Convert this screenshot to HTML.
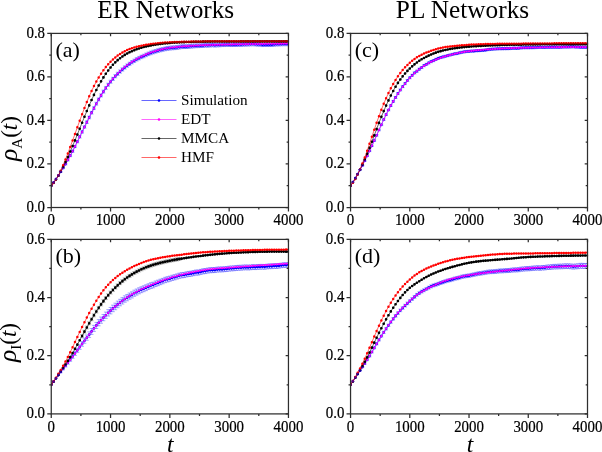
<!DOCTYPE html>
<html lang="en"><head><meta charset="utf-8"><title>ER and PL Networks</title>
<style>html,body{margin:0;padding:0;background:#fff}body{width:602px;height:452px;overflow:hidden}svg text{font-family:"Liberation Serif", "DejaVu Serif", serif}</style>
</head><body>
<svg width="602" height="452" viewBox="0 0 602 452" style="display:block">
<rect width="602" height="452" fill="#fff"/>
<g id="panel-a">
<clipPath id="clip-a"><rect x="51.25" y="33.4" width="237.8" height="174.1"/></clipPath>
<g clip-path="url(#clip-a)">
<path d="M60.74 171.25V172.31M58.84 171.25h3.8M58.84 172.31h3.8M63.11 167.3V168.64M61.21 167.3h3.8M61.21 168.64h3.8M65.48 163.27V164.87M63.58 163.27h3.8M63.58 164.87h3.8M67.85 159.03V160.9M65.95 159.03h3.8M65.95 160.9h3.8M70.23 154.65V156.69M68.33 154.65h3.8M68.33 156.69h3.8M72.6 150.13V152.25M70.7 150.13h3.8M70.7 152.25h3.8M74.97 145.44V147.64M73.07 145.44h3.8M73.07 147.64h3.8M77.34 140.59V142.87M75.44 140.59h3.8M75.44 142.87h3.8M79.71 135.68V138.04M77.81 135.68h3.8M77.81 138.04h3.8M82.09 130.72V133.16M80.19 130.72h3.8M80.19 133.16h3.8M84.46 125.72V128.24M82.56 125.72h3.8M82.56 128.24h3.8M86.83 120.89V123.49M84.93 120.89h3.8M84.93 123.49h3.8M89.2 116.11V118.79M87.3 116.11h3.8M87.3 118.79h3.8M91.57 111.34V114.1M89.67 111.34h3.8M89.67 114.1h3.8M93.95 106.73V109.57M92.05 106.73h3.8M92.05 109.57h3.8M96.32 102.27V105.19M94.42 102.27h3.8M94.42 105.19h3.8M98.69 97.95V100.95M96.79 97.95h3.8M96.79 100.95h3.8M101.06 93.87V96.9M99.16 93.87h3.8M99.16 96.9h3.8M103.43 90.12V93.17M101.53 90.12h3.8M101.53 93.17h3.8M105.81 86.45V89.53M103.91 86.45h3.8M103.91 89.53h3.8M108.18 83.21V86.31M106.28 83.21h3.8M106.28 86.31h3.8M110.55 80.19V83.32M108.65 80.19h3.8M108.65 83.32h3.8M112.92 77.3V80.46M111.02 77.3h3.8M111.02 80.46h3.8M115.29 74.62V77.81M113.39 74.62h3.8M113.39 77.81h3.8M117.67 72.22V75.44M115.77 72.22h3.8M115.77 75.44h3.8M120.04 69.96V73.2M118.14 69.96h3.8M118.14 73.2h3.8M122.41 67.82V71.08M120.51 67.82h3.8M120.51 71.08h3.8M124.78 65.81V69.1M122.88 65.81h3.8M122.88 69.1h3.8M127.15 63.96V67.28M125.25 63.96h3.8M125.25 67.28h3.8M129.53 62.22V65.56M127.63 62.22h3.8M127.63 65.56h3.8M131.9 60.52V63.89M130 60.52h3.8M130 63.89h3.8M134.27 59.13V62.53M132.37 59.13h3.8M132.37 62.53h3.8M136.64 57.59V61.02M134.74 57.59h3.8M134.74 61.02h3.8M139.01 56.4V59.85M137.11 56.4h3.8M137.11 59.85h3.8M141.39 55.19V58.67M139.49 55.19h3.8M139.49 58.67h3.8M143.76 54.23V57.74M141.86 54.23h3.8M141.86 57.74h3.8M146.13 53.09V56.63M144.23 53.09h3.8M144.23 56.63h3.8M148.5 52.02V55.58M146.6 52.02h3.8M146.6 55.58h3.8M150.87 51.1V54.69M148.97 51.1h3.8M148.97 54.69h3.8M153.25 50.22V53.83M151.35 50.22h3.8M151.35 53.83h3.8M155.62 49.49V53.13M153.72 49.49h3.8M153.72 53.13h3.8M157.99 48.72V52.38M156.09 48.72h3.8M156.09 52.38h3.8M160.36 48.12V51.82M158.46 48.12h3.8M158.46 51.82h3.8M162.73 47.56V51.28M160.83 47.56h3.8M160.83 51.28h3.8M165.11 46.99V50.73M163.21 46.99h3.8M163.21 50.73h3.8M167.48 46.54V50.31M165.58 46.54h3.8M165.58 50.31h3.8M169.85 46.2V50M167.95 46.2h3.8M167.95 50h3.8M172.22 45.95V49.74M170.32 45.95h3.8M170.32 49.74h3.8M174.59 45.86V49.64M172.69 45.86h3.8M172.69 49.64h3.8M176.97 45.56V49.33M175.07 45.56h3.8M175.07 49.33h3.8M179.34 45.2V48.96M177.44 45.2h3.8M177.44 48.96h3.8M181.71 44.83V48.59M179.81 44.83h3.8M179.81 48.59h3.8M184.08 44.76V48.52M182.18 44.76h3.8M182.18 48.52h3.8M186.45 44.76V48.51M184.55 44.76h3.8M184.55 48.51h3.8M188.83 44.58V48.31M186.93 44.58h3.8M186.93 48.31h3.8M191.2 44.32V48.05M189.3 44.32h3.8M189.3 48.05h3.8M193.57 44.16V47.88M191.67 44.16h3.8M191.67 47.88h3.8M195.94 43.92V47.63M194.04 43.92h3.8M194.04 47.63h3.8M198.31 43.91V47.62M196.41 43.91h3.8M196.41 47.62h3.8M200.69 43.83V47.53M198.79 43.83h3.8M198.79 47.53h3.8M203.06 43.72V47.41M201.16 43.72h3.8M201.16 47.41h3.8M205.43 43.44V47.12M203.53 43.44h3.8M203.53 47.12h3.8M207.8 43.47V47.15M205.9 43.47h3.8M205.9 47.15h3.8M210.17 43.32V46.98M208.27 43.32h3.8M208.27 46.98h3.8M212.55 43.14V46.79M210.65 43.14h3.8M210.65 46.79h3.8M214.92 43.37V47.02M213.02 43.37h3.8M213.02 47.02h3.8M217.29 43.19V46.83M215.39 43.19h3.8M215.39 46.83h3.8M219.66 43.13V46.76M217.76 43.13h3.8M217.76 46.76h3.8M222.03 42.94V46.56M220.13 42.94h3.8M220.13 46.56h3.8M224.41 42.92V46.54M222.51 42.92h3.8M222.51 46.54h3.8M226.78 42.78V46.39M224.88 42.78h3.8M224.88 46.39h3.8M229.15 42.83V46.43M227.25 42.83h3.8M227.25 46.43h3.8M231.52 42.93V46.53M229.62 42.93h3.8M229.62 46.53h3.8M233.89 42.9V46.48M231.99 42.9h3.8M231.99 46.48h3.8M236.27 42.9V46.47M234.37 42.9h3.8M234.37 46.47h3.8M238.64 42.76V46.33M236.74 42.76h3.8M236.74 46.33h3.8M241.01 42.79V46.35M239.11 42.79h3.8M239.11 46.35h3.8M243.38 42.6V46.16M241.48 42.6h3.8M241.48 46.16h3.8M245.75 42.57V46.11M243.85 42.57h3.8M243.85 46.11h3.8M248.13 42.49V46.03M246.23 42.49h3.8M246.23 46.03h3.8M250.5 42.36V45.89M248.6 42.36h3.8M248.6 45.89h3.8M252.87 42.2V45.72M250.97 42.2h3.8M250.97 45.72h3.8M255.24 42.4V45.91M253.34 42.4h3.8M253.34 45.91h3.8M257.61 42.66V46.17M255.71 42.66h3.8M255.71 46.17h3.8M259.99 42.69V46.19M258.09 42.69h3.8M258.09 46.19h3.8M262.36 43.06V46.55M260.46 43.06h3.8M260.46 46.55h3.8M264.73 43.03V46.51M262.83 43.03h3.8M262.83 46.51h3.8M267.1 43.01V46.49M265.2 43.01h3.8M265.2 46.49h3.8M269.47 43.02V46.49M267.57 43.02h3.8M267.57 46.49h3.8M271.85 42.97V46.43M269.95 42.97h3.8M269.95 46.43h3.8M274.22 42.74V46.19M272.32 42.74h3.8M272.32 46.19h3.8M276.59 42.55V45.99M274.69 42.55h3.8M274.69 45.99h3.8M278.96 42.49V45.93M277.06 42.49h3.8M277.06 45.93h3.8M281.33 42.33V45.76M279.43 42.33h3.8M279.43 45.76h3.8M283.71 42.3V45.72M281.81 42.3h3.8M281.81 45.72h3.8M286.08 42.29V45.7M284.18 42.29h3.8M284.18 45.7h3.8M288.45 42.33V45.73M286.55 42.33h3.8M286.55 45.73h3.8" stroke="#0000ff" stroke-width="0.5" fill="none" opacity="0.7"/>
<polyline points="51.25,185.74 53.62,182.51 55.99,179.09 58.37,175.5 60.74,171.78 63.11,167.97 65.48,164.07 67.85,159.97 70.23,155.67 72.6,151.19 74.97,146.54 77.34,141.73 79.71,136.86 82.09,131.94 84.46,126.98 86.83,122.19 89.2,117.45 91.57,112.72 93.95,108.15 96.32,103.73 98.69,99.45 101.06,95.39 103.43,91.64 105.81,87.99 108.18,84.76 110.55,81.76 112.92,78.88 115.29,76.21 117.67,73.83 120.04,71.58 122.41,69.45 124.78,67.45 127.15,65.62 129.53,63.89 131.9,62.2 134.27,60.83 136.64,59.3 139.01,58.13 141.39,56.93 143.76,55.98 146.13,54.86 148.5,53.8 150.87,52.9 153.25,52.03 155.62,51.31 157.99,50.55 160.36,49.97 162.73,49.42 165.11,48.86 167.48,48.43 169.85,48.1 172.22,47.84 174.59,47.75 176.97,47.44 179.34,47.08 181.71,46.71 184.08,46.64 186.45,46.63 188.83,46.44 191.2,46.19 193.57,46.02 195.94,45.78 198.31,45.76 200.69,45.68 203.06,45.57 205.43,45.28 207.8,45.31 210.17,45.15 212.55,44.96 214.92,45.19 217.29,45.01 219.66,44.95 222.03,44.75 224.41,44.73 226.78,44.58 229.15,44.63 231.52,44.73 233.89,44.69 236.27,44.68 238.64,44.55 241.01,44.57 243.38,44.38 245.75,44.34 248.13,44.26 250.5,44.12 252.87,43.96 255.24,44.16 257.61,44.41 259.99,44.44 262.36,44.8 264.73,44.77 267.1,44.75 269.47,44.76 271.85,44.7 274.22,44.47 276.59,44.27 278.96,44.21 281.33,44.05 283.71,44.01 286.08,44 288.45,44.03" fill="none" stroke="#0000ff" stroke-width="0.6"/>
<path d="M49.9 185.74a1.35 1.35 0 1 0 2.7 0a1.35 1.35 0 1 0 -2.7 0M52.27 182.51a1.35 1.35 0 1 0 2.7 0a1.35 1.35 0 1 0 -2.7 0M54.64 179.09a1.35 1.35 0 1 0 2.7 0a1.35 1.35 0 1 0 -2.7 0M57.02 175.5a1.35 1.35 0 1 0 2.7 0a1.35 1.35 0 1 0 -2.7 0M59.39 171.78a1.35 1.35 0 1 0 2.7 0a1.35 1.35 0 1 0 -2.7 0M61.76 167.97a1.35 1.35 0 1 0 2.7 0a1.35 1.35 0 1 0 -2.7 0M64.13 164.07a1.35 1.35 0 1 0 2.7 0a1.35 1.35 0 1 0 -2.7 0M66.5 159.97a1.35 1.35 0 1 0 2.7 0a1.35 1.35 0 1 0 -2.7 0M68.88 155.67a1.35 1.35 0 1 0 2.7 0a1.35 1.35 0 1 0 -2.7 0M71.25 151.19a1.35 1.35 0 1 0 2.7 0a1.35 1.35 0 1 0 -2.7 0M73.62 146.54a1.35 1.35 0 1 0 2.7 0a1.35 1.35 0 1 0 -2.7 0M75.99 141.73a1.35 1.35 0 1 0 2.7 0a1.35 1.35 0 1 0 -2.7 0M78.36 136.86a1.35 1.35 0 1 0 2.7 0a1.35 1.35 0 1 0 -2.7 0M80.74 131.94a1.35 1.35 0 1 0 2.7 0a1.35 1.35 0 1 0 -2.7 0M83.11 126.98a1.35 1.35 0 1 0 2.7 0a1.35 1.35 0 1 0 -2.7 0M85.48 122.19a1.35 1.35 0 1 0 2.7 0a1.35 1.35 0 1 0 -2.7 0M87.85 117.45a1.35 1.35 0 1 0 2.7 0a1.35 1.35 0 1 0 -2.7 0M90.22 112.72a1.35 1.35 0 1 0 2.7 0a1.35 1.35 0 1 0 -2.7 0M92.6 108.15a1.35 1.35 0 1 0 2.7 0a1.35 1.35 0 1 0 -2.7 0M94.97 103.73a1.35 1.35 0 1 0 2.7 0a1.35 1.35 0 1 0 -2.7 0M97.34 99.45a1.35 1.35 0 1 0 2.7 0a1.35 1.35 0 1 0 -2.7 0M99.71 95.39a1.35 1.35 0 1 0 2.7 0a1.35 1.35 0 1 0 -2.7 0M102.08 91.64a1.35 1.35 0 1 0 2.7 0a1.35 1.35 0 1 0 -2.7 0M104.46 87.99a1.35 1.35 0 1 0 2.7 0a1.35 1.35 0 1 0 -2.7 0M106.83 84.76a1.35 1.35 0 1 0 2.7 0a1.35 1.35 0 1 0 -2.7 0M109.2 81.76a1.35 1.35 0 1 0 2.7 0a1.35 1.35 0 1 0 -2.7 0M111.57 78.88a1.35 1.35 0 1 0 2.7 0a1.35 1.35 0 1 0 -2.7 0M113.94 76.21a1.35 1.35 0 1 0 2.7 0a1.35 1.35 0 1 0 -2.7 0M116.32 73.83a1.35 1.35 0 1 0 2.7 0a1.35 1.35 0 1 0 -2.7 0M118.69 71.58a1.35 1.35 0 1 0 2.7 0a1.35 1.35 0 1 0 -2.7 0M121.06 69.45a1.35 1.35 0 1 0 2.7 0a1.35 1.35 0 1 0 -2.7 0M123.43 67.45a1.35 1.35 0 1 0 2.7 0a1.35 1.35 0 1 0 -2.7 0M125.8 65.62a1.35 1.35 0 1 0 2.7 0a1.35 1.35 0 1 0 -2.7 0M128.18 63.89a1.35 1.35 0 1 0 2.7 0a1.35 1.35 0 1 0 -2.7 0M130.55 62.2a1.35 1.35 0 1 0 2.7 0a1.35 1.35 0 1 0 -2.7 0M132.92 60.83a1.35 1.35 0 1 0 2.7 0a1.35 1.35 0 1 0 -2.7 0M135.29 59.3a1.35 1.35 0 1 0 2.7 0a1.35 1.35 0 1 0 -2.7 0M137.66 58.13a1.35 1.35 0 1 0 2.7 0a1.35 1.35 0 1 0 -2.7 0M140.04 56.93a1.35 1.35 0 1 0 2.7 0a1.35 1.35 0 1 0 -2.7 0M142.41 55.98a1.35 1.35 0 1 0 2.7 0a1.35 1.35 0 1 0 -2.7 0M144.78 54.86a1.35 1.35 0 1 0 2.7 0a1.35 1.35 0 1 0 -2.7 0M147.15 53.8a1.35 1.35 0 1 0 2.7 0a1.35 1.35 0 1 0 -2.7 0M149.52 52.9a1.35 1.35 0 1 0 2.7 0a1.35 1.35 0 1 0 -2.7 0M151.9 52.03a1.35 1.35 0 1 0 2.7 0a1.35 1.35 0 1 0 -2.7 0M154.27 51.31a1.35 1.35 0 1 0 2.7 0a1.35 1.35 0 1 0 -2.7 0M156.64 50.55a1.35 1.35 0 1 0 2.7 0a1.35 1.35 0 1 0 -2.7 0M159.01 49.97a1.35 1.35 0 1 0 2.7 0a1.35 1.35 0 1 0 -2.7 0M161.38 49.42a1.35 1.35 0 1 0 2.7 0a1.35 1.35 0 1 0 -2.7 0M163.76 48.86a1.35 1.35 0 1 0 2.7 0a1.35 1.35 0 1 0 -2.7 0M166.13 48.43a1.35 1.35 0 1 0 2.7 0a1.35 1.35 0 1 0 -2.7 0M168.5 48.1a1.35 1.35 0 1 0 2.7 0a1.35 1.35 0 1 0 -2.7 0M170.87 47.84a1.35 1.35 0 1 0 2.7 0a1.35 1.35 0 1 0 -2.7 0M173.24 47.75a1.35 1.35 0 1 0 2.7 0a1.35 1.35 0 1 0 -2.7 0M175.62 47.44a1.35 1.35 0 1 0 2.7 0a1.35 1.35 0 1 0 -2.7 0M177.99 47.08a1.35 1.35 0 1 0 2.7 0a1.35 1.35 0 1 0 -2.7 0M180.36 46.71a1.35 1.35 0 1 0 2.7 0a1.35 1.35 0 1 0 -2.7 0M182.73 46.64a1.35 1.35 0 1 0 2.7 0a1.35 1.35 0 1 0 -2.7 0M185.1 46.63a1.35 1.35 0 1 0 2.7 0a1.35 1.35 0 1 0 -2.7 0M187.48 46.44a1.35 1.35 0 1 0 2.7 0a1.35 1.35 0 1 0 -2.7 0M189.85 46.19a1.35 1.35 0 1 0 2.7 0a1.35 1.35 0 1 0 -2.7 0M192.22 46.02a1.35 1.35 0 1 0 2.7 0a1.35 1.35 0 1 0 -2.7 0M194.59 45.78a1.35 1.35 0 1 0 2.7 0a1.35 1.35 0 1 0 -2.7 0M196.96 45.76a1.35 1.35 0 1 0 2.7 0a1.35 1.35 0 1 0 -2.7 0M199.34 45.68a1.35 1.35 0 1 0 2.7 0a1.35 1.35 0 1 0 -2.7 0M201.71 45.57a1.35 1.35 0 1 0 2.7 0a1.35 1.35 0 1 0 -2.7 0M204.08 45.28a1.35 1.35 0 1 0 2.7 0a1.35 1.35 0 1 0 -2.7 0M206.45 45.31a1.35 1.35 0 1 0 2.7 0a1.35 1.35 0 1 0 -2.7 0M208.82 45.15a1.35 1.35 0 1 0 2.7 0a1.35 1.35 0 1 0 -2.7 0M211.2 44.96a1.35 1.35 0 1 0 2.7 0a1.35 1.35 0 1 0 -2.7 0M213.57 45.19a1.35 1.35 0 1 0 2.7 0a1.35 1.35 0 1 0 -2.7 0M215.94 45.01a1.35 1.35 0 1 0 2.7 0a1.35 1.35 0 1 0 -2.7 0M218.31 44.95a1.35 1.35 0 1 0 2.7 0a1.35 1.35 0 1 0 -2.7 0M220.68 44.75a1.35 1.35 0 1 0 2.7 0a1.35 1.35 0 1 0 -2.7 0M223.06 44.73a1.35 1.35 0 1 0 2.7 0a1.35 1.35 0 1 0 -2.7 0M225.43 44.58a1.35 1.35 0 1 0 2.7 0a1.35 1.35 0 1 0 -2.7 0M227.8 44.63a1.35 1.35 0 1 0 2.7 0a1.35 1.35 0 1 0 -2.7 0M230.17 44.73a1.35 1.35 0 1 0 2.7 0a1.35 1.35 0 1 0 -2.7 0M232.54 44.69a1.35 1.35 0 1 0 2.7 0a1.35 1.35 0 1 0 -2.7 0M234.92 44.68a1.35 1.35 0 1 0 2.7 0a1.35 1.35 0 1 0 -2.7 0M237.29 44.55a1.35 1.35 0 1 0 2.7 0a1.35 1.35 0 1 0 -2.7 0M239.66 44.57a1.35 1.35 0 1 0 2.7 0a1.35 1.35 0 1 0 -2.7 0M242.03 44.38a1.35 1.35 0 1 0 2.7 0a1.35 1.35 0 1 0 -2.7 0M244.4 44.34a1.35 1.35 0 1 0 2.7 0a1.35 1.35 0 1 0 -2.7 0M246.78 44.26a1.35 1.35 0 1 0 2.7 0a1.35 1.35 0 1 0 -2.7 0M249.15 44.12a1.35 1.35 0 1 0 2.7 0a1.35 1.35 0 1 0 -2.7 0M251.52 43.96a1.35 1.35 0 1 0 2.7 0a1.35 1.35 0 1 0 -2.7 0M253.89 44.16a1.35 1.35 0 1 0 2.7 0a1.35 1.35 0 1 0 -2.7 0M256.26 44.41a1.35 1.35 0 1 0 2.7 0a1.35 1.35 0 1 0 -2.7 0M258.64 44.44a1.35 1.35 0 1 0 2.7 0a1.35 1.35 0 1 0 -2.7 0M261.01 44.8a1.35 1.35 0 1 0 2.7 0a1.35 1.35 0 1 0 -2.7 0M263.38 44.77a1.35 1.35 0 1 0 2.7 0a1.35 1.35 0 1 0 -2.7 0M265.75 44.75a1.35 1.35 0 1 0 2.7 0a1.35 1.35 0 1 0 -2.7 0M268.12 44.76a1.35 1.35 0 1 0 2.7 0a1.35 1.35 0 1 0 -2.7 0M270.5 44.7a1.35 1.35 0 1 0 2.7 0a1.35 1.35 0 1 0 -2.7 0M272.87 44.47a1.35 1.35 0 1 0 2.7 0a1.35 1.35 0 1 0 -2.7 0M275.24 44.27a1.35 1.35 0 1 0 2.7 0a1.35 1.35 0 1 0 -2.7 0M277.61 44.21a1.35 1.35 0 1 0 2.7 0a1.35 1.35 0 1 0 -2.7 0M279.98 44.05a1.35 1.35 0 1 0 2.7 0a1.35 1.35 0 1 0 -2.7 0M282.36 44.01a1.35 1.35 0 1 0 2.7 0a1.35 1.35 0 1 0 -2.7 0M284.73 44a1.35 1.35 0 1 0 2.7 0a1.35 1.35 0 1 0 -2.7 0M287.1 44.03a1.35 1.35 0 1 0 2.7 0a1.35 1.35 0 1 0 -2.7 0" fill="#0000ff"/>
<polyline points="51.25,185.74 53.62,182.51 55.99,179.09 58.37,175.51 60.74,171.79 63.11,167.98 65.48,164.07 67.85,160 70.23,155.72 72.6,151.23 74.97,146.56 77.34,141.77 79.71,136.91 82.09,132.02 84.46,127.14 86.83,122.29 89.2,117.51 91.57,112.81 93.95,108.22 96.32,103.76 98.69,99.48 101.06,95.42 103.43,91.59 105.81,88.01 108.18,84.68 110.55,81.58 112.92,78.7 115.29,76.03 117.67,73.55 120.04,71.23 122.41,69.07 124.78,67.07 127.15,65.21 129.53,63.49 131.9,61.91 134.27,60.43 136.64,59.06 139.01,57.78 141.39,56.58 143.76,55.44 146.13,54.38 148.5,53.4 150.87,52.51 153.25,51.69 155.62,50.95 157.99,50.27 160.36,49.66 162.73,49.1 165.11,48.61 167.48,48.18 169.85,47.8 172.22,47.48 174.59,47.19 176.97,46.93 179.34,46.7 181.71,46.49 184.08,46.3 186.45,46.13 188.83,45.96 191.2,45.81 193.57,45.68 195.94,45.55 198.31,45.43 200.69,45.32 203.06,45.22 205.43,45.13 207.8,45.04 210.17,44.96 212.55,44.89 214.92,44.83 217.29,44.76 219.66,44.7 222.03,44.64 224.41,44.59 226.78,44.53 229.15,44.48 231.52,44.42 233.89,44.37 236.27,44.32 238.64,44.27 241.01,44.23 243.38,44.18 245.75,44.14 248.13,44.1 250.5,44.06 252.87,44.02 255.24,43.99 257.61,43.95 259.99,43.92 262.36,43.89 264.73,43.85 267.1,43.82 269.47,43.79 271.85,43.76 274.22,43.73 276.59,43.7 278.96,43.67 281.33,43.64 283.71,43.62 286.08,43.59 288.45,43.56" fill="none" stroke="#ff00ff" stroke-width="0.6"/>
<path d="M50.2 185.74a1.05 1.05 0 1 0 2.1 0a1.05 1.05 0 1 0 -2.1 0M52.57 182.51a1.05 1.05 0 1 0 2.1 0a1.05 1.05 0 1 0 -2.1 0M54.94 179.09a1.05 1.05 0 1 0 2.1 0a1.05 1.05 0 1 0 -2.1 0M57.32 175.51a1.05 1.05 0 1 0 2.1 0a1.05 1.05 0 1 0 -2.1 0M59.69 171.79a1.05 1.05 0 1 0 2.1 0a1.05 1.05 0 1 0 -2.1 0M62.06 167.98a1.05 1.05 0 1 0 2.1 0a1.05 1.05 0 1 0 -2.1 0M64.43 164.07a1.05 1.05 0 1 0 2.1 0a1.05 1.05 0 1 0 -2.1 0M66.8 160a1.05 1.05 0 1 0 2.1 0a1.05 1.05 0 1 0 -2.1 0M69.18 155.72a1.05 1.05 0 1 0 2.1 0a1.05 1.05 0 1 0 -2.1 0M71.55 151.23a1.05 1.05 0 1 0 2.1 0a1.05 1.05 0 1 0 -2.1 0M73.92 146.56a1.05 1.05 0 1 0 2.1 0a1.05 1.05 0 1 0 -2.1 0M76.29 141.77a1.05 1.05 0 1 0 2.1 0a1.05 1.05 0 1 0 -2.1 0M78.66 136.91a1.05 1.05 0 1 0 2.1 0a1.05 1.05 0 1 0 -2.1 0M81.04 132.02a1.05 1.05 0 1 0 2.1 0a1.05 1.05 0 1 0 -2.1 0M83.41 127.14a1.05 1.05 0 1 0 2.1 0a1.05 1.05 0 1 0 -2.1 0M85.78 122.29a1.05 1.05 0 1 0 2.1 0a1.05 1.05 0 1 0 -2.1 0M88.15 117.51a1.05 1.05 0 1 0 2.1 0a1.05 1.05 0 1 0 -2.1 0M90.52 112.81a1.05 1.05 0 1 0 2.1 0a1.05 1.05 0 1 0 -2.1 0M92.9 108.22a1.05 1.05 0 1 0 2.1 0a1.05 1.05 0 1 0 -2.1 0M95.27 103.76a1.05 1.05 0 1 0 2.1 0a1.05 1.05 0 1 0 -2.1 0M97.64 99.48a1.05 1.05 0 1 0 2.1 0a1.05 1.05 0 1 0 -2.1 0M100.01 95.42a1.05 1.05 0 1 0 2.1 0a1.05 1.05 0 1 0 -2.1 0M102.38 91.59a1.05 1.05 0 1 0 2.1 0a1.05 1.05 0 1 0 -2.1 0M104.76 88.01a1.05 1.05 0 1 0 2.1 0a1.05 1.05 0 1 0 -2.1 0M107.13 84.68a1.05 1.05 0 1 0 2.1 0a1.05 1.05 0 1 0 -2.1 0M109.5 81.58a1.05 1.05 0 1 0 2.1 0a1.05 1.05 0 1 0 -2.1 0M111.87 78.7a1.05 1.05 0 1 0 2.1 0a1.05 1.05 0 1 0 -2.1 0M114.24 76.03a1.05 1.05 0 1 0 2.1 0a1.05 1.05 0 1 0 -2.1 0M116.62 73.55a1.05 1.05 0 1 0 2.1 0a1.05 1.05 0 1 0 -2.1 0M118.99 71.23a1.05 1.05 0 1 0 2.1 0a1.05 1.05 0 1 0 -2.1 0M121.36 69.07a1.05 1.05 0 1 0 2.1 0a1.05 1.05 0 1 0 -2.1 0M123.73 67.07a1.05 1.05 0 1 0 2.1 0a1.05 1.05 0 1 0 -2.1 0M126.1 65.21a1.05 1.05 0 1 0 2.1 0a1.05 1.05 0 1 0 -2.1 0M128.48 63.49a1.05 1.05 0 1 0 2.1 0a1.05 1.05 0 1 0 -2.1 0M130.85 61.91a1.05 1.05 0 1 0 2.1 0a1.05 1.05 0 1 0 -2.1 0M133.22 60.43a1.05 1.05 0 1 0 2.1 0a1.05 1.05 0 1 0 -2.1 0M135.59 59.06a1.05 1.05 0 1 0 2.1 0a1.05 1.05 0 1 0 -2.1 0M137.96 57.78a1.05 1.05 0 1 0 2.1 0a1.05 1.05 0 1 0 -2.1 0M140.34 56.58a1.05 1.05 0 1 0 2.1 0a1.05 1.05 0 1 0 -2.1 0M142.71 55.44a1.05 1.05 0 1 0 2.1 0a1.05 1.05 0 1 0 -2.1 0M145.08 54.38a1.05 1.05 0 1 0 2.1 0a1.05 1.05 0 1 0 -2.1 0M147.45 53.4a1.05 1.05 0 1 0 2.1 0a1.05 1.05 0 1 0 -2.1 0M149.82 52.51a1.05 1.05 0 1 0 2.1 0a1.05 1.05 0 1 0 -2.1 0M152.2 51.69a1.05 1.05 0 1 0 2.1 0a1.05 1.05 0 1 0 -2.1 0M154.57 50.95a1.05 1.05 0 1 0 2.1 0a1.05 1.05 0 1 0 -2.1 0M156.94 50.27a1.05 1.05 0 1 0 2.1 0a1.05 1.05 0 1 0 -2.1 0M159.31 49.66a1.05 1.05 0 1 0 2.1 0a1.05 1.05 0 1 0 -2.1 0M161.68 49.1a1.05 1.05 0 1 0 2.1 0a1.05 1.05 0 1 0 -2.1 0M164.06 48.61a1.05 1.05 0 1 0 2.1 0a1.05 1.05 0 1 0 -2.1 0M166.43 48.18a1.05 1.05 0 1 0 2.1 0a1.05 1.05 0 1 0 -2.1 0M168.8 47.8a1.05 1.05 0 1 0 2.1 0a1.05 1.05 0 1 0 -2.1 0M171.17 47.48a1.05 1.05 0 1 0 2.1 0a1.05 1.05 0 1 0 -2.1 0M173.54 47.19a1.05 1.05 0 1 0 2.1 0a1.05 1.05 0 1 0 -2.1 0M175.92 46.93a1.05 1.05 0 1 0 2.1 0a1.05 1.05 0 1 0 -2.1 0M178.29 46.7a1.05 1.05 0 1 0 2.1 0a1.05 1.05 0 1 0 -2.1 0M180.66 46.49a1.05 1.05 0 1 0 2.1 0a1.05 1.05 0 1 0 -2.1 0M183.03 46.3a1.05 1.05 0 1 0 2.1 0a1.05 1.05 0 1 0 -2.1 0M185.4 46.13a1.05 1.05 0 1 0 2.1 0a1.05 1.05 0 1 0 -2.1 0M187.78 45.96a1.05 1.05 0 1 0 2.1 0a1.05 1.05 0 1 0 -2.1 0M190.15 45.81a1.05 1.05 0 1 0 2.1 0a1.05 1.05 0 1 0 -2.1 0M192.52 45.68a1.05 1.05 0 1 0 2.1 0a1.05 1.05 0 1 0 -2.1 0M194.89 45.55a1.05 1.05 0 1 0 2.1 0a1.05 1.05 0 1 0 -2.1 0M197.26 45.43a1.05 1.05 0 1 0 2.1 0a1.05 1.05 0 1 0 -2.1 0M199.64 45.32a1.05 1.05 0 1 0 2.1 0a1.05 1.05 0 1 0 -2.1 0M202.01 45.22a1.05 1.05 0 1 0 2.1 0a1.05 1.05 0 1 0 -2.1 0M204.38 45.13a1.05 1.05 0 1 0 2.1 0a1.05 1.05 0 1 0 -2.1 0M206.75 45.04a1.05 1.05 0 1 0 2.1 0a1.05 1.05 0 1 0 -2.1 0M209.12 44.96a1.05 1.05 0 1 0 2.1 0a1.05 1.05 0 1 0 -2.1 0M211.5 44.89a1.05 1.05 0 1 0 2.1 0a1.05 1.05 0 1 0 -2.1 0M213.87 44.83a1.05 1.05 0 1 0 2.1 0a1.05 1.05 0 1 0 -2.1 0M216.24 44.76a1.05 1.05 0 1 0 2.1 0a1.05 1.05 0 1 0 -2.1 0M218.61 44.7a1.05 1.05 0 1 0 2.1 0a1.05 1.05 0 1 0 -2.1 0M220.98 44.64a1.05 1.05 0 1 0 2.1 0a1.05 1.05 0 1 0 -2.1 0M223.36 44.59a1.05 1.05 0 1 0 2.1 0a1.05 1.05 0 1 0 -2.1 0M225.73 44.53a1.05 1.05 0 1 0 2.1 0a1.05 1.05 0 1 0 -2.1 0M228.1 44.48a1.05 1.05 0 1 0 2.1 0a1.05 1.05 0 1 0 -2.1 0M230.47 44.42a1.05 1.05 0 1 0 2.1 0a1.05 1.05 0 1 0 -2.1 0M232.84 44.37a1.05 1.05 0 1 0 2.1 0a1.05 1.05 0 1 0 -2.1 0M235.22 44.32a1.05 1.05 0 1 0 2.1 0a1.05 1.05 0 1 0 -2.1 0M237.59 44.27a1.05 1.05 0 1 0 2.1 0a1.05 1.05 0 1 0 -2.1 0M239.96 44.23a1.05 1.05 0 1 0 2.1 0a1.05 1.05 0 1 0 -2.1 0M242.33 44.18a1.05 1.05 0 1 0 2.1 0a1.05 1.05 0 1 0 -2.1 0M244.7 44.14a1.05 1.05 0 1 0 2.1 0a1.05 1.05 0 1 0 -2.1 0M247.08 44.1a1.05 1.05 0 1 0 2.1 0a1.05 1.05 0 1 0 -2.1 0M249.45 44.06a1.05 1.05 0 1 0 2.1 0a1.05 1.05 0 1 0 -2.1 0M251.82 44.02a1.05 1.05 0 1 0 2.1 0a1.05 1.05 0 1 0 -2.1 0M254.19 43.99a1.05 1.05 0 1 0 2.1 0a1.05 1.05 0 1 0 -2.1 0M256.56 43.95a1.05 1.05 0 1 0 2.1 0a1.05 1.05 0 1 0 -2.1 0M258.94 43.92a1.05 1.05 0 1 0 2.1 0a1.05 1.05 0 1 0 -2.1 0M261.31 43.89a1.05 1.05 0 1 0 2.1 0a1.05 1.05 0 1 0 -2.1 0M263.68 43.85a1.05 1.05 0 1 0 2.1 0a1.05 1.05 0 1 0 -2.1 0M266.05 43.82a1.05 1.05 0 1 0 2.1 0a1.05 1.05 0 1 0 -2.1 0M268.42 43.79a1.05 1.05 0 1 0 2.1 0a1.05 1.05 0 1 0 -2.1 0M270.8 43.76a1.05 1.05 0 1 0 2.1 0a1.05 1.05 0 1 0 -2.1 0M273.17 43.73a1.05 1.05 0 1 0 2.1 0a1.05 1.05 0 1 0 -2.1 0M275.54 43.7a1.05 1.05 0 1 0 2.1 0a1.05 1.05 0 1 0 -2.1 0M277.91 43.67a1.05 1.05 0 1 0 2.1 0a1.05 1.05 0 1 0 -2.1 0M280.28 43.64a1.05 1.05 0 1 0 2.1 0a1.05 1.05 0 1 0 -2.1 0M282.66 43.62a1.05 1.05 0 1 0 2.1 0a1.05 1.05 0 1 0 -2.1 0M285.03 43.59a1.05 1.05 0 1 0 2.1 0a1.05 1.05 0 1 0 -2.1 0M287.4 43.56a1.05 1.05 0 1 0 2.1 0a1.05 1.05 0 1 0 -2.1 0" fill="#ff00ff"/>
<polyline points="51.25,185.74 53.62,182.8 55.99,179.45 58.37,175.68 60.74,171.51 63.11,166.97 65.48,162.09 67.85,156.94 70.23,151.57 72.6,146.04 74.97,140.37 77.34,134.58 79.71,128.68 82.09,122.73 84.46,116.82 86.83,111.02 89.2,105.4 91.57,100.01 93.95,94.9 96.32,90.07 98.69,85.55 101.06,81.33 103.43,77.42 105.81,73.82 108.18,70.52 110.55,67.52 112.92,64.8 115.29,62.35 117.67,60.16 120.04,58.2 122.41,56.45 124.78,54.9 127.15,53.51 129.53,52.28 131.9,51.18 134.27,50.19 136.64,49.29 139.01,48.48 141.39,47.74 143.76,47.07 146.13,46.46 148.5,45.92 150.87,45.42 153.25,44.98 155.62,44.58 157.99,44.22 160.36,43.9 162.73,43.62 165.11,43.36 167.48,43.14 169.85,42.95 172.22,42.77 174.59,42.62 176.97,42.48 179.34,42.36 181.71,42.26 184.08,42.16 186.45,42.07 188.83,42 191.2,41.93 193.57,41.86 195.94,41.81 198.31,41.76 200.69,41.71 203.06,41.67 205.43,41.64 207.8,41.61 210.17,41.58 212.55,41.55 214.92,41.53 217.29,41.51 219.66,41.5 222.03,41.48 224.41,41.47 226.78,41.46 229.15,41.45 231.52,41.44 233.89,41.44 236.27,41.43 238.64,41.43 241.01,41.42 243.38,41.42 245.75,41.41 248.13,41.41 250.5,41.41 252.87,41.41 255.24,41.4 257.61,41.4 259.99,41.4 262.36,41.4 264.73,41.4 267.1,41.4 269.47,41.4 271.85,41.39 274.22,41.39 276.59,41.39 278.96,41.39 281.33,41.39 283.71,41.39 286.08,41.39 288.45,41.39" fill="none" stroke="#000000" stroke-width="0.6"/>
<path d="M49.95 185.74a1.3 1.3 0 1 0 2.6 0a1.3 1.3 0 1 0 -2.6 0M52.32 182.8a1.3 1.3 0 1 0 2.6 0a1.3 1.3 0 1 0 -2.6 0M54.69 179.45a1.3 1.3 0 1 0 2.6 0a1.3 1.3 0 1 0 -2.6 0M57.07 175.68a1.3 1.3 0 1 0 2.6 0a1.3 1.3 0 1 0 -2.6 0M59.44 171.51a1.3 1.3 0 1 0 2.6 0a1.3 1.3 0 1 0 -2.6 0M61.81 166.97a1.3 1.3 0 1 0 2.6 0a1.3 1.3 0 1 0 -2.6 0M64.18 162.09a1.3 1.3 0 1 0 2.6 0a1.3 1.3 0 1 0 -2.6 0M66.55 156.94a1.3 1.3 0 1 0 2.6 0a1.3 1.3 0 1 0 -2.6 0M68.93 151.57a1.3 1.3 0 1 0 2.6 0a1.3 1.3 0 1 0 -2.6 0M71.3 146.04a1.3 1.3 0 1 0 2.6 0a1.3 1.3 0 1 0 -2.6 0M73.67 140.37a1.3 1.3 0 1 0 2.6 0a1.3 1.3 0 1 0 -2.6 0M76.04 134.58a1.3 1.3 0 1 0 2.6 0a1.3 1.3 0 1 0 -2.6 0M78.41 128.68a1.3 1.3 0 1 0 2.6 0a1.3 1.3 0 1 0 -2.6 0M80.79 122.73a1.3 1.3 0 1 0 2.6 0a1.3 1.3 0 1 0 -2.6 0M83.16 116.82a1.3 1.3 0 1 0 2.6 0a1.3 1.3 0 1 0 -2.6 0M85.53 111.02a1.3 1.3 0 1 0 2.6 0a1.3 1.3 0 1 0 -2.6 0M87.9 105.4a1.3 1.3 0 1 0 2.6 0a1.3 1.3 0 1 0 -2.6 0M90.27 100.01a1.3 1.3 0 1 0 2.6 0a1.3 1.3 0 1 0 -2.6 0M92.65 94.9a1.3 1.3 0 1 0 2.6 0a1.3 1.3 0 1 0 -2.6 0M95.02 90.07a1.3 1.3 0 1 0 2.6 0a1.3 1.3 0 1 0 -2.6 0M97.39 85.55a1.3 1.3 0 1 0 2.6 0a1.3 1.3 0 1 0 -2.6 0M99.76 81.33a1.3 1.3 0 1 0 2.6 0a1.3 1.3 0 1 0 -2.6 0M102.13 77.42a1.3 1.3 0 1 0 2.6 0a1.3 1.3 0 1 0 -2.6 0M104.51 73.82a1.3 1.3 0 1 0 2.6 0a1.3 1.3 0 1 0 -2.6 0M106.88 70.52a1.3 1.3 0 1 0 2.6 0a1.3 1.3 0 1 0 -2.6 0M109.25 67.52a1.3 1.3 0 1 0 2.6 0a1.3 1.3 0 1 0 -2.6 0M111.62 64.8a1.3 1.3 0 1 0 2.6 0a1.3 1.3 0 1 0 -2.6 0M113.99 62.35a1.3 1.3 0 1 0 2.6 0a1.3 1.3 0 1 0 -2.6 0M116.37 60.16a1.3 1.3 0 1 0 2.6 0a1.3 1.3 0 1 0 -2.6 0M118.74 58.2a1.3 1.3 0 1 0 2.6 0a1.3 1.3 0 1 0 -2.6 0M121.11 56.45a1.3 1.3 0 1 0 2.6 0a1.3 1.3 0 1 0 -2.6 0M123.48 54.9a1.3 1.3 0 1 0 2.6 0a1.3 1.3 0 1 0 -2.6 0M125.85 53.51a1.3 1.3 0 1 0 2.6 0a1.3 1.3 0 1 0 -2.6 0M128.23 52.28a1.3 1.3 0 1 0 2.6 0a1.3 1.3 0 1 0 -2.6 0M130.6 51.18a1.3 1.3 0 1 0 2.6 0a1.3 1.3 0 1 0 -2.6 0M132.97 50.19a1.3 1.3 0 1 0 2.6 0a1.3 1.3 0 1 0 -2.6 0M135.34 49.29a1.3 1.3 0 1 0 2.6 0a1.3 1.3 0 1 0 -2.6 0M137.71 48.48a1.3 1.3 0 1 0 2.6 0a1.3 1.3 0 1 0 -2.6 0M140.09 47.74a1.3 1.3 0 1 0 2.6 0a1.3 1.3 0 1 0 -2.6 0M142.46 47.07a1.3 1.3 0 1 0 2.6 0a1.3 1.3 0 1 0 -2.6 0M144.83 46.46a1.3 1.3 0 1 0 2.6 0a1.3 1.3 0 1 0 -2.6 0M147.2 45.92a1.3 1.3 0 1 0 2.6 0a1.3 1.3 0 1 0 -2.6 0M149.57 45.42a1.3 1.3 0 1 0 2.6 0a1.3 1.3 0 1 0 -2.6 0M151.95 44.98a1.3 1.3 0 1 0 2.6 0a1.3 1.3 0 1 0 -2.6 0M154.32 44.58a1.3 1.3 0 1 0 2.6 0a1.3 1.3 0 1 0 -2.6 0M156.69 44.22a1.3 1.3 0 1 0 2.6 0a1.3 1.3 0 1 0 -2.6 0M159.06 43.9a1.3 1.3 0 1 0 2.6 0a1.3 1.3 0 1 0 -2.6 0M161.43 43.62a1.3 1.3 0 1 0 2.6 0a1.3 1.3 0 1 0 -2.6 0M163.81 43.36a1.3 1.3 0 1 0 2.6 0a1.3 1.3 0 1 0 -2.6 0M166.18 43.14a1.3 1.3 0 1 0 2.6 0a1.3 1.3 0 1 0 -2.6 0M168.55 42.95a1.3 1.3 0 1 0 2.6 0a1.3 1.3 0 1 0 -2.6 0M170.92 42.77a1.3 1.3 0 1 0 2.6 0a1.3 1.3 0 1 0 -2.6 0M173.29 42.62a1.3 1.3 0 1 0 2.6 0a1.3 1.3 0 1 0 -2.6 0M175.67 42.48a1.3 1.3 0 1 0 2.6 0a1.3 1.3 0 1 0 -2.6 0M178.04 42.36a1.3 1.3 0 1 0 2.6 0a1.3 1.3 0 1 0 -2.6 0M180.41 42.26a1.3 1.3 0 1 0 2.6 0a1.3 1.3 0 1 0 -2.6 0M182.78 42.16a1.3 1.3 0 1 0 2.6 0a1.3 1.3 0 1 0 -2.6 0M185.15 42.07a1.3 1.3 0 1 0 2.6 0a1.3 1.3 0 1 0 -2.6 0M187.53 42a1.3 1.3 0 1 0 2.6 0a1.3 1.3 0 1 0 -2.6 0M189.9 41.93a1.3 1.3 0 1 0 2.6 0a1.3 1.3 0 1 0 -2.6 0M192.27 41.86a1.3 1.3 0 1 0 2.6 0a1.3 1.3 0 1 0 -2.6 0M194.64 41.81a1.3 1.3 0 1 0 2.6 0a1.3 1.3 0 1 0 -2.6 0M197.01 41.76a1.3 1.3 0 1 0 2.6 0a1.3 1.3 0 1 0 -2.6 0M199.39 41.71a1.3 1.3 0 1 0 2.6 0a1.3 1.3 0 1 0 -2.6 0M201.76 41.67a1.3 1.3 0 1 0 2.6 0a1.3 1.3 0 1 0 -2.6 0M204.13 41.64a1.3 1.3 0 1 0 2.6 0a1.3 1.3 0 1 0 -2.6 0M206.5 41.61a1.3 1.3 0 1 0 2.6 0a1.3 1.3 0 1 0 -2.6 0M208.87 41.58a1.3 1.3 0 1 0 2.6 0a1.3 1.3 0 1 0 -2.6 0M211.25 41.55a1.3 1.3 0 1 0 2.6 0a1.3 1.3 0 1 0 -2.6 0M213.62 41.53a1.3 1.3 0 1 0 2.6 0a1.3 1.3 0 1 0 -2.6 0M215.99 41.51a1.3 1.3 0 1 0 2.6 0a1.3 1.3 0 1 0 -2.6 0M218.36 41.5a1.3 1.3 0 1 0 2.6 0a1.3 1.3 0 1 0 -2.6 0M220.73 41.48a1.3 1.3 0 1 0 2.6 0a1.3 1.3 0 1 0 -2.6 0M223.11 41.47a1.3 1.3 0 1 0 2.6 0a1.3 1.3 0 1 0 -2.6 0M225.48 41.46a1.3 1.3 0 1 0 2.6 0a1.3 1.3 0 1 0 -2.6 0M227.85 41.45a1.3 1.3 0 1 0 2.6 0a1.3 1.3 0 1 0 -2.6 0M230.22 41.44a1.3 1.3 0 1 0 2.6 0a1.3 1.3 0 1 0 -2.6 0M232.59 41.44a1.3 1.3 0 1 0 2.6 0a1.3 1.3 0 1 0 -2.6 0M234.97 41.43a1.3 1.3 0 1 0 2.6 0a1.3 1.3 0 1 0 -2.6 0M237.34 41.43a1.3 1.3 0 1 0 2.6 0a1.3 1.3 0 1 0 -2.6 0M239.71 41.42a1.3 1.3 0 1 0 2.6 0a1.3 1.3 0 1 0 -2.6 0M242.08 41.42a1.3 1.3 0 1 0 2.6 0a1.3 1.3 0 1 0 -2.6 0M244.45 41.41a1.3 1.3 0 1 0 2.6 0a1.3 1.3 0 1 0 -2.6 0M246.83 41.41a1.3 1.3 0 1 0 2.6 0a1.3 1.3 0 1 0 -2.6 0M249.2 41.41a1.3 1.3 0 1 0 2.6 0a1.3 1.3 0 1 0 -2.6 0M251.57 41.41a1.3 1.3 0 1 0 2.6 0a1.3 1.3 0 1 0 -2.6 0M253.94 41.4a1.3 1.3 0 1 0 2.6 0a1.3 1.3 0 1 0 -2.6 0M256.31 41.4a1.3 1.3 0 1 0 2.6 0a1.3 1.3 0 1 0 -2.6 0M258.69 41.4a1.3 1.3 0 1 0 2.6 0a1.3 1.3 0 1 0 -2.6 0M261.06 41.4a1.3 1.3 0 1 0 2.6 0a1.3 1.3 0 1 0 -2.6 0M263.43 41.4a1.3 1.3 0 1 0 2.6 0a1.3 1.3 0 1 0 -2.6 0M265.8 41.4a1.3 1.3 0 1 0 2.6 0a1.3 1.3 0 1 0 -2.6 0M268.17 41.4a1.3 1.3 0 1 0 2.6 0a1.3 1.3 0 1 0 -2.6 0M270.55 41.39a1.3 1.3 0 1 0 2.6 0a1.3 1.3 0 1 0 -2.6 0M272.92 41.39a1.3 1.3 0 1 0 2.6 0a1.3 1.3 0 1 0 -2.6 0M275.29 41.39a1.3 1.3 0 1 0 2.6 0a1.3 1.3 0 1 0 -2.6 0M277.66 41.39a1.3 1.3 0 1 0 2.6 0a1.3 1.3 0 1 0 -2.6 0M280.03 41.39a1.3 1.3 0 1 0 2.6 0a1.3 1.3 0 1 0 -2.6 0M282.41 41.39a1.3 1.3 0 1 0 2.6 0a1.3 1.3 0 1 0 -2.6 0M284.78 41.39a1.3 1.3 0 1 0 2.6 0a1.3 1.3 0 1 0 -2.6 0M287.15 41.39a1.3 1.3 0 1 0 2.6 0a1.3 1.3 0 1 0 -2.6 0" fill="#000000"/>
<polyline points="51.25,185.74 53.62,183.05 55.99,179.62 58.37,175.48 60.74,170.7 63.11,165.35 65.48,159.54 67.85,153.39 70.23,147.02 72.6,140.51 74.97,133.95 77.34,127.36 79.71,120.8 82.09,114.33 84.46,108.04 86.83,102.02 89.2,96.33 91.57,91.03 93.95,86.12 96.32,81.6 98.69,77.47 101.06,73.68 103.43,70.24 105.81,67.11 108.18,64.29 110.55,61.74 112.92,59.45 115.29,57.39 117.67,55.56 120.04,53.92 122.41,52.46 124.78,51.18 127.15,50.05 129.53,49.07 131.9,48.2 134.27,47.45 136.64,46.79 139.01,46.2 141.39,45.69 143.76,45.22 146.13,44.8 148.5,44.42 150.87,44.07 153.25,43.76 155.62,43.47 157.99,43.22 160.36,42.99 162.73,42.78 165.11,42.6 167.48,42.44 169.85,42.3 172.22,42.18 174.59,42.07 176.97,41.98 179.34,41.89 181.71,41.81 184.08,41.74 186.45,41.68 188.83,41.63 191.2,41.58 193.57,41.53 195.94,41.49 198.31,41.46 200.69,41.43 203.06,41.4 205.43,41.37 207.8,41.35 210.17,41.33 212.55,41.31 214.92,41.29 217.29,41.28 219.66,41.27 222.03,41.26 224.41,41.25 226.78,41.24 229.15,41.24 231.52,41.23 233.89,41.23 236.27,41.22 238.64,41.22 241.01,41.22 243.38,41.22 245.75,41.21 248.13,41.21 250.5,41.21 252.87,41.21 255.24,41.21 257.61,41.21 259.99,41.21 262.36,41.21 264.73,41.2 267.1,41.2 269.47,41.2 271.85,41.2 274.22,41.2 276.59,41.2 278.96,41.2 281.33,41.2 283.71,41.2 286.08,41.2 288.45,41.2" fill="none" stroke="#ff0000" stroke-width="0.6"/>
<path d="M50 185.74a1.25 1.25 0 1 0 2.5 0a1.25 1.25 0 1 0 -2.5 0M52.37 183.05a1.25 1.25 0 1 0 2.5 0a1.25 1.25 0 1 0 -2.5 0M54.74 179.62a1.25 1.25 0 1 0 2.5 0a1.25 1.25 0 1 0 -2.5 0M57.12 175.48a1.25 1.25 0 1 0 2.5 0a1.25 1.25 0 1 0 -2.5 0M59.49 170.7a1.25 1.25 0 1 0 2.5 0a1.25 1.25 0 1 0 -2.5 0M61.86 165.35a1.25 1.25 0 1 0 2.5 0a1.25 1.25 0 1 0 -2.5 0M64.23 159.54a1.25 1.25 0 1 0 2.5 0a1.25 1.25 0 1 0 -2.5 0M66.6 153.39a1.25 1.25 0 1 0 2.5 0a1.25 1.25 0 1 0 -2.5 0M68.98 147.02a1.25 1.25 0 1 0 2.5 0a1.25 1.25 0 1 0 -2.5 0M71.35 140.51a1.25 1.25 0 1 0 2.5 0a1.25 1.25 0 1 0 -2.5 0M73.72 133.95a1.25 1.25 0 1 0 2.5 0a1.25 1.25 0 1 0 -2.5 0M76.09 127.36a1.25 1.25 0 1 0 2.5 0a1.25 1.25 0 1 0 -2.5 0M78.46 120.8a1.25 1.25 0 1 0 2.5 0a1.25 1.25 0 1 0 -2.5 0M80.84 114.33a1.25 1.25 0 1 0 2.5 0a1.25 1.25 0 1 0 -2.5 0M83.21 108.04a1.25 1.25 0 1 0 2.5 0a1.25 1.25 0 1 0 -2.5 0M85.58 102.02a1.25 1.25 0 1 0 2.5 0a1.25 1.25 0 1 0 -2.5 0M87.95 96.33a1.25 1.25 0 1 0 2.5 0a1.25 1.25 0 1 0 -2.5 0M90.32 91.03a1.25 1.25 0 1 0 2.5 0a1.25 1.25 0 1 0 -2.5 0M92.7 86.12a1.25 1.25 0 1 0 2.5 0a1.25 1.25 0 1 0 -2.5 0M95.07 81.6a1.25 1.25 0 1 0 2.5 0a1.25 1.25 0 1 0 -2.5 0M97.44 77.47a1.25 1.25 0 1 0 2.5 0a1.25 1.25 0 1 0 -2.5 0M99.81 73.68a1.25 1.25 0 1 0 2.5 0a1.25 1.25 0 1 0 -2.5 0M102.18 70.24a1.25 1.25 0 1 0 2.5 0a1.25 1.25 0 1 0 -2.5 0M104.56 67.11a1.25 1.25 0 1 0 2.5 0a1.25 1.25 0 1 0 -2.5 0M106.93 64.29a1.25 1.25 0 1 0 2.5 0a1.25 1.25 0 1 0 -2.5 0M109.3 61.74a1.25 1.25 0 1 0 2.5 0a1.25 1.25 0 1 0 -2.5 0M111.67 59.45a1.25 1.25 0 1 0 2.5 0a1.25 1.25 0 1 0 -2.5 0M114.04 57.39a1.25 1.25 0 1 0 2.5 0a1.25 1.25 0 1 0 -2.5 0M116.42 55.56a1.25 1.25 0 1 0 2.5 0a1.25 1.25 0 1 0 -2.5 0M118.79 53.92a1.25 1.25 0 1 0 2.5 0a1.25 1.25 0 1 0 -2.5 0M121.16 52.46a1.25 1.25 0 1 0 2.5 0a1.25 1.25 0 1 0 -2.5 0M123.53 51.18a1.25 1.25 0 1 0 2.5 0a1.25 1.25 0 1 0 -2.5 0M125.9 50.05a1.25 1.25 0 1 0 2.5 0a1.25 1.25 0 1 0 -2.5 0M128.28 49.07a1.25 1.25 0 1 0 2.5 0a1.25 1.25 0 1 0 -2.5 0M130.65 48.2a1.25 1.25 0 1 0 2.5 0a1.25 1.25 0 1 0 -2.5 0M133.02 47.45a1.25 1.25 0 1 0 2.5 0a1.25 1.25 0 1 0 -2.5 0M135.39 46.79a1.25 1.25 0 1 0 2.5 0a1.25 1.25 0 1 0 -2.5 0M137.76 46.2a1.25 1.25 0 1 0 2.5 0a1.25 1.25 0 1 0 -2.5 0M140.14 45.69a1.25 1.25 0 1 0 2.5 0a1.25 1.25 0 1 0 -2.5 0M142.51 45.22a1.25 1.25 0 1 0 2.5 0a1.25 1.25 0 1 0 -2.5 0M144.88 44.8a1.25 1.25 0 1 0 2.5 0a1.25 1.25 0 1 0 -2.5 0M147.25 44.42a1.25 1.25 0 1 0 2.5 0a1.25 1.25 0 1 0 -2.5 0M149.62 44.07a1.25 1.25 0 1 0 2.5 0a1.25 1.25 0 1 0 -2.5 0M152 43.76a1.25 1.25 0 1 0 2.5 0a1.25 1.25 0 1 0 -2.5 0M154.37 43.47a1.25 1.25 0 1 0 2.5 0a1.25 1.25 0 1 0 -2.5 0M156.74 43.22a1.25 1.25 0 1 0 2.5 0a1.25 1.25 0 1 0 -2.5 0M159.11 42.99a1.25 1.25 0 1 0 2.5 0a1.25 1.25 0 1 0 -2.5 0M161.48 42.78a1.25 1.25 0 1 0 2.5 0a1.25 1.25 0 1 0 -2.5 0M163.86 42.6a1.25 1.25 0 1 0 2.5 0a1.25 1.25 0 1 0 -2.5 0M166.23 42.44a1.25 1.25 0 1 0 2.5 0a1.25 1.25 0 1 0 -2.5 0M168.6 42.3a1.25 1.25 0 1 0 2.5 0a1.25 1.25 0 1 0 -2.5 0M170.97 42.18a1.25 1.25 0 1 0 2.5 0a1.25 1.25 0 1 0 -2.5 0M173.34 42.07a1.25 1.25 0 1 0 2.5 0a1.25 1.25 0 1 0 -2.5 0M175.72 41.98a1.25 1.25 0 1 0 2.5 0a1.25 1.25 0 1 0 -2.5 0M178.09 41.89a1.25 1.25 0 1 0 2.5 0a1.25 1.25 0 1 0 -2.5 0M180.46 41.81a1.25 1.25 0 1 0 2.5 0a1.25 1.25 0 1 0 -2.5 0M182.83 41.74a1.25 1.25 0 1 0 2.5 0a1.25 1.25 0 1 0 -2.5 0M185.2 41.68a1.25 1.25 0 1 0 2.5 0a1.25 1.25 0 1 0 -2.5 0M187.58 41.63a1.25 1.25 0 1 0 2.5 0a1.25 1.25 0 1 0 -2.5 0M189.95 41.58a1.25 1.25 0 1 0 2.5 0a1.25 1.25 0 1 0 -2.5 0M192.32 41.53a1.25 1.25 0 1 0 2.5 0a1.25 1.25 0 1 0 -2.5 0M194.69 41.49a1.25 1.25 0 1 0 2.5 0a1.25 1.25 0 1 0 -2.5 0M197.06 41.46a1.25 1.25 0 1 0 2.5 0a1.25 1.25 0 1 0 -2.5 0M199.44 41.43a1.25 1.25 0 1 0 2.5 0a1.25 1.25 0 1 0 -2.5 0M201.81 41.4a1.25 1.25 0 1 0 2.5 0a1.25 1.25 0 1 0 -2.5 0M204.18 41.37a1.25 1.25 0 1 0 2.5 0a1.25 1.25 0 1 0 -2.5 0M206.55 41.35a1.25 1.25 0 1 0 2.5 0a1.25 1.25 0 1 0 -2.5 0M208.92 41.33a1.25 1.25 0 1 0 2.5 0a1.25 1.25 0 1 0 -2.5 0M211.3 41.31a1.25 1.25 0 1 0 2.5 0a1.25 1.25 0 1 0 -2.5 0M213.67 41.29a1.25 1.25 0 1 0 2.5 0a1.25 1.25 0 1 0 -2.5 0M216.04 41.28a1.25 1.25 0 1 0 2.5 0a1.25 1.25 0 1 0 -2.5 0M218.41 41.27a1.25 1.25 0 1 0 2.5 0a1.25 1.25 0 1 0 -2.5 0M220.78 41.26a1.25 1.25 0 1 0 2.5 0a1.25 1.25 0 1 0 -2.5 0M223.16 41.25a1.25 1.25 0 1 0 2.5 0a1.25 1.25 0 1 0 -2.5 0M225.53 41.24a1.25 1.25 0 1 0 2.5 0a1.25 1.25 0 1 0 -2.5 0M227.9 41.24a1.25 1.25 0 1 0 2.5 0a1.25 1.25 0 1 0 -2.5 0M230.27 41.23a1.25 1.25 0 1 0 2.5 0a1.25 1.25 0 1 0 -2.5 0M232.64 41.23a1.25 1.25 0 1 0 2.5 0a1.25 1.25 0 1 0 -2.5 0M235.02 41.22a1.25 1.25 0 1 0 2.5 0a1.25 1.25 0 1 0 -2.5 0M237.39 41.22a1.25 1.25 0 1 0 2.5 0a1.25 1.25 0 1 0 -2.5 0M239.76 41.22a1.25 1.25 0 1 0 2.5 0a1.25 1.25 0 1 0 -2.5 0M242.13 41.22a1.25 1.25 0 1 0 2.5 0a1.25 1.25 0 1 0 -2.5 0M244.5 41.21a1.25 1.25 0 1 0 2.5 0a1.25 1.25 0 1 0 -2.5 0M246.88 41.21a1.25 1.25 0 1 0 2.5 0a1.25 1.25 0 1 0 -2.5 0M249.25 41.21a1.25 1.25 0 1 0 2.5 0a1.25 1.25 0 1 0 -2.5 0M251.62 41.21a1.25 1.25 0 1 0 2.5 0a1.25 1.25 0 1 0 -2.5 0M253.99 41.21a1.25 1.25 0 1 0 2.5 0a1.25 1.25 0 1 0 -2.5 0M256.36 41.21a1.25 1.25 0 1 0 2.5 0a1.25 1.25 0 1 0 -2.5 0M258.74 41.21a1.25 1.25 0 1 0 2.5 0a1.25 1.25 0 1 0 -2.5 0M261.11 41.21a1.25 1.25 0 1 0 2.5 0a1.25 1.25 0 1 0 -2.5 0M263.48 41.2a1.25 1.25 0 1 0 2.5 0a1.25 1.25 0 1 0 -2.5 0M265.85 41.2a1.25 1.25 0 1 0 2.5 0a1.25 1.25 0 1 0 -2.5 0M268.22 41.2a1.25 1.25 0 1 0 2.5 0a1.25 1.25 0 1 0 -2.5 0M270.6 41.2a1.25 1.25 0 1 0 2.5 0a1.25 1.25 0 1 0 -2.5 0M272.97 41.2a1.25 1.25 0 1 0 2.5 0a1.25 1.25 0 1 0 -2.5 0M275.34 41.2a1.25 1.25 0 1 0 2.5 0a1.25 1.25 0 1 0 -2.5 0M277.71 41.2a1.25 1.25 0 1 0 2.5 0a1.25 1.25 0 1 0 -2.5 0M280.08 41.2a1.25 1.25 0 1 0 2.5 0a1.25 1.25 0 1 0 -2.5 0M282.46 41.2a1.25 1.25 0 1 0 2.5 0a1.25 1.25 0 1 0 -2.5 0M284.83 41.2a1.25 1.25 0 1 0 2.5 0a1.25 1.25 0 1 0 -2.5 0M287.2 41.2a1.25 1.25 0 1 0 2.5 0a1.25 1.25 0 1 0 -2.5 0" fill="#ff0000"/>
<path d="M49.95 185.74a1.3 1.3 0 1 0 2.6 0a1.3 1.3 0 1 0 -2.6 0M52.32 182.8a1.3 1.3 0 1 0 2.6 0a1.3 1.3 0 1 0 -2.6 0M54.69 179.45a1.3 1.3 0 1 0 2.6 0a1.3 1.3 0 1 0 -2.6 0M57.07 175.68a1.3 1.3 0 1 0 2.6 0a1.3 1.3 0 1 0 -2.6 0M59.44 171.51a1.3 1.3 0 1 0 2.6 0a1.3 1.3 0 1 0 -2.6 0M61.81 166.97a1.3 1.3 0 1 0 2.6 0a1.3 1.3 0 1 0 -2.6 0M64.18 162.09a1.3 1.3 0 1 0 2.6 0a1.3 1.3 0 1 0 -2.6 0M66.55 156.94a1.3 1.3 0 1 0 2.6 0a1.3 1.3 0 1 0 -2.6 0M68.93 151.57a1.3 1.3 0 1 0 2.6 0a1.3 1.3 0 1 0 -2.6 0M71.3 146.04a1.3 1.3 0 1 0 2.6 0a1.3 1.3 0 1 0 -2.6 0M73.67 140.37a1.3 1.3 0 1 0 2.6 0a1.3 1.3 0 1 0 -2.6 0M76.04 134.58a1.3 1.3 0 1 0 2.6 0a1.3 1.3 0 1 0 -2.6 0M78.41 128.68a1.3 1.3 0 1 0 2.6 0a1.3 1.3 0 1 0 -2.6 0M80.79 122.73a1.3 1.3 0 1 0 2.6 0a1.3 1.3 0 1 0 -2.6 0M83.16 116.82a1.3 1.3 0 1 0 2.6 0a1.3 1.3 0 1 0 -2.6 0M85.53 111.02a1.3 1.3 0 1 0 2.6 0a1.3 1.3 0 1 0 -2.6 0M87.9 105.4a1.3 1.3 0 1 0 2.6 0a1.3 1.3 0 1 0 -2.6 0M90.27 100.01a1.3 1.3 0 1 0 2.6 0a1.3 1.3 0 1 0 -2.6 0M92.65 94.9a1.3 1.3 0 1 0 2.6 0a1.3 1.3 0 1 0 -2.6 0M95.02 90.07a1.3 1.3 0 1 0 2.6 0a1.3 1.3 0 1 0 -2.6 0M97.39 85.55a1.3 1.3 0 1 0 2.6 0a1.3 1.3 0 1 0 -2.6 0M99.76 81.33a1.3 1.3 0 1 0 2.6 0a1.3 1.3 0 1 0 -2.6 0M102.13 77.42a1.3 1.3 0 1 0 2.6 0a1.3 1.3 0 1 0 -2.6 0M104.51 73.82a1.3 1.3 0 1 0 2.6 0a1.3 1.3 0 1 0 -2.6 0M106.88 70.52a1.3 1.3 0 1 0 2.6 0a1.3 1.3 0 1 0 -2.6 0M109.25 67.52a1.3 1.3 0 1 0 2.6 0a1.3 1.3 0 1 0 -2.6 0M111.62 64.8a1.3 1.3 0 1 0 2.6 0a1.3 1.3 0 1 0 -2.6 0M113.99 62.35a1.3 1.3 0 1 0 2.6 0a1.3 1.3 0 1 0 -2.6 0M116.37 60.16a1.3 1.3 0 1 0 2.6 0a1.3 1.3 0 1 0 -2.6 0M118.74 58.2a1.3 1.3 0 1 0 2.6 0a1.3 1.3 0 1 0 -2.6 0M121.11 56.45a1.3 1.3 0 1 0 2.6 0a1.3 1.3 0 1 0 -2.6 0M123.48 54.9a1.3 1.3 0 1 0 2.6 0a1.3 1.3 0 1 0 -2.6 0M125.85 53.51a1.3 1.3 0 1 0 2.6 0a1.3 1.3 0 1 0 -2.6 0M128.23 52.28a1.3 1.3 0 1 0 2.6 0a1.3 1.3 0 1 0 -2.6 0M130.6 51.18a1.3 1.3 0 1 0 2.6 0a1.3 1.3 0 1 0 -2.6 0M132.97 50.19a1.3 1.3 0 1 0 2.6 0a1.3 1.3 0 1 0 -2.6 0M135.34 49.29a1.3 1.3 0 1 0 2.6 0a1.3 1.3 0 1 0 -2.6 0M137.71 48.48a1.3 1.3 0 1 0 2.6 0a1.3 1.3 0 1 0 -2.6 0M140.09 47.74a1.3 1.3 0 1 0 2.6 0a1.3 1.3 0 1 0 -2.6 0M142.46 47.07a1.3 1.3 0 1 0 2.6 0a1.3 1.3 0 1 0 -2.6 0M144.83 46.46a1.3 1.3 0 1 0 2.6 0a1.3 1.3 0 1 0 -2.6 0M147.2 45.92a1.3 1.3 0 1 0 2.6 0a1.3 1.3 0 1 0 -2.6 0M149.57 45.42a1.3 1.3 0 1 0 2.6 0a1.3 1.3 0 1 0 -2.6 0M151.95 44.98a1.3 1.3 0 1 0 2.6 0a1.3 1.3 0 1 0 -2.6 0M154.32 44.58a1.3 1.3 0 1 0 2.6 0a1.3 1.3 0 1 0 -2.6 0M156.69 44.22a1.3 1.3 0 1 0 2.6 0a1.3 1.3 0 1 0 -2.6 0M159.06 43.9a1.3 1.3 0 1 0 2.6 0a1.3 1.3 0 1 0 -2.6 0M161.43 43.62a1.3 1.3 0 1 0 2.6 0a1.3 1.3 0 1 0 -2.6 0M163.81 43.36a1.3 1.3 0 1 0 2.6 0a1.3 1.3 0 1 0 -2.6 0M166.18 43.14a1.3 1.3 0 1 0 2.6 0a1.3 1.3 0 1 0 -2.6 0M168.55 42.95a1.3 1.3 0 1 0 2.6 0a1.3 1.3 0 1 0 -2.6 0M170.92 42.77a1.3 1.3 0 1 0 2.6 0a1.3 1.3 0 1 0 -2.6 0M173.29 42.62a1.3 1.3 0 1 0 2.6 0a1.3 1.3 0 1 0 -2.6 0M175.67 42.48a1.3 1.3 0 1 0 2.6 0a1.3 1.3 0 1 0 -2.6 0M178.04 42.36a1.3 1.3 0 1 0 2.6 0a1.3 1.3 0 1 0 -2.6 0M180.41 42.26a1.3 1.3 0 1 0 2.6 0a1.3 1.3 0 1 0 -2.6 0M182.78 42.16a1.3 1.3 0 1 0 2.6 0a1.3 1.3 0 1 0 -2.6 0M185.15 42.07a1.3 1.3 0 1 0 2.6 0a1.3 1.3 0 1 0 -2.6 0M187.53 42a1.3 1.3 0 1 0 2.6 0a1.3 1.3 0 1 0 -2.6 0M189.9 41.93a1.3 1.3 0 1 0 2.6 0a1.3 1.3 0 1 0 -2.6 0M192.27 41.86a1.3 1.3 0 1 0 2.6 0a1.3 1.3 0 1 0 -2.6 0M194.64 41.81a1.3 1.3 0 1 0 2.6 0a1.3 1.3 0 1 0 -2.6 0M197.01 41.76a1.3 1.3 0 1 0 2.6 0a1.3 1.3 0 1 0 -2.6 0M199.39 41.71a1.3 1.3 0 1 0 2.6 0a1.3 1.3 0 1 0 -2.6 0M201.76 41.67a1.3 1.3 0 1 0 2.6 0a1.3 1.3 0 1 0 -2.6 0M204.13 41.64a1.3 1.3 0 1 0 2.6 0a1.3 1.3 0 1 0 -2.6 0M206.5 41.61a1.3 1.3 0 1 0 2.6 0a1.3 1.3 0 1 0 -2.6 0M208.87 41.58a1.3 1.3 0 1 0 2.6 0a1.3 1.3 0 1 0 -2.6 0M211.25 41.55a1.3 1.3 0 1 0 2.6 0a1.3 1.3 0 1 0 -2.6 0M213.62 41.53a1.3 1.3 0 1 0 2.6 0a1.3 1.3 0 1 0 -2.6 0M215.99 41.51a1.3 1.3 0 1 0 2.6 0a1.3 1.3 0 1 0 -2.6 0M218.36 41.5a1.3 1.3 0 1 0 2.6 0a1.3 1.3 0 1 0 -2.6 0M220.73 41.48a1.3 1.3 0 1 0 2.6 0a1.3 1.3 0 1 0 -2.6 0M223.11 41.47a1.3 1.3 0 1 0 2.6 0a1.3 1.3 0 1 0 -2.6 0M225.48 41.46a1.3 1.3 0 1 0 2.6 0a1.3 1.3 0 1 0 -2.6 0M227.85 41.45a1.3 1.3 0 1 0 2.6 0a1.3 1.3 0 1 0 -2.6 0M230.22 41.44a1.3 1.3 0 1 0 2.6 0a1.3 1.3 0 1 0 -2.6 0M232.59 41.44a1.3 1.3 0 1 0 2.6 0a1.3 1.3 0 1 0 -2.6 0M234.97 41.43a1.3 1.3 0 1 0 2.6 0a1.3 1.3 0 1 0 -2.6 0M237.34 41.43a1.3 1.3 0 1 0 2.6 0a1.3 1.3 0 1 0 -2.6 0M239.71 41.42a1.3 1.3 0 1 0 2.6 0a1.3 1.3 0 1 0 -2.6 0M242.08 41.42a1.3 1.3 0 1 0 2.6 0a1.3 1.3 0 1 0 -2.6 0M244.45 41.41a1.3 1.3 0 1 0 2.6 0a1.3 1.3 0 1 0 -2.6 0M246.83 41.41a1.3 1.3 0 1 0 2.6 0a1.3 1.3 0 1 0 -2.6 0M249.2 41.41a1.3 1.3 0 1 0 2.6 0a1.3 1.3 0 1 0 -2.6 0M251.57 41.41a1.3 1.3 0 1 0 2.6 0a1.3 1.3 0 1 0 -2.6 0M253.94 41.4a1.3 1.3 0 1 0 2.6 0a1.3 1.3 0 1 0 -2.6 0M256.31 41.4a1.3 1.3 0 1 0 2.6 0a1.3 1.3 0 1 0 -2.6 0M258.69 41.4a1.3 1.3 0 1 0 2.6 0a1.3 1.3 0 1 0 -2.6 0M261.06 41.4a1.3 1.3 0 1 0 2.6 0a1.3 1.3 0 1 0 -2.6 0M263.43 41.4a1.3 1.3 0 1 0 2.6 0a1.3 1.3 0 1 0 -2.6 0M265.8 41.4a1.3 1.3 0 1 0 2.6 0a1.3 1.3 0 1 0 -2.6 0M268.17 41.4a1.3 1.3 0 1 0 2.6 0a1.3 1.3 0 1 0 -2.6 0M270.55 41.39a1.3 1.3 0 1 0 2.6 0a1.3 1.3 0 1 0 -2.6 0M272.92 41.39a1.3 1.3 0 1 0 2.6 0a1.3 1.3 0 1 0 -2.6 0M275.29 41.39a1.3 1.3 0 1 0 2.6 0a1.3 1.3 0 1 0 -2.6 0M277.66 41.39a1.3 1.3 0 1 0 2.6 0a1.3 1.3 0 1 0 -2.6 0M280.03 41.39a1.3 1.3 0 1 0 2.6 0a1.3 1.3 0 1 0 -2.6 0M282.41 41.39a1.3 1.3 0 1 0 2.6 0a1.3 1.3 0 1 0 -2.6 0M284.78 41.39a1.3 1.3 0 1 0 2.6 0a1.3 1.3 0 1 0 -2.6 0M287.15 41.39a1.3 1.3 0 1 0 2.6 0a1.3 1.3 0 1 0 -2.6 0" fill="#000" opacity="0.33"/>
<path d="M49.95 185.74a1.3 1.3 0 1 0 2.6 0a1.3 1.3 0 1 0 -2.6 0M52.32 182.51a1.3 1.3 0 1 0 2.6 0a1.3 1.3 0 1 0 -2.6 0M54.69 179.09a1.3 1.3 0 1 0 2.6 0a1.3 1.3 0 1 0 -2.6 0M57.07 175.5a1.3 1.3 0 1 0 2.6 0a1.3 1.3 0 1 0 -2.6 0M59.44 171.78a1.3 1.3 0 1 0 2.6 0a1.3 1.3 0 1 0 -2.6 0" fill="#1a00ff" opacity="0.55"/>
<path d="M61.81 167.97a1.3 1.3 0 1 0 2.6 0a1.3 1.3 0 1 0 -2.6 0M64.18 164.07a1.3 1.3 0 1 0 2.6 0a1.3 1.3 0 1 0 -2.6 0" fill="#1a00ff" opacity="0.3"/>
</g>
<rect x="51.25" y="33.4" width="237.2" height="174.1" fill="none" stroke="#2e2e2e" stroke-width="1.25"/>
<path d="M51.25 207.5v4M51.25 33.4v2.8M80.9 207.5v2M80.9 33.4v1.8M110.55 207.5v4M110.55 33.4v2.8M140.2 207.5v2M140.2 33.4v1.8M169.85 207.5v4M169.85 33.4v2.8M199.5 207.5v2M199.5 33.4v1.8M229.15 207.5v4M229.15 33.4v2.8M258.8 207.5v2M258.8 33.4v1.8M288.45 207.5v4M288.45 33.4v2.8M51.25 207.5h-4M288.45 207.5h-2.8M51.25 185.74h-2M288.45 185.74h-1.8M51.25 163.97h-4M288.45 163.97h-2.8M51.25 142.21h-2M288.45 142.21h-1.8M51.25 120.45h-4M288.45 120.45h-2.8M51.25 98.69h-2M288.45 98.69h-1.8M51.25 76.93h-4M288.45 76.93h-2.8M51.25 55.16h-2M288.45 55.16h-1.8M51.25 33.4h-4M288.45 33.4h-2.8" stroke="#2e2e2e" stroke-width="1.25" fill="none"/>
<text transform="translate(51.25 225.4) scale(0.98 1.07)" font-size="15.2" text-anchor="middle" fill="#000" stroke="#000" stroke-width="0.2">0</text>
<text transform="translate(110.55 225.4) scale(0.98 1.07)" font-size="15.2" text-anchor="middle" fill="#000" stroke="#000" stroke-width="0.2">1000</text>
<text transform="translate(169.85 225.4) scale(0.98 1.07)" font-size="15.2" text-anchor="middle" fill="#000" stroke="#000" stroke-width="0.2">2000</text>
<text transform="translate(229.15 225.4) scale(0.98 1.07)" font-size="15.2" text-anchor="middle" fill="#000" stroke="#000" stroke-width="0.2">3000</text>
<text transform="translate(288.45 225.4) scale(0.98 1.07)" font-size="15.2" text-anchor="middle" fill="#000" stroke="#000" stroke-width="0.2">4000</text>
<text transform="translate(45.05 212) scale(0.98 1.07)" font-size="15.2" text-anchor="end" fill="#000" stroke="#000" stroke-width="0.2">0.0</text>
<text transform="translate(45.05 168.47) scale(0.98 1.07)" font-size="15.2" text-anchor="end" fill="#000" stroke="#000" stroke-width="0.2">0.2</text>
<text transform="translate(45.05 124.95) scale(0.98 1.07)" font-size="15.2" text-anchor="end" fill="#000" stroke="#000" stroke-width="0.2">0.4</text>
<text transform="translate(45.05 81.43) scale(0.98 1.07)" font-size="15.2" text-anchor="end" fill="#000" stroke="#000" stroke-width="0.2">0.6</text>
<text transform="translate(45.05 37.9) scale(0.98 1.07)" font-size="15.2" text-anchor="end" fill="#000" stroke="#000" stroke-width="0.2">0.8</text>
<text x="55.45" y="56.7" font-size="22" fill="#000">(a)</text>
</g>
<g id="panel-c">
<clipPath id="clip-c"><rect x="350.55" y="33.4" width="237.55" height="174.1"/></clipPath>
<g clip-path="url(#clip-c)">
<path d="M360.03 169.46V170.21M358.13 169.46h3.8M358.13 170.21h3.8M362.4 164.93V165.86M360.5 164.93h3.8M360.5 165.86h3.8M364.77 160.2V161.32M362.87 160.2h3.8M362.87 161.32h3.8M367.14 155.26V156.57M365.24 155.26h3.8M365.24 156.57h3.8M369.51 150.2V151.62M367.61 150.2h3.8M367.61 151.62h3.8M371.88 145.07V146.54M369.98 145.07h3.8M369.98 146.54h3.8M374.25 139.87V141.39M372.35 139.87h3.8M372.35 141.39h3.8M376.61 134.52V136.09M374.71 134.52h3.8M374.71 136.09h3.8M378.98 129.2V130.81M377.08 129.2h3.8M377.08 130.81h3.8M381.35 123.96V125.63M379.45 123.96h3.8M379.45 125.63h3.8M383.72 118.77V120.48M381.82 118.77h3.8M381.82 120.48h3.8M386.09 113.79V115.55M384.19 113.79h3.8M384.19 115.55h3.8M388.46 109.08V110.89M386.56 109.08h3.8M386.56 110.89h3.8M390.83 104.63V106.48M388.93 104.63h3.8M388.93 106.48h3.8M393.2 100.43V102.34M391.3 100.43h3.8M391.3 102.34h3.8M395.57 96.49V98.44M393.67 96.49h3.8M393.67 98.44h3.8M397.94 92.61V94.61M396.04 92.61h3.8M396.04 94.61h3.8M400.31 88.98V90.98M398.41 88.98h3.8M398.41 90.98h3.8M402.68 85.64V87.65M400.78 85.64h3.8M400.78 87.65h3.8M405.05 82.59V84.61M403.15 82.59h3.8M403.15 84.61h3.8M407.42 79.55V81.57M405.52 79.55h3.8M405.52 81.57h3.8M409.79 76.75V78.78M407.89 76.75h3.8M407.89 78.78h3.8M412.16 74.26V76.3M410.26 74.26h3.8M410.26 76.3h3.8M414.53 71.95V73.99M412.63 71.95h3.8M412.63 73.99h3.8M416.9 70.16V72.21M415 70.16h3.8M415 72.21h3.8M419.27 68.18V70.24M417.37 68.18h3.8M417.37 70.24h3.8M421.63 66.49V68.55M419.74 66.49h3.8M419.74 68.55h3.8M424 64.68V66.76M422.1 64.68h3.8M422.1 66.76h3.8M426.37 63.28V65.36M424.47 63.28h3.8M424.47 65.36h3.8M428.74 61.89V63.97M426.84 61.89h3.8M426.84 63.97h3.8M431.11 60.59V62.69M429.21 60.59h3.8M429.21 62.69h3.8M433.48 59.61V61.71M431.58 59.61h3.8M431.58 61.71h3.8M435.85 58.34V60.45M433.95 58.34h3.8M433.95 60.45h3.8M438.22 57.33V59.44M436.32 57.33h3.8M436.32 59.44h3.8M440.59 56.47V58.59M438.69 56.47h3.8M438.69 58.59h3.8M442.96 55.9V58.03M441.06 55.9h3.8M441.06 58.03h3.8M445.33 55.17V57.31M443.43 55.17h3.8M443.43 57.31h3.8M447.7 54.57V56.71M445.8 54.57h3.8M445.8 56.71h3.8M450.07 53.9V56.05M448.17 53.9h3.8M448.17 56.05h3.8M452.44 53.29V55.44M450.54 53.29h3.8M450.54 55.44h3.8M454.81 52.72V54.88M452.91 52.72h3.8M452.91 54.88h3.8M457.18 52.39V54.56M455.28 52.39h3.8M455.28 54.56h3.8M459.55 51.7V53.88M457.65 51.7h3.8M457.65 53.88h3.8M461.92 51.15V53.33M460.02 51.15h3.8M460.02 53.33h3.8M464.29 50.78V52.96M462.39 50.78h3.8M462.39 52.96h3.8M466.66 50.41V52.6M464.76 50.41h3.8M464.76 52.6h3.8M469.02 50.26V52.46M467.12 50.26h3.8M467.12 52.46h3.8M471.39 50.01V52.22M469.49 50.01h3.8M469.49 52.22h3.8M473.76 49.94V52.15M471.86 49.94h3.8M471.86 52.15h3.8M476.13 49.64V51.85M474.23 49.64h3.8M474.23 51.85h3.8M478.5 49.53V51.75M476.6 49.53h3.8M476.6 51.75h3.8M480.87 49.34V51.56M478.97 49.34h3.8M478.97 51.56h3.8M483.24 49.17V51.39M481.34 49.17h3.8M481.34 51.39h3.8M485.61 48.92V51.14M483.71 48.92h3.8M483.71 51.14h3.8M487.98 48.48V50.71M486.08 48.48h3.8M486.08 50.71h3.8M490.35 48.17V50.41M488.45 48.17h3.8M488.45 50.41h3.8M492.72 48V50.24M490.82 48h3.8M490.82 50.24h3.8M495.09 47.87V50.12M493.19 47.87h3.8M493.19 50.12h3.8M497.46 47.65V49.9M495.56 47.65h3.8M495.56 49.9h3.8M499.83 47.63V49.88M497.93 47.63h3.8M497.93 49.88h3.8M502.2 47.59V49.84M500.3 47.59h3.8M500.3 49.84h3.8M504.57 47.52V49.78M502.67 47.52h3.8M502.67 49.78h3.8M506.94 47.46V49.72M505.04 47.46h3.8M505.04 49.72h3.8M509.31 47.4V49.67M507.41 47.4h3.8M507.41 49.67h3.8M511.68 47.23V49.51M509.78 47.23h3.8M509.78 49.51h3.8M514.05 47.06V49.34M512.15 47.06h3.8M512.15 49.34h3.8M516.41 47.14V49.42M514.51 47.14h3.8M514.51 49.42h3.8M518.78 47V49.28M516.88 47h3.8M516.88 49.28h3.8M521.15 46.72V49.01M519.25 46.72h3.8M519.25 49.01h3.8M523.52 46.59V48.89M521.62 46.59h3.8M521.62 48.89h3.8M525.89 46.52V48.82M523.99 46.52h3.8M523.99 48.82h3.8M528.26 46.53V48.83M526.36 46.53h3.8M526.36 48.83h3.8M530.63 46.48V48.79M528.73 46.48h3.8M528.73 48.79h3.8M533 46.43V48.74M531.1 46.43h3.8M531.1 48.74h3.8M535.37 46.37V48.68M533.47 46.37h3.8M533.47 48.68h3.8M537.74 46.2V48.52M535.84 46.2h3.8M535.84 48.52h3.8M540.11 46.09V48.41M538.21 46.09h3.8M538.21 48.41h3.8M542.48 46.17V48.5M540.58 46.17h3.8M540.58 48.5h3.8M544.85 46.2V48.53M542.95 46.2h3.8M542.95 48.53h3.8M547.22 46.06V48.39M545.32 46.06h3.8M545.32 48.39h3.8M549.59 46.05V48.38M547.69 46.05h3.8M547.69 48.38h3.8M551.96 46.02V48.36M550.06 46.02h3.8M550.06 48.36h3.8M554.33 45.97V48.31M552.43 45.97h3.8M552.43 48.31h3.8M556.7 45.96V48.31M554.8 45.96h3.8M554.8 48.31h3.8M559.07 46.1V48.45M557.17 46.1h3.8M557.17 48.45h3.8M561.44 45.92V48.27M559.54 45.92h3.8M559.54 48.27h3.8M563.81 45.81V48.17M561.91 45.81h3.8M561.91 48.17h3.8M566.17 45.8V48.17M564.27 45.8h3.8M564.27 48.17h3.8M568.54 45.75V48.12M566.64 45.75h3.8M566.64 48.12h3.8M570.91 45.69V48.06M569.01 45.69h3.8M569.01 48.06h3.8M573.28 45.57V47.94M571.38 45.57h3.8M571.38 47.94h3.8M575.65 45.8V48.18M573.75 45.8h3.8M573.75 48.18h3.8M578.02 45.82V48.2M576.12 45.82h3.8M576.12 48.2h3.8M580.39 45.98V48.37M578.49 45.98h3.8M578.49 48.37h3.8M582.76 46.05V48.44M580.86 46.05h3.8M580.86 48.44h3.8M585.13 46.07V48.47M583.23 46.07h3.8M583.23 48.47h3.8M587.5 46.15V48.55M585.6 46.15h3.8M585.6 48.55h3.8" stroke="#0000ff" stroke-width="0.5" fill="none" opacity="0.7"/>
<polyline points="350.55,185.74 352.92,182.05 355.29,178.17 357.66,174.11 360.03,169.84 362.4,165.4 364.77,160.76 367.14,155.91 369.51,150.91 371.88,145.81 374.25,140.63 376.61,135.3 378.98,130 381.35,124.8 383.72,119.62 386.09,114.67 388.46,109.98 390.83,105.56 393.2,101.38 395.57,97.47 397.94,93.61 400.31,89.98 402.68,86.65 405.05,83.6 407.42,80.56 409.79,77.76 412.16,75.28 414.53,72.97 416.9,71.19 419.27,69.21 421.63,67.52 424,65.72 426.37,64.32 428.74,62.93 431.11,61.64 433.48,60.66 435.85,59.39 438.22,58.39 440.59,57.53 442.96,56.97 445.33,56.24 447.7,55.64 450.07,54.98 452.44,54.37 454.81,53.8 457.18,53.48 459.55,52.79 461.92,52.24 464.29,51.87 466.66,51.5 469.02,51.36 471.39,51.12 473.76,51.04 476.13,50.74 478.5,50.64 480.87,50.45 483.24,50.28 485.61,50.03 487.98,49.59 490.35,49.29 492.72,49.12 495.09,49 497.46,48.78 499.83,48.75 502.2,48.71 504.57,48.65 506.94,48.59 509.31,48.54 511.68,48.37 514.05,48.2 516.41,48.28 518.78,48.14 521.15,47.87 523.52,47.74 525.89,47.67 528.26,47.68 530.63,47.63 533,47.58 535.37,47.52 537.74,47.36 540.11,47.25 542.48,47.34 544.85,47.36 547.22,47.23 549.59,47.21 551.96,47.19 554.33,47.14 556.7,47.13 559.07,47.27 561.44,47.09 563.81,46.99 566.17,46.99 568.54,46.93 570.91,46.87 573.28,46.75 575.65,46.99 578.02,47.01 580.39,47.18 582.76,47.24 585.13,47.27 587.5,47.35" fill="none" stroke="#0000ff" stroke-width="0.6"/>
<path d="M349.2 185.74a1.35 1.35 0 1 0 2.7 0a1.35 1.35 0 1 0 -2.7 0M351.57 182.05a1.35 1.35 0 1 0 2.7 0a1.35 1.35 0 1 0 -2.7 0M353.94 178.17a1.35 1.35 0 1 0 2.7 0a1.35 1.35 0 1 0 -2.7 0M356.31 174.11a1.35 1.35 0 1 0 2.7 0a1.35 1.35 0 1 0 -2.7 0M358.68 169.84a1.35 1.35 0 1 0 2.7 0a1.35 1.35 0 1 0 -2.7 0M361.05 165.4a1.35 1.35 0 1 0 2.7 0a1.35 1.35 0 1 0 -2.7 0M363.42 160.76a1.35 1.35 0 1 0 2.7 0a1.35 1.35 0 1 0 -2.7 0M365.79 155.91a1.35 1.35 0 1 0 2.7 0a1.35 1.35 0 1 0 -2.7 0M368.16 150.91a1.35 1.35 0 1 0 2.7 0a1.35 1.35 0 1 0 -2.7 0M370.53 145.81a1.35 1.35 0 1 0 2.7 0a1.35 1.35 0 1 0 -2.7 0M372.89 140.63a1.35 1.35 0 1 0 2.7 0a1.35 1.35 0 1 0 -2.7 0M375.26 135.3a1.35 1.35 0 1 0 2.7 0a1.35 1.35 0 1 0 -2.7 0M377.63 130a1.35 1.35 0 1 0 2.7 0a1.35 1.35 0 1 0 -2.7 0M380 124.8a1.35 1.35 0 1 0 2.7 0a1.35 1.35 0 1 0 -2.7 0M382.37 119.62a1.35 1.35 0 1 0 2.7 0a1.35 1.35 0 1 0 -2.7 0M384.74 114.67a1.35 1.35 0 1 0 2.7 0a1.35 1.35 0 1 0 -2.7 0M387.11 109.98a1.35 1.35 0 1 0 2.7 0a1.35 1.35 0 1 0 -2.7 0M389.48 105.56a1.35 1.35 0 1 0 2.7 0a1.35 1.35 0 1 0 -2.7 0M391.85 101.38a1.35 1.35 0 1 0 2.7 0a1.35 1.35 0 1 0 -2.7 0M394.22 97.47a1.35 1.35 0 1 0 2.7 0a1.35 1.35 0 1 0 -2.7 0M396.59 93.61a1.35 1.35 0 1 0 2.7 0a1.35 1.35 0 1 0 -2.7 0M398.96 89.98a1.35 1.35 0 1 0 2.7 0a1.35 1.35 0 1 0 -2.7 0M401.33 86.65a1.35 1.35 0 1 0 2.7 0a1.35 1.35 0 1 0 -2.7 0M403.7 83.6a1.35 1.35 0 1 0 2.7 0a1.35 1.35 0 1 0 -2.7 0M406.07 80.56a1.35 1.35 0 1 0 2.7 0a1.35 1.35 0 1 0 -2.7 0M408.44 77.76a1.35 1.35 0 1 0 2.7 0a1.35 1.35 0 1 0 -2.7 0M410.81 75.28a1.35 1.35 0 1 0 2.7 0a1.35 1.35 0 1 0 -2.7 0M413.18 72.97a1.35 1.35 0 1 0 2.7 0a1.35 1.35 0 1 0 -2.7 0M415.55 71.19a1.35 1.35 0 1 0 2.7 0a1.35 1.35 0 1 0 -2.7 0M417.92 69.21a1.35 1.35 0 1 0 2.7 0a1.35 1.35 0 1 0 -2.7 0M420.28 67.52a1.35 1.35 0 1 0 2.7 0a1.35 1.35 0 1 0 -2.7 0M422.65 65.72a1.35 1.35 0 1 0 2.7 0a1.35 1.35 0 1 0 -2.7 0M425.02 64.32a1.35 1.35 0 1 0 2.7 0a1.35 1.35 0 1 0 -2.7 0M427.39 62.93a1.35 1.35 0 1 0 2.7 0a1.35 1.35 0 1 0 -2.7 0M429.76 61.64a1.35 1.35 0 1 0 2.7 0a1.35 1.35 0 1 0 -2.7 0M432.13 60.66a1.35 1.35 0 1 0 2.7 0a1.35 1.35 0 1 0 -2.7 0M434.5 59.39a1.35 1.35 0 1 0 2.7 0a1.35 1.35 0 1 0 -2.7 0M436.87 58.39a1.35 1.35 0 1 0 2.7 0a1.35 1.35 0 1 0 -2.7 0M439.24 57.53a1.35 1.35 0 1 0 2.7 0a1.35 1.35 0 1 0 -2.7 0M441.61 56.97a1.35 1.35 0 1 0 2.7 0a1.35 1.35 0 1 0 -2.7 0M443.98 56.24a1.35 1.35 0 1 0 2.7 0a1.35 1.35 0 1 0 -2.7 0M446.35 55.64a1.35 1.35 0 1 0 2.7 0a1.35 1.35 0 1 0 -2.7 0M448.72 54.98a1.35 1.35 0 1 0 2.7 0a1.35 1.35 0 1 0 -2.7 0M451.09 54.37a1.35 1.35 0 1 0 2.7 0a1.35 1.35 0 1 0 -2.7 0M453.46 53.8a1.35 1.35 0 1 0 2.7 0a1.35 1.35 0 1 0 -2.7 0M455.83 53.48a1.35 1.35 0 1 0 2.7 0a1.35 1.35 0 1 0 -2.7 0M458.2 52.79a1.35 1.35 0 1 0 2.7 0a1.35 1.35 0 1 0 -2.7 0M460.57 52.24a1.35 1.35 0 1 0 2.7 0a1.35 1.35 0 1 0 -2.7 0M462.94 51.87a1.35 1.35 0 1 0 2.7 0a1.35 1.35 0 1 0 -2.7 0M465.31 51.5a1.35 1.35 0 1 0 2.7 0a1.35 1.35 0 1 0 -2.7 0M467.67 51.36a1.35 1.35 0 1 0 2.7 0a1.35 1.35 0 1 0 -2.7 0M470.04 51.12a1.35 1.35 0 1 0 2.7 0a1.35 1.35 0 1 0 -2.7 0M472.41 51.04a1.35 1.35 0 1 0 2.7 0a1.35 1.35 0 1 0 -2.7 0M474.78 50.74a1.35 1.35 0 1 0 2.7 0a1.35 1.35 0 1 0 -2.7 0M477.15 50.64a1.35 1.35 0 1 0 2.7 0a1.35 1.35 0 1 0 -2.7 0M479.52 50.45a1.35 1.35 0 1 0 2.7 0a1.35 1.35 0 1 0 -2.7 0M481.89 50.28a1.35 1.35 0 1 0 2.7 0a1.35 1.35 0 1 0 -2.7 0M484.26 50.03a1.35 1.35 0 1 0 2.7 0a1.35 1.35 0 1 0 -2.7 0M486.63 49.59a1.35 1.35 0 1 0 2.7 0a1.35 1.35 0 1 0 -2.7 0M489 49.29a1.35 1.35 0 1 0 2.7 0a1.35 1.35 0 1 0 -2.7 0M491.37 49.12a1.35 1.35 0 1 0 2.7 0a1.35 1.35 0 1 0 -2.7 0M493.74 49a1.35 1.35 0 1 0 2.7 0a1.35 1.35 0 1 0 -2.7 0M496.11 48.78a1.35 1.35 0 1 0 2.7 0a1.35 1.35 0 1 0 -2.7 0M498.48 48.75a1.35 1.35 0 1 0 2.7 0a1.35 1.35 0 1 0 -2.7 0M500.85 48.71a1.35 1.35 0 1 0 2.7 0a1.35 1.35 0 1 0 -2.7 0M503.22 48.65a1.35 1.35 0 1 0 2.7 0a1.35 1.35 0 1 0 -2.7 0M505.59 48.59a1.35 1.35 0 1 0 2.7 0a1.35 1.35 0 1 0 -2.7 0M507.96 48.54a1.35 1.35 0 1 0 2.7 0a1.35 1.35 0 1 0 -2.7 0M510.33 48.37a1.35 1.35 0 1 0 2.7 0a1.35 1.35 0 1 0 -2.7 0M512.7 48.2a1.35 1.35 0 1 0 2.7 0a1.35 1.35 0 1 0 -2.7 0M515.06 48.28a1.35 1.35 0 1 0 2.7 0a1.35 1.35 0 1 0 -2.7 0M517.43 48.14a1.35 1.35 0 1 0 2.7 0a1.35 1.35 0 1 0 -2.7 0M519.8 47.87a1.35 1.35 0 1 0 2.7 0a1.35 1.35 0 1 0 -2.7 0M522.17 47.74a1.35 1.35 0 1 0 2.7 0a1.35 1.35 0 1 0 -2.7 0M524.54 47.67a1.35 1.35 0 1 0 2.7 0a1.35 1.35 0 1 0 -2.7 0M526.91 47.68a1.35 1.35 0 1 0 2.7 0a1.35 1.35 0 1 0 -2.7 0M529.28 47.63a1.35 1.35 0 1 0 2.7 0a1.35 1.35 0 1 0 -2.7 0M531.65 47.58a1.35 1.35 0 1 0 2.7 0a1.35 1.35 0 1 0 -2.7 0M534.02 47.52a1.35 1.35 0 1 0 2.7 0a1.35 1.35 0 1 0 -2.7 0M536.39 47.36a1.35 1.35 0 1 0 2.7 0a1.35 1.35 0 1 0 -2.7 0M538.76 47.25a1.35 1.35 0 1 0 2.7 0a1.35 1.35 0 1 0 -2.7 0M541.13 47.34a1.35 1.35 0 1 0 2.7 0a1.35 1.35 0 1 0 -2.7 0M543.5 47.36a1.35 1.35 0 1 0 2.7 0a1.35 1.35 0 1 0 -2.7 0M545.87 47.23a1.35 1.35 0 1 0 2.7 0a1.35 1.35 0 1 0 -2.7 0M548.24 47.21a1.35 1.35 0 1 0 2.7 0a1.35 1.35 0 1 0 -2.7 0M550.61 47.19a1.35 1.35 0 1 0 2.7 0a1.35 1.35 0 1 0 -2.7 0M552.98 47.14a1.35 1.35 0 1 0 2.7 0a1.35 1.35 0 1 0 -2.7 0M555.35 47.13a1.35 1.35 0 1 0 2.7 0a1.35 1.35 0 1 0 -2.7 0M557.72 47.27a1.35 1.35 0 1 0 2.7 0a1.35 1.35 0 1 0 -2.7 0M560.09 47.09a1.35 1.35 0 1 0 2.7 0a1.35 1.35 0 1 0 -2.7 0M562.46 46.99a1.35 1.35 0 1 0 2.7 0a1.35 1.35 0 1 0 -2.7 0M564.82 46.99a1.35 1.35 0 1 0 2.7 0a1.35 1.35 0 1 0 -2.7 0M567.19 46.93a1.35 1.35 0 1 0 2.7 0a1.35 1.35 0 1 0 -2.7 0M569.56 46.87a1.35 1.35 0 1 0 2.7 0a1.35 1.35 0 1 0 -2.7 0M571.93 46.75a1.35 1.35 0 1 0 2.7 0a1.35 1.35 0 1 0 -2.7 0M574.3 46.99a1.35 1.35 0 1 0 2.7 0a1.35 1.35 0 1 0 -2.7 0M576.67 47.01a1.35 1.35 0 1 0 2.7 0a1.35 1.35 0 1 0 -2.7 0M579.04 47.18a1.35 1.35 0 1 0 2.7 0a1.35 1.35 0 1 0 -2.7 0M581.41 47.24a1.35 1.35 0 1 0 2.7 0a1.35 1.35 0 1 0 -2.7 0M583.78 47.27a1.35 1.35 0 1 0 2.7 0a1.35 1.35 0 1 0 -2.7 0M586.15 47.35a1.35 1.35 0 1 0 2.7 0a1.35 1.35 0 1 0 -2.7 0" fill="#0000ff"/>
<polyline points="350.55,185.74 352.92,182.04 355.29,178.16 357.66,174.09 360.03,169.82 362.4,165.36 364.77,160.72 367.14,155.9 369.51,150.92 371.88,145.81 374.25,140.6 376.61,135.33 378.98,130.04 381.35,124.77 383.72,119.61 386.09,114.64 388.46,109.92 390.83,105.51 393.2,101.37 395.57,97.46 397.94,93.74 400.31,90.21 402.68,86.86 405.05,83.7 407.42,80.73 409.79,77.98 412.16,75.45 414.53,73.15 416.9,71.07 419.27,69.18 421.63,67.46 424,65.89 426.37,64.44 428.74,63.1 431.11,61.86 433.48,60.71 435.85,59.67 438.22,58.71 440.59,57.84 442.96,57.05 445.33,56.31 447.7,55.63 450.07,54.99 452.44,54.38 454.81,53.81 457.18,53.28 459.55,52.77 461.92,52.31 464.29,51.89 466.66,51.51 469.02,51.18 471.39,50.88 473.76,50.61 476.13,50.37 478.5,50.14 480.87,49.93 483.24,49.74 485.61,49.55 487.98,49.38 490.35,49.22 492.72,49.06 495.09,48.92 497.46,48.78 499.83,48.65 502.2,48.53 504.57,48.42 506.94,48.31 509.31,48.22 511.68,48.12 514.05,48.04 516.41,47.96 518.78,47.88 521.15,47.81 523.52,47.75 525.89,47.69 528.26,47.63 530.63,47.58 533,47.53 535.37,47.48 537.74,47.44 540.11,47.39 542.48,47.36 544.85,47.32 547.22,47.29 549.59,47.25 551.96,47.23 554.33,47.2 556.7,47.18 559.07,47.15 561.44,47.14 563.81,47.12 566.17,47.11 568.54,47.1 570.91,47.09 573.28,47.08 575.65,47.08 578.02,47.08 580.39,47.08 582.76,47.09 585.13,47.09 587.5,47.09" fill="none" stroke="#ff00ff" stroke-width="0.6"/>
<path d="M349.5 185.74a1.05 1.05 0 1 0 2.1 0a1.05 1.05 0 1 0 -2.1 0M351.87 182.04a1.05 1.05 0 1 0 2.1 0a1.05 1.05 0 1 0 -2.1 0M354.24 178.16a1.05 1.05 0 1 0 2.1 0a1.05 1.05 0 1 0 -2.1 0M356.61 174.09a1.05 1.05 0 1 0 2.1 0a1.05 1.05 0 1 0 -2.1 0M358.98 169.82a1.05 1.05 0 1 0 2.1 0a1.05 1.05 0 1 0 -2.1 0M361.35 165.36a1.05 1.05 0 1 0 2.1 0a1.05 1.05 0 1 0 -2.1 0M363.72 160.72a1.05 1.05 0 1 0 2.1 0a1.05 1.05 0 1 0 -2.1 0M366.09 155.9a1.05 1.05 0 1 0 2.1 0a1.05 1.05 0 1 0 -2.1 0M368.46 150.92a1.05 1.05 0 1 0 2.1 0a1.05 1.05 0 1 0 -2.1 0M370.83 145.81a1.05 1.05 0 1 0 2.1 0a1.05 1.05 0 1 0 -2.1 0M373.19 140.6a1.05 1.05 0 1 0 2.1 0a1.05 1.05 0 1 0 -2.1 0M375.56 135.33a1.05 1.05 0 1 0 2.1 0a1.05 1.05 0 1 0 -2.1 0M377.93 130.04a1.05 1.05 0 1 0 2.1 0a1.05 1.05 0 1 0 -2.1 0M380.3 124.77a1.05 1.05 0 1 0 2.1 0a1.05 1.05 0 1 0 -2.1 0M382.67 119.61a1.05 1.05 0 1 0 2.1 0a1.05 1.05 0 1 0 -2.1 0M385.04 114.64a1.05 1.05 0 1 0 2.1 0a1.05 1.05 0 1 0 -2.1 0M387.41 109.92a1.05 1.05 0 1 0 2.1 0a1.05 1.05 0 1 0 -2.1 0M389.78 105.51a1.05 1.05 0 1 0 2.1 0a1.05 1.05 0 1 0 -2.1 0M392.15 101.37a1.05 1.05 0 1 0 2.1 0a1.05 1.05 0 1 0 -2.1 0M394.52 97.46a1.05 1.05 0 1 0 2.1 0a1.05 1.05 0 1 0 -2.1 0M396.89 93.74a1.05 1.05 0 1 0 2.1 0a1.05 1.05 0 1 0 -2.1 0M399.26 90.21a1.05 1.05 0 1 0 2.1 0a1.05 1.05 0 1 0 -2.1 0M401.63 86.86a1.05 1.05 0 1 0 2.1 0a1.05 1.05 0 1 0 -2.1 0M404 83.7a1.05 1.05 0 1 0 2.1 0a1.05 1.05 0 1 0 -2.1 0M406.37 80.73a1.05 1.05 0 1 0 2.1 0a1.05 1.05 0 1 0 -2.1 0M408.74 77.98a1.05 1.05 0 1 0 2.1 0a1.05 1.05 0 1 0 -2.1 0M411.11 75.45a1.05 1.05 0 1 0 2.1 0a1.05 1.05 0 1 0 -2.1 0M413.48 73.15a1.05 1.05 0 1 0 2.1 0a1.05 1.05 0 1 0 -2.1 0M415.85 71.07a1.05 1.05 0 1 0 2.1 0a1.05 1.05 0 1 0 -2.1 0M418.22 69.18a1.05 1.05 0 1 0 2.1 0a1.05 1.05 0 1 0 -2.1 0M420.58 67.46a1.05 1.05 0 1 0 2.1 0a1.05 1.05 0 1 0 -2.1 0M422.95 65.89a1.05 1.05 0 1 0 2.1 0a1.05 1.05 0 1 0 -2.1 0M425.32 64.44a1.05 1.05 0 1 0 2.1 0a1.05 1.05 0 1 0 -2.1 0M427.69 63.1a1.05 1.05 0 1 0 2.1 0a1.05 1.05 0 1 0 -2.1 0M430.06 61.86a1.05 1.05 0 1 0 2.1 0a1.05 1.05 0 1 0 -2.1 0M432.43 60.71a1.05 1.05 0 1 0 2.1 0a1.05 1.05 0 1 0 -2.1 0M434.8 59.67a1.05 1.05 0 1 0 2.1 0a1.05 1.05 0 1 0 -2.1 0M437.17 58.71a1.05 1.05 0 1 0 2.1 0a1.05 1.05 0 1 0 -2.1 0M439.54 57.84a1.05 1.05 0 1 0 2.1 0a1.05 1.05 0 1 0 -2.1 0M441.91 57.05a1.05 1.05 0 1 0 2.1 0a1.05 1.05 0 1 0 -2.1 0M444.28 56.31a1.05 1.05 0 1 0 2.1 0a1.05 1.05 0 1 0 -2.1 0M446.65 55.63a1.05 1.05 0 1 0 2.1 0a1.05 1.05 0 1 0 -2.1 0M449.02 54.99a1.05 1.05 0 1 0 2.1 0a1.05 1.05 0 1 0 -2.1 0M451.39 54.38a1.05 1.05 0 1 0 2.1 0a1.05 1.05 0 1 0 -2.1 0M453.76 53.81a1.05 1.05 0 1 0 2.1 0a1.05 1.05 0 1 0 -2.1 0M456.13 53.28a1.05 1.05 0 1 0 2.1 0a1.05 1.05 0 1 0 -2.1 0M458.5 52.77a1.05 1.05 0 1 0 2.1 0a1.05 1.05 0 1 0 -2.1 0M460.87 52.31a1.05 1.05 0 1 0 2.1 0a1.05 1.05 0 1 0 -2.1 0M463.24 51.89a1.05 1.05 0 1 0 2.1 0a1.05 1.05 0 1 0 -2.1 0M465.61 51.51a1.05 1.05 0 1 0 2.1 0a1.05 1.05 0 1 0 -2.1 0M467.97 51.18a1.05 1.05 0 1 0 2.1 0a1.05 1.05 0 1 0 -2.1 0M470.34 50.88a1.05 1.05 0 1 0 2.1 0a1.05 1.05 0 1 0 -2.1 0M472.71 50.61a1.05 1.05 0 1 0 2.1 0a1.05 1.05 0 1 0 -2.1 0M475.08 50.37a1.05 1.05 0 1 0 2.1 0a1.05 1.05 0 1 0 -2.1 0M477.45 50.14a1.05 1.05 0 1 0 2.1 0a1.05 1.05 0 1 0 -2.1 0M479.82 49.93a1.05 1.05 0 1 0 2.1 0a1.05 1.05 0 1 0 -2.1 0M482.19 49.74a1.05 1.05 0 1 0 2.1 0a1.05 1.05 0 1 0 -2.1 0M484.56 49.55a1.05 1.05 0 1 0 2.1 0a1.05 1.05 0 1 0 -2.1 0M486.93 49.38a1.05 1.05 0 1 0 2.1 0a1.05 1.05 0 1 0 -2.1 0M489.3 49.22a1.05 1.05 0 1 0 2.1 0a1.05 1.05 0 1 0 -2.1 0M491.67 49.06a1.05 1.05 0 1 0 2.1 0a1.05 1.05 0 1 0 -2.1 0M494.04 48.92a1.05 1.05 0 1 0 2.1 0a1.05 1.05 0 1 0 -2.1 0M496.41 48.78a1.05 1.05 0 1 0 2.1 0a1.05 1.05 0 1 0 -2.1 0M498.78 48.65a1.05 1.05 0 1 0 2.1 0a1.05 1.05 0 1 0 -2.1 0M501.15 48.53a1.05 1.05 0 1 0 2.1 0a1.05 1.05 0 1 0 -2.1 0M503.52 48.42a1.05 1.05 0 1 0 2.1 0a1.05 1.05 0 1 0 -2.1 0M505.89 48.31a1.05 1.05 0 1 0 2.1 0a1.05 1.05 0 1 0 -2.1 0M508.26 48.22a1.05 1.05 0 1 0 2.1 0a1.05 1.05 0 1 0 -2.1 0M510.63 48.12a1.05 1.05 0 1 0 2.1 0a1.05 1.05 0 1 0 -2.1 0M513 48.04a1.05 1.05 0 1 0 2.1 0a1.05 1.05 0 1 0 -2.1 0M515.37 47.96a1.05 1.05 0 1 0 2.1 0a1.05 1.05 0 1 0 -2.1 0M517.73 47.88a1.05 1.05 0 1 0 2.1 0a1.05 1.05 0 1 0 -2.1 0M520.1 47.81a1.05 1.05 0 1 0 2.1 0a1.05 1.05 0 1 0 -2.1 0M522.47 47.75a1.05 1.05 0 1 0 2.1 0a1.05 1.05 0 1 0 -2.1 0M524.84 47.69a1.05 1.05 0 1 0 2.1 0a1.05 1.05 0 1 0 -2.1 0M527.21 47.63a1.05 1.05 0 1 0 2.1 0a1.05 1.05 0 1 0 -2.1 0M529.58 47.58a1.05 1.05 0 1 0 2.1 0a1.05 1.05 0 1 0 -2.1 0M531.95 47.53a1.05 1.05 0 1 0 2.1 0a1.05 1.05 0 1 0 -2.1 0M534.32 47.48a1.05 1.05 0 1 0 2.1 0a1.05 1.05 0 1 0 -2.1 0M536.69 47.44a1.05 1.05 0 1 0 2.1 0a1.05 1.05 0 1 0 -2.1 0M539.06 47.39a1.05 1.05 0 1 0 2.1 0a1.05 1.05 0 1 0 -2.1 0M541.43 47.36a1.05 1.05 0 1 0 2.1 0a1.05 1.05 0 1 0 -2.1 0M543.8 47.32a1.05 1.05 0 1 0 2.1 0a1.05 1.05 0 1 0 -2.1 0M546.17 47.29a1.05 1.05 0 1 0 2.1 0a1.05 1.05 0 1 0 -2.1 0M548.54 47.25a1.05 1.05 0 1 0 2.1 0a1.05 1.05 0 1 0 -2.1 0M550.91 47.23a1.05 1.05 0 1 0 2.1 0a1.05 1.05 0 1 0 -2.1 0M553.28 47.2a1.05 1.05 0 1 0 2.1 0a1.05 1.05 0 1 0 -2.1 0M555.65 47.18a1.05 1.05 0 1 0 2.1 0a1.05 1.05 0 1 0 -2.1 0M558.02 47.15a1.05 1.05 0 1 0 2.1 0a1.05 1.05 0 1 0 -2.1 0M560.39 47.14a1.05 1.05 0 1 0 2.1 0a1.05 1.05 0 1 0 -2.1 0M562.76 47.12a1.05 1.05 0 1 0 2.1 0a1.05 1.05 0 1 0 -2.1 0M565.12 47.11a1.05 1.05 0 1 0 2.1 0a1.05 1.05 0 1 0 -2.1 0M567.49 47.1a1.05 1.05 0 1 0 2.1 0a1.05 1.05 0 1 0 -2.1 0M569.86 47.09a1.05 1.05 0 1 0 2.1 0a1.05 1.05 0 1 0 -2.1 0M572.23 47.08a1.05 1.05 0 1 0 2.1 0a1.05 1.05 0 1 0 -2.1 0M574.6 47.08a1.05 1.05 0 1 0 2.1 0a1.05 1.05 0 1 0 -2.1 0M576.97 47.08a1.05 1.05 0 1 0 2.1 0a1.05 1.05 0 1 0 -2.1 0M579.34 47.08a1.05 1.05 0 1 0 2.1 0a1.05 1.05 0 1 0 -2.1 0M581.71 47.09a1.05 1.05 0 1 0 2.1 0a1.05 1.05 0 1 0 -2.1 0M584.08 47.09a1.05 1.05 0 1 0 2.1 0a1.05 1.05 0 1 0 -2.1 0M586.45 47.09a1.05 1.05 0 1 0 2.1 0a1.05 1.05 0 1 0 -2.1 0" fill="#ff00ff"/>
<polyline points="350.55,185.74 352.92,182.26 355.29,178.43 357.66,174.24 360.03,169.68 362.4,164.76 364.77,159.48 367.14,153.86 369.51,147.92 371.88,141.73 374.25,135.41 376.61,129.09 378.98,122.88 381.35,116.87 383.72,111.1 386.09,105.59 388.46,100.39 390.83,95.51 393.2,90.95 395.57,86.74 397.94,82.9 400.31,79.44 402.68,76.33 405.05,73.51 407.42,70.91 409.79,68.53 412.16,66.33 414.53,64.33 416.9,62.49 419.27,60.82 421.63,59.31 424,57.95 426.37,56.72 428.74,55.58 431.11,54.52 433.48,53.54 435.85,52.66 438.22,51.87 440.59,51.16 442.96,50.54 445.33,49.98 447.7,49.48 450.07,49.03 452.44,48.62 454.81,48.25 457.18,47.92 459.55,47.61 461.92,47.33 464.29,47.08 466.66,46.85 469.02,46.65 471.39,46.47 473.76,46.3 476.13,46.15 478.5,46.01 480.87,45.88 483.24,45.76 485.61,45.64 487.98,45.53 490.35,45.44 492.72,45.34 495.09,45.26 497.46,45.19 499.83,45.12 502.2,45.05 504.57,44.99 506.94,44.93 509.31,44.87 511.68,44.82 514.05,44.76 516.41,44.71 518.78,44.66 521.15,44.62 523.52,44.57 525.89,44.52 528.26,44.48 530.63,44.44 533,44.41 535.37,44.37 537.74,44.34 540.11,44.32 542.48,44.29 544.85,44.27 547.22,44.25 549.59,44.23 551.96,44.21 554.33,44.2 556.7,44.19 559.07,44.18 561.44,44.17 563.81,44.17 566.17,44.16 568.54,44.16 570.91,44.16 573.28,44.16 575.65,44.16 578.02,44.17 580.39,44.17 582.76,44.18 585.13,44.18 587.5,44.18" fill="none" stroke="#000000" stroke-width="0.6"/>
<path d="M349.25 185.74a1.3 1.3 0 1 0 2.6 0a1.3 1.3 0 1 0 -2.6 0M351.62 182.26a1.3 1.3 0 1 0 2.6 0a1.3 1.3 0 1 0 -2.6 0M353.99 178.43a1.3 1.3 0 1 0 2.6 0a1.3 1.3 0 1 0 -2.6 0M356.36 174.24a1.3 1.3 0 1 0 2.6 0a1.3 1.3 0 1 0 -2.6 0M358.73 169.68a1.3 1.3 0 1 0 2.6 0a1.3 1.3 0 1 0 -2.6 0M361.1 164.76a1.3 1.3 0 1 0 2.6 0a1.3 1.3 0 1 0 -2.6 0M363.47 159.48a1.3 1.3 0 1 0 2.6 0a1.3 1.3 0 1 0 -2.6 0M365.84 153.86a1.3 1.3 0 1 0 2.6 0a1.3 1.3 0 1 0 -2.6 0M368.21 147.92a1.3 1.3 0 1 0 2.6 0a1.3 1.3 0 1 0 -2.6 0M370.58 141.73a1.3 1.3 0 1 0 2.6 0a1.3 1.3 0 1 0 -2.6 0M372.94 135.41a1.3 1.3 0 1 0 2.6 0a1.3 1.3 0 1 0 -2.6 0M375.31 129.09a1.3 1.3 0 1 0 2.6 0a1.3 1.3 0 1 0 -2.6 0M377.68 122.88a1.3 1.3 0 1 0 2.6 0a1.3 1.3 0 1 0 -2.6 0M380.05 116.87a1.3 1.3 0 1 0 2.6 0a1.3 1.3 0 1 0 -2.6 0M382.42 111.1a1.3 1.3 0 1 0 2.6 0a1.3 1.3 0 1 0 -2.6 0M384.79 105.59a1.3 1.3 0 1 0 2.6 0a1.3 1.3 0 1 0 -2.6 0M387.16 100.39a1.3 1.3 0 1 0 2.6 0a1.3 1.3 0 1 0 -2.6 0M389.53 95.51a1.3 1.3 0 1 0 2.6 0a1.3 1.3 0 1 0 -2.6 0M391.9 90.95a1.3 1.3 0 1 0 2.6 0a1.3 1.3 0 1 0 -2.6 0M394.27 86.74a1.3 1.3 0 1 0 2.6 0a1.3 1.3 0 1 0 -2.6 0M396.64 82.9a1.3 1.3 0 1 0 2.6 0a1.3 1.3 0 1 0 -2.6 0M399.01 79.44a1.3 1.3 0 1 0 2.6 0a1.3 1.3 0 1 0 -2.6 0M401.38 76.33a1.3 1.3 0 1 0 2.6 0a1.3 1.3 0 1 0 -2.6 0M403.75 73.51a1.3 1.3 0 1 0 2.6 0a1.3 1.3 0 1 0 -2.6 0M406.12 70.91a1.3 1.3 0 1 0 2.6 0a1.3 1.3 0 1 0 -2.6 0M408.49 68.53a1.3 1.3 0 1 0 2.6 0a1.3 1.3 0 1 0 -2.6 0M410.86 66.33a1.3 1.3 0 1 0 2.6 0a1.3 1.3 0 1 0 -2.6 0M413.23 64.33a1.3 1.3 0 1 0 2.6 0a1.3 1.3 0 1 0 -2.6 0M415.6 62.49a1.3 1.3 0 1 0 2.6 0a1.3 1.3 0 1 0 -2.6 0M417.97 60.82a1.3 1.3 0 1 0 2.6 0a1.3 1.3 0 1 0 -2.6 0M420.33 59.31a1.3 1.3 0 1 0 2.6 0a1.3 1.3 0 1 0 -2.6 0M422.7 57.95a1.3 1.3 0 1 0 2.6 0a1.3 1.3 0 1 0 -2.6 0M425.07 56.72a1.3 1.3 0 1 0 2.6 0a1.3 1.3 0 1 0 -2.6 0M427.44 55.58a1.3 1.3 0 1 0 2.6 0a1.3 1.3 0 1 0 -2.6 0M429.81 54.52a1.3 1.3 0 1 0 2.6 0a1.3 1.3 0 1 0 -2.6 0M432.18 53.54a1.3 1.3 0 1 0 2.6 0a1.3 1.3 0 1 0 -2.6 0M434.55 52.66a1.3 1.3 0 1 0 2.6 0a1.3 1.3 0 1 0 -2.6 0M436.92 51.87a1.3 1.3 0 1 0 2.6 0a1.3 1.3 0 1 0 -2.6 0M439.29 51.16a1.3 1.3 0 1 0 2.6 0a1.3 1.3 0 1 0 -2.6 0M441.66 50.54a1.3 1.3 0 1 0 2.6 0a1.3 1.3 0 1 0 -2.6 0M444.03 49.98a1.3 1.3 0 1 0 2.6 0a1.3 1.3 0 1 0 -2.6 0M446.4 49.48a1.3 1.3 0 1 0 2.6 0a1.3 1.3 0 1 0 -2.6 0M448.77 49.03a1.3 1.3 0 1 0 2.6 0a1.3 1.3 0 1 0 -2.6 0M451.14 48.62a1.3 1.3 0 1 0 2.6 0a1.3 1.3 0 1 0 -2.6 0M453.51 48.25a1.3 1.3 0 1 0 2.6 0a1.3 1.3 0 1 0 -2.6 0M455.88 47.92a1.3 1.3 0 1 0 2.6 0a1.3 1.3 0 1 0 -2.6 0M458.25 47.61a1.3 1.3 0 1 0 2.6 0a1.3 1.3 0 1 0 -2.6 0M460.62 47.33a1.3 1.3 0 1 0 2.6 0a1.3 1.3 0 1 0 -2.6 0M462.99 47.08a1.3 1.3 0 1 0 2.6 0a1.3 1.3 0 1 0 -2.6 0M465.36 46.85a1.3 1.3 0 1 0 2.6 0a1.3 1.3 0 1 0 -2.6 0M467.72 46.65a1.3 1.3 0 1 0 2.6 0a1.3 1.3 0 1 0 -2.6 0M470.09 46.47a1.3 1.3 0 1 0 2.6 0a1.3 1.3 0 1 0 -2.6 0M472.46 46.3a1.3 1.3 0 1 0 2.6 0a1.3 1.3 0 1 0 -2.6 0M474.83 46.15a1.3 1.3 0 1 0 2.6 0a1.3 1.3 0 1 0 -2.6 0M477.2 46.01a1.3 1.3 0 1 0 2.6 0a1.3 1.3 0 1 0 -2.6 0M479.57 45.88a1.3 1.3 0 1 0 2.6 0a1.3 1.3 0 1 0 -2.6 0M481.94 45.76a1.3 1.3 0 1 0 2.6 0a1.3 1.3 0 1 0 -2.6 0M484.31 45.64a1.3 1.3 0 1 0 2.6 0a1.3 1.3 0 1 0 -2.6 0M486.68 45.53a1.3 1.3 0 1 0 2.6 0a1.3 1.3 0 1 0 -2.6 0M489.05 45.44a1.3 1.3 0 1 0 2.6 0a1.3 1.3 0 1 0 -2.6 0M491.42 45.34a1.3 1.3 0 1 0 2.6 0a1.3 1.3 0 1 0 -2.6 0M493.79 45.26a1.3 1.3 0 1 0 2.6 0a1.3 1.3 0 1 0 -2.6 0M496.16 45.19a1.3 1.3 0 1 0 2.6 0a1.3 1.3 0 1 0 -2.6 0M498.53 45.12a1.3 1.3 0 1 0 2.6 0a1.3 1.3 0 1 0 -2.6 0M500.9 45.05a1.3 1.3 0 1 0 2.6 0a1.3 1.3 0 1 0 -2.6 0M503.27 44.99a1.3 1.3 0 1 0 2.6 0a1.3 1.3 0 1 0 -2.6 0M505.64 44.93a1.3 1.3 0 1 0 2.6 0a1.3 1.3 0 1 0 -2.6 0M508.01 44.87a1.3 1.3 0 1 0 2.6 0a1.3 1.3 0 1 0 -2.6 0M510.38 44.82a1.3 1.3 0 1 0 2.6 0a1.3 1.3 0 1 0 -2.6 0M512.75 44.76a1.3 1.3 0 1 0 2.6 0a1.3 1.3 0 1 0 -2.6 0M515.12 44.71a1.3 1.3 0 1 0 2.6 0a1.3 1.3 0 1 0 -2.6 0M517.48 44.66a1.3 1.3 0 1 0 2.6 0a1.3 1.3 0 1 0 -2.6 0M519.85 44.62a1.3 1.3 0 1 0 2.6 0a1.3 1.3 0 1 0 -2.6 0M522.22 44.57a1.3 1.3 0 1 0 2.6 0a1.3 1.3 0 1 0 -2.6 0M524.59 44.52a1.3 1.3 0 1 0 2.6 0a1.3 1.3 0 1 0 -2.6 0M526.96 44.48a1.3 1.3 0 1 0 2.6 0a1.3 1.3 0 1 0 -2.6 0M529.33 44.44a1.3 1.3 0 1 0 2.6 0a1.3 1.3 0 1 0 -2.6 0M531.7 44.41a1.3 1.3 0 1 0 2.6 0a1.3 1.3 0 1 0 -2.6 0M534.07 44.37a1.3 1.3 0 1 0 2.6 0a1.3 1.3 0 1 0 -2.6 0M536.44 44.34a1.3 1.3 0 1 0 2.6 0a1.3 1.3 0 1 0 -2.6 0M538.81 44.32a1.3 1.3 0 1 0 2.6 0a1.3 1.3 0 1 0 -2.6 0M541.18 44.29a1.3 1.3 0 1 0 2.6 0a1.3 1.3 0 1 0 -2.6 0M543.55 44.27a1.3 1.3 0 1 0 2.6 0a1.3 1.3 0 1 0 -2.6 0M545.92 44.25a1.3 1.3 0 1 0 2.6 0a1.3 1.3 0 1 0 -2.6 0M548.29 44.23a1.3 1.3 0 1 0 2.6 0a1.3 1.3 0 1 0 -2.6 0M550.66 44.21a1.3 1.3 0 1 0 2.6 0a1.3 1.3 0 1 0 -2.6 0M553.03 44.2a1.3 1.3 0 1 0 2.6 0a1.3 1.3 0 1 0 -2.6 0M555.4 44.19a1.3 1.3 0 1 0 2.6 0a1.3 1.3 0 1 0 -2.6 0M557.77 44.18a1.3 1.3 0 1 0 2.6 0a1.3 1.3 0 1 0 -2.6 0M560.14 44.17a1.3 1.3 0 1 0 2.6 0a1.3 1.3 0 1 0 -2.6 0M562.51 44.17a1.3 1.3 0 1 0 2.6 0a1.3 1.3 0 1 0 -2.6 0M564.87 44.16a1.3 1.3 0 1 0 2.6 0a1.3 1.3 0 1 0 -2.6 0M567.24 44.16a1.3 1.3 0 1 0 2.6 0a1.3 1.3 0 1 0 -2.6 0M569.61 44.16a1.3 1.3 0 1 0 2.6 0a1.3 1.3 0 1 0 -2.6 0M571.98 44.16a1.3 1.3 0 1 0 2.6 0a1.3 1.3 0 1 0 -2.6 0M574.35 44.16a1.3 1.3 0 1 0 2.6 0a1.3 1.3 0 1 0 -2.6 0M576.72 44.17a1.3 1.3 0 1 0 2.6 0a1.3 1.3 0 1 0 -2.6 0M579.09 44.17a1.3 1.3 0 1 0 2.6 0a1.3 1.3 0 1 0 -2.6 0M581.46 44.18a1.3 1.3 0 1 0 2.6 0a1.3 1.3 0 1 0 -2.6 0M583.83 44.18a1.3 1.3 0 1 0 2.6 0a1.3 1.3 0 1 0 -2.6 0M586.2 44.18a1.3 1.3 0 1 0 2.6 0a1.3 1.3 0 1 0 -2.6 0" fill="#000000"/>
<polyline points="350.55,185.74 352.92,182.79 355.29,179.04 357.66,174.55 360.03,169.38 362.4,163.62 364.77,157.38 367.14,150.76 369.51,143.87 371.88,136.82 374.25,129.77 376.61,122.85 378.98,116.16 381.35,109.81 383.72,103.82 386.09,98.25 388.46,93.09 390.83,88.32 393.2,83.92 395.57,79.89 397.94,76.24 400.31,72.97 402.68,70.03 405.05,67.37 407.42,64.93 409.79,62.71 412.16,60.7 414.53,58.91 416.9,57.32 419.27,55.91 421.63,54.66 424,53.55 426.37,52.56 428.74,51.65 431.11,50.79 433.48,49.99 435.85,49.25 438.22,48.6 440.59,48.02 442.96,47.53 445.33,47.1 447.7,46.73 450.07,46.42 452.44,46.14 454.81,45.91 457.18,45.7 459.55,45.51 461.92,45.33 464.29,45.15 466.66,44.96 469.02,44.78 471.39,44.62 473.76,44.49 476.13,44.38 478.5,44.29 480.87,44.21 483.24,44.14 485.61,44.08 487.98,44.03 490.35,43.98 492.72,43.93 495.09,43.89 497.46,43.86 499.83,43.83 502.2,43.8 504.57,43.77 506.94,43.75 509.31,43.73 511.68,43.71 514.05,43.69 516.41,43.67 518.78,43.65 521.15,43.63 523.52,43.61 525.89,43.59 528.26,43.57 530.63,43.55 533,43.53 535.37,43.51 537.74,43.49 540.11,43.47 542.48,43.45 544.85,43.43 547.22,43.42 549.59,43.4 551.96,43.38 554.33,43.37 556.7,43.35 559.07,43.33 561.44,43.32 563.81,43.3 566.17,43.29 568.54,43.27 570.91,43.26 573.28,43.25 575.65,43.23 578.02,43.22 580.39,43.21 582.76,43.2 585.13,43.18 587.5,43.18" fill="none" stroke="#ff0000" stroke-width="0.6"/>
<path d="M349.3 185.74a1.25 1.25 0 1 0 2.5 0a1.25 1.25 0 1 0 -2.5 0M351.67 182.79a1.25 1.25 0 1 0 2.5 0a1.25 1.25 0 1 0 -2.5 0M354.04 179.04a1.25 1.25 0 1 0 2.5 0a1.25 1.25 0 1 0 -2.5 0M356.41 174.55a1.25 1.25 0 1 0 2.5 0a1.25 1.25 0 1 0 -2.5 0M358.78 169.38a1.25 1.25 0 1 0 2.5 0a1.25 1.25 0 1 0 -2.5 0M361.15 163.62a1.25 1.25 0 1 0 2.5 0a1.25 1.25 0 1 0 -2.5 0M363.52 157.38a1.25 1.25 0 1 0 2.5 0a1.25 1.25 0 1 0 -2.5 0M365.89 150.76a1.25 1.25 0 1 0 2.5 0a1.25 1.25 0 1 0 -2.5 0M368.26 143.87a1.25 1.25 0 1 0 2.5 0a1.25 1.25 0 1 0 -2.5 0M370.63 136.82a1.25 1.25 0 1 0 2.5 0a1.25 1.25 0 1 0 -2.5 0M373 129.77a1.25 1.25 0 1 0 2.5 0a1.25 1.25 0 1 0 -2.5 0M375.36 122.85a1.25 1.25 0 1 0 2.5 0a1.25 1.25 0 1 0 -2.5 0M377.73 116.16a1.25 1.25 0 1 0 2.5 0a1.25 1.25 0 1 0 -2.5 0M380.1 109.81a1.25 1.25 0 1 0 2.5 0a1.25 1.25 0 1 0 -2.5 0M382.47 103.82a1.25 1.25 0 1 0 2.5 0a1.25 1.25 0 1 0 -2.5 0M384.84 98.25a1.25 1.25 0 1 0 2.5 0a1.25 1.25 0 1 0 -2.5 0M387.21 93.09a1.25 1.25 0 1 0 2.5 0a1.25 1.25 0 1 0 -2.5 0M389.58 88.32a1.25 1.25 0 1 0 2.5 0a1.25 1.25 0 1 0 -2.5 0M391.95 83.92a1.25 1.25 0 1 0 2.5 0a1.25 1.25 0 1 0 -2.5 0M394.32 79.89a1.25 1.25 0 1 0 2.5 0a1.25 1.25 0 1 0 -2.5 0M396.69 76.24a1.25 1.25 0 1 0 2.5 0a1.25 1.25 0 1 0 -2.5 0M399.06 72.97a1.25 1.25 0 1 0 2.5 0a1.25 1.25 0 1 0 -2.5 0M401.43 70.03a1.25 1.25 0 1 0 2.5 0a1.25 1.25 0 1 0 -2.5 0M403.8 67.37a1.25 1.25 0 1 0 2.5 0a1.25 1.25 0 1 0 -2.5 0M406.17 64.93a1.25 1.25 0 1 0 2.5 0a1.25 1.25 0 1 0 -2.5 0M408.54 62.71a1.25 1.25 0 1 0 2.5 0a1.25 1.25 0 1 0 -2.5 0M410.91 60.7a1.25 1.25 0 1 0 2.5 0a1.25 1.25 0 1 0 -2.5 0M413.28 58.91a1.25 1.25 0 1 0 2.5 0a1.25 1.25 0 1 0 -2.5 0M415.65 57.32a1.25 1.25 0 1 0 2.5 0a1.25 1.25 0 1 0 -2.5 0M418.02 55.91a1.25 1.25 0 1 0 2.5 0a1.25 1.25 0 1 0 -2.5 0M420.38 54.66a1.25 1.25 0 1 0 2.5 0a1.25 1.25 0 1 0 -2.5 0M422.75 53.55a1.25 1.25 0 1 0 2.5 0a1.25 1.25 0 1 0 -2.5 0M425.12 52.56a1.25 1.25 0 1 0 2.5 0a1.25 1.25 0 1 0 -2.5 0M427.49 51.65a1.25 1.25 0 1 0 2.5 0a1.25 1.25 0 1 0 -2.5 0M429.86 50.79a1.25 1.25 0 1 0 2.5 0a1.25 1.25 0 1 0 -2.5 0M432.23 49.99a1.25 1.25 0 1 0 2.5 0a1.25 1.25 0 1 0 -2.5 0M434.6 49.25a1.25 1.25 0 1 0 2.5 0a1.25 1.25 0 1 0 -2.5 0M436.97 48.6a1.25 1.25 0 1 0 2.5 0a1.25 1.25 0 1 0 -2.5 0M439.34 48.02a1.25 1.25 0 1 0 2.5 0a1.25 1.25 0 1 0 -2.5 0M441.71 47.53a1.25 1.25 0 1 0 2.5 0a1.25 1.25 0 1 0 -2.5 0M444.08 47.1a1.25 1.25 0 1 0 2.5 0a1.25 1.25 0 1 0 -2.5 0M446.45 46.73a1.25 1.25 0 1 0 2.5 0a1.25 1.25 0 1 0 -2.5 0M448.82 46.42a1.25 1.25 0 1 0 2.5 0a1.25 1.25 0 1 0 -2.5 0M451.19 46.14a1.25 1.25 0 1 0 2.5 0a1.25 1.25 0 1 0 -2.5 0M453.56 45.91a1.25 1.25 0 1 0 2.5 0a1.25 1.25 0 1 0 -2.5 0M455.93 45.7a1.25 1.25 0 1 0 2.5 0a1.25 1.25 0 1 0 -2.5 0M458.3 45.51a1.25 1.25 0 1 0 2.5 0a1.25 1.25 0 1 0 -2.5 0M460.67 45.33a1.25 1.25 0 1 0 2.5 0a1.25 1.25 0 1 0 -2.5 0M463.04 45.15a1.25 1.25 0 1 0 2.5 0a1.25 1.25 0 1 0 -2.5 0M465.41 44.96a1.25 1.25 0 1 0 2.5 0a1.25 1.25 0 1 0 -2.5 0M467.77 44.78a1.25 1.25 0 1 0 2.5 0a1.25 1.25 0 1 0 -2.5 0M470.14 44.62a1.25 1.25 0 1 0 2.5 0a1.25 1.25 0 1 0 -2.5 0M472.51 44.49a1.25 1.25 0 1 0 2.5 0a1.25 1.25 0 1 0 -2.5 0M474.88 44.38a1.25 1.25 0 1 0 2.5 0a1.25 1.25 0 1 0 -2.5 0M477.25 44.29a1.25 1.25 0 1 0 2.5 0a1.25 1.25 0 1 0 -2.5 0M479.62 44.21a1.25 1.25 0 1 0 2.5 0a1.25 1.25 0 1 0 -2.5 0M481.99 44.14a1.25 1.25 0 1 0 2.5 0a1.25 1.25 0 1 0 -2.5 0M484.36 44.08a1.25 1.25 0 1 0 2.5 0a1.25 1.25 0 1 0 -2.5 0M486.73 44.03a1.25 1.25 0 1 0 2.5 0a1.25 1.25 0 1 0 -2.5 0M489.1 43.98a1.25 1.25 0 1 0 2.5 0a1.25 1.25 0 1 0 -2.5 0M491.47 43.93a1.25 1.25 0 1 0 2.5 0a1.25 1.25 0 1 0 -2.5 0M493.84 43.89a1.25 1.25 0 1 0 2.5 0a1.25 1.25 0 1 0 -2.5 0M496.21 43.86a1.25 1.25 0 1 0 2.5 0a1.25 1.25 0 1 0 -2.5 0M498.58 43.83a1.25 1.25 0 1 0 2.5 0a1.25 1.25 0 1 0 -2.5 0M500.95 43.8a1.25 1.25 0 1 0 2.5 0a1.25 1.25 0 1 0 -2.5 0M503.32 43.77a1.25 1.25 0 1 0 2.5 0a1.25 1.25 0 1 0 -2.5 0M505.69 43.75a1.25 1.25 0 1 0 2.5 0a1.25 1.25 0 1 0 -2.5 0M508.06 43.73a1.25 1.25 0 1 0 2.5 0a1.25 1.25 0 1 0 -2.5 0M510.43 43.71a1.25 1.25 0 1 0 2.5 0a1.25 1.25 0 1 0 -2.5 0M512.8 43.69a1.25 1.25 0 1 0 2.5 0a1.25 1.25 0 1 0 -2.5 0M515.16 43.67a1.25 1.25 0 1 0 2.5 0a1.25 1.25 0 1 0 -2.5 0M517.53 43.65a1.25 1.25 0 1 0 2.5 0a1.25 1.25 0 1 0 -2.5 0M519.9 43.63a1.25 1.25 0 1 0 2.5 0a1.25 1.25 0 1 0 -2.5 0M522.27 43.61a1.25 1.25 0 1 0 2.5 0a1.25 1.25 0 1 0 -2.5 0M524.64 43.59a1.25 1.25 0 1 0 2.5 0a1.25 1.25 0 1 0 -2.5 0M527.01 43.57a1.25 1.25 0 1 0 2.5 0a1.25 1.25 0 1 0 -2.5 0M529.38 43.55a1.25 1.25 0 1 0 2.5 0a1.25 1.25 0 1 0 -2.5 0M531.75 43.53a1.25 1.25 0 1 0 2.5 0a1.25 1.25 0 1 0 -2.5 0M534.12 43.51a1.25 1.25 0 1 0 2.5 0a1.25 1.25 0 1 0 -2.5 0M536.49 43.49a1.25 1.25 0 1 0 2.5 0a1.25 1.25 0 1 0 -2.5 0M538.86 43.47a1.25 1.25 0 1 0 2.5 0a1.25 1.25 0 1 0 -2.5 0M541.23 43.45a1.25 1.25 0 1 0 2.5 0a1.25 1.25 0 1 0 -2.5 0M543.6 43.43a1.25 1.25 0 1 0 2.5 0a1.25 1.25 0 1 0 -2.5 0M545.97 43.42a1.25 1.25 0 1 0 2.5 0a1.25 1.25 0 1 0 -2.5 0M548.34 43.4a1.25 1.25 0 1 0 2.5 0a1.25 1.25 0 1 0 -2.5 0M550.71 43.38a1.25 1.25 0 1 0 2.5 0a1.25 1.25 0 1 0 -2.5 0M553.08 43.37a1.25 1.25 0 1 0 2.5 0a1.25 1.25 0 1 0 -2.5 0M555.45 43.35a1.25 1.25 0 1 0 2.5 0a1.25 1.25 0 1 0 -2.5 0M557.82 43.33a1.25 1.25 0 1 0 2.5 0a1.25 1.25 0 1 0 -2.5 0M560.19 43.32a1.25 1.25 0 1 0 2.5 0a1.25 1.25 0 1 0 -2.5 0M562.56 43.3a1.25 1.25 0 1 0 2.5 0a1.25 1.25 0 1 0 -2.5 0M564.92 43.29a1.25 1.25 0 1 0 2.5 0a1.25 1.25 0 1 0 -2.5 0M567.29 43.27a1.25 1.25 0 1 0 2.5 0a1.25 1.25 0 1 0 -2.5 0M569.66 43.26a1.25 1.25 0 1 0 2.5 0a1.25 1.25 0 1 0 -2.5 0M572.03 43.25a1.25 1.25 0 1 0 2.5 0a1.25 1.25 0 1 0 -2.5 0M574.4 43.23a1.25 1.25 0 1 0 2.5 0a1.25 1.25 0 1 0 -2.5 0M576.77 43.22a1.25 1.25 0 1 0 2.5 0a1.25 1.25 0 1 0 -2.5 0M579.14 43.21a1.25 1.25 0 1 0 2.5 0a1.25 1.25 0 1 0 -2.5 0M581.51 43.2a1.25 1.25 0 1 0 2.5 0a1.25 1.25 0 1 0 -2.5 0M583.88 43.18a1.25 1.25 0 1 0 2.5 0a1.25 1.25 0 1 0 -2.5 0M586.25 43.18a1.25 1.25 0 1 0 2.5 0a1.25 1.25 0 1 0 -2.5 0" fill="#ff0000"/>
<path d="M349.25 185.74a1.3 1.3 0 1 0 2.6 0a1.3 1.3 0 1 0 -2.6 0M351.62 182.26a1.3 1.3 0 1 0 2.6 0a1.3 1.3 0 1 0 -2.6 0M353.99 178.43a1.3 1.3 0 1 0 2.6 0a1.3 1.3 0 1 0 -2.6 0M356.36 174.24a1.3 1.3 0 1 0 2.6 0a1.3 1.3 0 1 0 -2.6 0M358.73 169.68a1.3 1.3 0 1 0 2.6 0a1.3 1.3 0 1 0 -2.6 0M361.1 164.76a1.3 1.3 0 1 0 2.6 0a1.3 1.3 0 1 0 -2.6 0M363.47 159.48a1.3 1.3 0 1 0 2.6 0a1.3 1.3 0 1 0 -2.6 0M365.84 153.86a1.3 1.3 0 1 0 2.6 0a1.3 1.3 0 1 0 -2.6 0M368.21 147.92a1.3 1.3 0 1 0 2.6 0a1.3 1.3 0 1 0 -2.6 0M370.58 141.73a1.3 1.3 0 1 0 2.6 0a1.3 1.3 0 1 0 -2.6 0M372.94 135.41a1.3 1.3 0 1 0 2.6 0a1.3 1.3 0 1 0 -2.6 0M375.31 129.09a1.3 1.3 0 1 0 2.6 0a1.3 1.3 0 1 0 -2.6 0M377.68 122.88a1.3 1.3 0 1 0 2.6 0a1.3 1.3 0 1 0 -2.6 0M380.05 116.87a1.3 1.3 0 1 0 2.6 0a1.3 1.3 0 1 0 -2.6 0M382.42 111.1a1.3 1.3 0 1 0 2.6 0a1.3 1.3 0 1 0 -2.6 0M384.79 105.59a1.3 1.3 0 1 0 2.6 0a1.3 1.3 0 1 0 -2.6 0M387.16 100.39a1.3 1.3 0 1 0 2.6 0a1.3 1.3 0 1 0 -2.6 0M389.53 95.51a1.3 1.3 0 1 0 2.6 0a1.3 1.3 0 1 0 -2.6 0M391.9 90.95a1.3 1.3 0 1 0 2.6 0a1.3 1.3 0 1 0 -2.6 0M394.27 86.74a1.3 1.3 0 1 0 2.6 0a1.3 1.3 0 1 0 -2.6 0M396.64 82.9a1.3 1.3 0 1 0 2.6 0a1.3 1.3 0 1 0 -2.6 0M399.01 79.44a1.3 1.3 0 1 0 2.6 0a1.3 1.3 0 1 0 -2.6 0M401.38 76.33a1.3 1.3 0 1 0 2.6 0a1.3 1.3 0 1 0 -2.6 0M403.75 73.51a1.3 1.3 0 1 0 2.6 0a1.3 1.3 0 1 0 -2.6 0M406.12 70.91a1.3 1.3 0 1 0 2.6 0a1.3 1.3 0 1 0 -2.6 0M408.49 68.53a1.3 1.3 0 1 0 2.6 0a1.3 1.3 0 1 0 -2.6 0M410.86 66.33a1.3 1.3 0 1 0 2.6 0a1.3 1.3 0 1 0 -2.6 0M413.23 64.33a1.3 1.3 0 1 0 2.6 0a1.3 1.3 0 1 0 -2.6 0M415.6 62.49a1.3 1.3 0 1 0 2.6 0a1.3 1.3 0 1 0 -2.6 0M417.97 60.82a1.3 1.3 0 1 0 2.6 0a1.3 1.3 0 1 0 -2.6 0M420.33 59.31a1.3 1.3 0 1 0 2.6 0a1.3 1.3 0 1 0 -2.6 0M422.7 57.95a1.3 1.3 0 1 0 2.6 0a1.3 1.3 0 1 0 -2.6 0M425.07 56.72a1.3 1.3 0 1 0 2.6 0a1.3 1.3 0 1 0 -2.6 0M427.44 55.58a1.3 1.3 0 1 0 2.6 0a1.3 1.3 0 1 0 -2.6 0M429.81 54.52a1.3 1.3 0 1 0 2.6 0a1.3 1.3 0 1 0 -2.6 0M432.18 53.54a1.3 1.3 0 1 0 2.6 0a1.3 1.3 0 1 0 -2.6 0M434.55 52.66a1.3 1.3 0 1 0 2.6 0a1.3 1.3 0 1 0 -2.6 0M436.92 51.87a1.3 1.3 0 1 0 2.6 0a1.3 1.3 0 1 0 -2.6 0M439.29 51.16a1.3 1.3 0 1 0 2.6 0a1.3 1.3 0 1 0 -2.6 0M441.66 50.54a1.3 1.3 0 1 0 2.6 0a1.3 1.3 0 1 0 -2.6 0M444.03 49.98a1.3 1.3 0 1 0 2.6 0a1.3 1.3 0 1 0 -2.6 0M446.4 49.48a1.3 1.3 0 1 0 2.6 0a1.3 1.3 0 1 0 -2.6 0M448.77 49.03a1.3 1.3 0 1 0 2.6 0a1.3 1.3 0 1 0 -2.6 0M451.14 48.62a1.3 1.3 0 1 0 2.6 0a1.3 1.3 0 1 0 -2.6 0M453.51 48.25a1.3 1.3 0 1 0 2.6 0a1.3 1.3 0 1 0 -2.6 0M455.88 47.92a1.3 1.3 0 1 0 2.6 0a1.3 1.3 0 1 0 -2.6 0M458.25 47.61a1.3 1.3 0 1 0 2.6 0a1.3 1.3 0 1 0 -2.6 0M460.62 47.33a1.3 1.3 0 1 0 2.6 0a1.3 1.3 0 1 0 -2.6 0M462.99 47.08a1.3 1.3 0 1 0 2.6 0a1.3 1.3 0 1 0 -2.6 0M465.36 46.85a1.3 1.3 0 1 0 2.6 0a1.3 1.3 0 1 0 -2.6 0M467.72 46.65a1.3 1.3 0 1 0 2.6 0a1.3 1.3 0 1 0 -2.6 0M470.09 46.47a1.3 1.3 0 1 0 2.6 0a1.3 1.3 0 1 0 -2.6 0M472.46 46.3a1.3 1.3 0 1 0 2.6 0a1.3 1.3 0 1 0 -2.6 0M474.83 46.15a1.3 1.3 0 1 0 2.6 0a1.3 1.3 0 1 0 -2.6 0M477.2 46.01a1.3 1.3 0 1 0 2.6 0a1.3 1.3 0 1 0 -2.6 0M479.57 45.88a1.3 1.3 0 1 0 2.6 0a1.3 1.3 0 1 0 -2.6 0M481.94 45.76a1.3 1.3 0 1 0 2.6 0a1.3 1.3 0 1 0 -2.6 0M484.31 45.64a1.3 1.3 0 1 0 2.6 0a1.3 1.3 0 1 0 -2.6 0M486.68 45.53a1.3 1.3 0 1 0 2.6 0a1.3 1.3 0 1 0 -2.6 0M489.05 45.44a1.3 1.3 0 1 0 2.6 0a1.3 1.3 0 1 0 -2.6 0M491.42 45.34a1.3 1.3 0 1 0 2.6 0a1.3 1.3 0 1 0 -2.6 0M493.79 45.26a1.3 1.3 0 1 0 2.6 0a1.3 1.3 0 1 0 -2.6 0M496.16 45.19a1.3 1.3 0 1 0 2.6 0a1.3 1.3 0 1 0 -2.6 0M498.53 45.12a1.3 1.3 0 1 0 2.6 0a1.3 1.3 0 1 0 -2.6 0M500.9 45.05a1.3 1.3 0 1 0 2.6 0a1.3 1.3 0 1 0 -2.6 0M503.27 44.99a1.3 1.3 0 1 0 2.6 0a1.3 1.3 0 1 0 -2.6 0M505.64 44.93a1.3 1.3 0 1 0 2.6 0a1.3 1.3 0 1 0 -2.6 0M508.01 44.87a1.3 1.3 0 1 0 2.6 0a1.3 1.3 0 1 0 -2.6 0M510.38 44.82a1.3 1.3 0 1 0 2.6 0a1.3 1.3 0 1 0 -2.6 0M512.75 44.76a1.3 1.3 0 1 0 2.6 0a1.3 1.3 0 1 0 -2.6 0M515.12 44.71a1.3 1.3 0 1 0 2.6 0a1.3 1.3 0 1 0 -2.6 0M517.48 44.66a1.3 1.3 0 1 0 2.6 0a1.3 1.3 0 1 0 -2.6 0M519.85 44.62a1.3 1.3 0 1 0 2.6 0a1.3 1.3 0 1 0 -2.6 0M522.22 44.57a1.3 1.3 0 1 0 2.6 0a1.3 1.3 0 1 0 -2.6 0M524.59 44.52a1.3 1.3 0 1 0 2.6 0a1.3 1.3 0 1 0 -2.6 0M526.96 44.48a1.3 1.3 0 1 0 2.6 0a1.3 1.3 0 1 0 -2.6 0M529.33 44.44a1.3 1.3 0 1 0 2.6 0a1.3 1.3 0 1 0 -2.6 0M531.7 44.41a1.3 1.3 0 1 0 2.6 0a1.3 1.3 0 1 0 -2.6 0M534.07 44.37a1.3 1.3 0 1 0 2.6 0a1.3 1.3 0 1 0 -2.6 0M536.44 44.34a1.3 1.3 0 1 0 2.6 0a1.3 1.3 0 1 0 -2.6 0M538.81 44.32a1.3 1.3 0 1 0 2.6 0a1.3 1.3 0 1 0 -2.6 0M541.18 44.29a1.3 1.3 0 1 0 2.6 0a1.3 1.3 0 1 0 -2.6 0M543.55 44.27a1.3 1.3 0 1 0 2.6 0a1.3 1.3 0 1 0 -2.6 0M545.92 44.25a1.3 1.3 0 1 0 2.6 0a1.3 1.3 0 1 0 -2.6 0M548.29 44.23a1.3 1.3 0 1 0 2.6 0a1.3 1.3 0 1 0 -2.6 0M550.66 44.21a1.3 1.3 0 1 0 2.6 0a1.3 1.3 0 1 0 -2.6 0M553.03 44.2a1.3 1.3 0 1 0 2.6 0a1.3 1.3 0 1 0 -2.6 0M555.4 44.19a1.3 1.3 0 1 0 2.6 0a1.3 1.3 0 1 0 -2.6 0M557.77 44.18a1.3 1.3 0 1 0 2.6 0a1.3 1.3 0 1 0 -2.6 0M560.14 44.17a1.3 1.3 0 1 0 2.6 0a1.3 1.3 0 1 0 -2.6 0M562.51 44.17a1.3 1.3 0 1 0 2.6 0a1.3 1.3 0 1 0 -2.6 0M564.87 44.16a1.3 1.3 0 1 0 2.6 0a1.3 1.3 0 1 0 -2.6 0M567.24 44.16a1.3 1.3 0 1 0 2.6 0a1.3 1.3 0 1 0 -2.6 0M569.61 44.16a1.3 1.3 0 1 0 2.6 0a1.3 1.3 0 1 0 -2.6 0M571.98 44.16a1.3 1.3 0 1 0 2.6 0a1.3 1.3 0 1 0 -2.6 0M574.35 44.16a1.3 1.3 0 1 0 2.6 0a1.3 1.3 0 1 0 -2.6 0M576.72 44.17a1.3 1.3 0 1 0 2.6 0a1.3 1.3 0 1 0 -2.6 0M579.09 44.17a1.3 1.3 0 1 0 2.6 0a1.3 1.3 0 1 0 -2.6 0M581.46 44.18a1.3 1.3 0 1 0 2.6 0a1.3 1.3 0 1 0 -2.6 0M583.83 44.18a1.3 1.3 0 1 0 2.6 0a1.3 1.3 0 1 0 -2.6 0M586.2 44.18a1.3 1.3 0 1 0 2.6 0a1.3 1.3 0 1 0 -2.6 0" fill="#000" opacity="0.33"/>
<path d="M349.25 185.74a1.3 1.3 0 1 0 2.6 0a1.3 1.3 0 1 0 -2.6 0M351.62 182.05a1.3 1.3 0 1 0 2.6 0a1.3 1.3 0 1 0 -2.6 0M353.99 178.17a1.3 1.3 0 1 0 2.6 0a1.3 1.3 0 1 0 -2.6 0M356.36 174.11a1.3 1.3 0 1 0 2.6 0a1.3 1.3 0 1 0 -2.6 0M358.73 169.84a1.3 1.3 0 1 0 2.6 0a1.3 1.3 0 1 0 -2.6 0" fill="#1a00ff" opacity="0.55"/>
<path d="M361.1 165.4a1.3 1.3 0 1 0 2.6 0a1.3 1.3 0 1 0 -2.6 0M363.47 160.76a1.3 1.3 0 1 0 2.6 0a1.3 1.3 0 1 0 -2.6 0" fill="#1a00ff" opacity="0.3"/>
</g>
<rect x="350.55" y="33.4" width="236.95" height="174.1" fill="none" stroke="#2e2e2e" stroke-width="1.25"/>
<path d="M350.55 207.5v4M350.55 33.4v2.8M380.17 207.5v2M380.17 33.4v1.8M409.79 207.5v4M409.79 33.4v2.8M439.41 207.5v2M439.41 33.4v1.8M469.02 207.5v4M469.02 33.4v2.8M498.64 207.5v2M498.64 33.4v1.8M528.26 207.5v4M528.26 33.4v2.8M557.88 207.5v2M557.88 33.4v1.8M587.5 207.5v4M587.5 33.4v2.8M350.55 207.5h-4M587.5 207.5h-2.8M350.55 185.74h-2M587.5 185.74h-1.8M350.55 163.97h-4M587.5 163.97h-2.8M350.55 142.21h-2M587.5 142.21h-1.8M350.55 120.45h-4M587.5 120.45h-2.8M350.55 98.69h-2M587.5 98.69h-1.8M350.55 76.93h-4M587.5 76.93h-2.8M350.55 55.16h-2M587.5 55.16h-1.8M350.55 33.4h-4M587.5 33.4h-2.8" stroke="#2e2e2e" stroke-width="1.25" fill="none"/>
<text transform="translate(350.55 225.4) scale(0.98 1.07)" font-size="15.2" text-anchor="middle" fill="#000" stroke="#000" stroke-width="0.2">0</text>
<text transform="translate(409.79 225.4) scale(0.98 1.07)" font-size="15.2" text-anchor="middle" fill="#000" stroke="#000" stroke-width="0.2">1000</text>
<text transform="translate(469.02 225.4) scale(0.98 1.07)" font-size="15.2" text-anchor="middle" fill="#000" stroke="#000" stroke-width="0.2">2000</text>
<text transform="translate(528.26 225.4) scale(0.98 1.07)" font-size="15.2" text-anchor="middle" fill="#000" stroke="#000" stroke-width="0.2">3000</text>
<text transform="translate(587.5 225.4) scale(0.98 1.07)" font-size="15.2" text-anchor="middle" fill="#000" stroke="#000" stroke-width="0.2">4000</text>
<text transform="translate(344.35 212) scale(0.98 1.07)" font-size="15.2" text-anchor="end" fill="#000" stroke="#000" stroke-width="0.2">0.0</text>
<text transform="translate(344.35 168.47) scale(0.98 1.07)" font-size="15.2" text-anchor="end" fill="#000" stroke="#000" stroke-width="0.2">0.2</text>
<text transform="translate(344.35 124.95) scale(0.98 1.07)" font-size="15.2" text-anchor="end" fill="#000" stroke="#000" stroke-width="0.2">0.4</text>
<text transform="translate(344.35 81.43) scale(0.98 1.07)" font-size="15.2" text-anchor="end" fill="#000" stroke="#000" stroke-width="0.2">0.6</text>
<text transform="translate(344.35 37.9) scale(0.98 1.07)" font-size="15.2" text-anchor="end" fill="#000" stroke="#000" stroke-width="0.2">0.8</text>
<text x="354.75" y="56.7" font-size="22" fill="#000">(c)</text>
</g>
<g id="panel-b">
<clipPath id="clip-b"><rect x="51.25" y="239.4" width="237.8" height="174.5"/></clipPath>
<g clip-path="url(#clip-b)">
<path d="M60.74 371.06V372.77M58.84 371.06h3.8M58.84 372.77h3.8M63.11 367.74V369.87M61.21 367.74h3.8M61.21 369.87h3.8M65.48 364.48V367.04M63.58 364.48h3.8M63.58 367.04h3.8M67.85 361.25V364.24M65.95 361.25h3.8M65.95 364.24h3.8M70.23 357.98V361.32M68.33 357.98h3.8M68.33 361.32h3.8M72.6 354.77V358.39M70.7 354.77h3.8M70.7 358.39h3.8M74.97 351.54V355.44M73.07 351.54h3.8M73.07 355.44h3.8M77.34 348.19V352.37M75.44 348.19h3.8M75.44 352.37h3.8M79.71 344.84V349.3M77.81 344.84h3.8M77.81 349.3h3.8M82.09 341.55V346.29M80.19 341.55h3.8M80.19 346.29h3.8M84.46 338.26V343.28M82.56 338.26h3.8M82.56 343.28h3.8M86.83 334.99V340.29M84.93 334.99h3.8M84.93 340.29h3.8M89.2 331.84V337.42M87.3 331.84h3.8M87.3 337.42h3.8M91.57 328.52V334.38M89.67 328.52h3.8M89.67 334.38h3.8M93.95 325.35V331.38M92.05 325.35h3.8M92.05 331.38h3.8M96.32 322.42V328.51M94.42 322.42h3.8M94.42 328.51h3.8M98.69 319.67V325.82M96.79 319.67h3.8M96.79 325.82h3.8M101.06 317.05V323.26M99.16 317.05h3.8M99.16 323.26h3.8M103.43 314.47V320.74M101.53 314.47h3.8M101.53 320.74h3.8M105.81 312.09V318.42M103.91 312.09h3.8M103.91 318.42h3.8M108.18 309.65V316.04M106.28 309.65h3.8M106.28 316.04h3.8M110.55 307.45V313.9M108.65 307.45h3.8M108.65 313.9h3.8M112.92 305.18V311.69M111.02 305.18h3.8M111.02 311.69h3.8M115.29 303.16V309.73M113.39 303.16h3.8M113.39 309.73h3.8M117.67 301.13V307.7M115.77 301.13h3.8M115.77 307.7h3.8M120.04 299.31V305.81M118.14 299.31h3.8M118.14 305.81h3.8M122.41 297.6V304.04M120.51 297.6h3.8M120.51 304.04h3.8M124.78 295.84V302.22M122.88 295.84h3.8M122.88 302.22h3.8M127.15 294.47V300.79M125.25 294.47h3.8M125.25 300.79h3.8M129.53 293.03V299.29M127.63 293.03h3.8M127.63 299.29h3.8M131.9 291.79V297.98M130 291.79h3.8M130 297.98h3.8M134.27 290.17V296.31M132.37 290.17h3.8M132.37 296.31h3.8M136.64 289.02V295.09M134.74 289.02h3.8M134.74 295.09h3.8M139.01 287.81V293.82M137.11 287.81h3.8M137.11 293.82h3.8M141.39 286.73V292.68M139.49 286.73h3.8M139.49 292.68h3.8M143.76 285.77V291.66M141.86 285.77h3.8M141.86 291.66h3.8M146.13 284.79V290.62M144.23 284.79h3.8M144.23 290.62h3.8M148.5 283.75V289.51M146.6 283.75h3.8M146.6 289.51h3.8M150.87 282.75V288.45M148.97 282.75h3.8M148.97 288.45h3.8M153.25 282.15V287.79M151.35 282.15h3.8M151.35 287.79h3.8M155.62 280.98V286.55M153.72 280.98h3.8M153.72 286.55h3.8M157.99 280.15V285.66M156.09 280.15h3.8M156.09 285.66h3.8M160.36 279.21V284.66M158.46 279.21h3.8M158.46 284.66h3.8M162.73 278.39V283.77M160.83 278.39h3.8M160.83 283.77h3.8M165.11 277.34V282.67M163.21 277.34h3.8M163.21 282.67h3.8M167.48 276.71V281.98M165.58 276.71h3.8M165.58 281.98h3.8M169.85 276.11V281.31M167.95 276.11h3.8M167.95 281.31h3.8M172.22 275.24V280.43M170.32 275.24h3.8M170.32 280.43h3.8M174.59 274.68V279.86M172.69 274.68h3.8M172.69 279.86h3.8M176.97 273.92V279.09M175.07 273.92h3.8M175.07 279.09h3.8M179.34 273.15V278.3M177.44 273.15h3.8M177.44 278.3h3.8M181.71 272.7V277.84M179.81 272.7h3.8M179.81 277.84h3.8M184.08 272.43V277.56M182.18 272.43h3.8M182.18 277.56h3.8M186.45 271.82V276.94M184.55 271.82h3.8M184.55 276.94h3.8M188.83 271.4V276.5M186.93 271.4h3.8M186.93 276.5h3.8M191.2 271.12V276.21M189.3 271.12h3.8M189.3 276.21h3.8M193.57 270.59V275.67M191.67 270.59h3.8M191.67 275.67h3.8M195.94 270.02V275.08M194.04 270.02h3.8M194.04 275.08h3.8M198.31 270.02V275.08M196.41 270.02h3.8M196.41 275.08h3.8M200.69 269.39V274.44M198.79 269.39h3.8M198.79 274.44h3.8M203.06 268.79V273.82M201.16 268.79h3.8M201.16 273.82h3.8M205.43 268.56V273.58M203.53 268.56h3.8M203.53 273.58h3.8M207.8 268.01V273.02M205.9 268.01h3.8M205.9 273.02h3.8M210.17 267.72V272.71M208.27 267.72h3.8M208.27 272.71h3.8M212.55 267.67V272.65M210.65 267.67h3.8M210.65 272.65h3.8M214.92 267.56V272.53M213.02 267.56h3.8M213.02 272.53h3.8M217.29 267.08V272.04M215.39 267.08h3.8M215.39 272.04h3.8M219.66 266.98V271.92M217.76 266.98h3.8M217.76 271.92h3.8M222.03 266.92V271.86M220.13 266.92h3.8M220.13 271.86h3.8M224.41 266.75V271.67M222.51 266.75h3.8M222.51 271.67h3.8M226.78 266.56V271.47M224.88 266.56h3.8M224.88 271.47h3.8M229.15 266.15V271.05M227.25 266.15h3.8M227.25 271.05h3.8M231.52 265.98V270.86M229.62 265.98h3.8M229.62 270.86h3.8M233.89 265.83V270.71M231.99 265.83h3.8M231.99 270.71h3.8M236.27 265.55V270.41M234.37 265.55h3.8M234.37 270.41h3.8M238.64 265.34V270.19M236.74 265.34h3.8M236.74 270.19h3.8M241.01 265.29V270.13M239.11 265.29h3.8M239.11 270.13h3.8M243.38 265.07V269.9M241.48 265.07h3.8M241.48 269.9h3.8M245.75 264.96V269.78M243.85 264.96h3.8M243.85 269.78h3.8M248.13 265.09V269.89M246.23 265.09h3.8M246.23 269.89h3.8M250.5 264.97V269.76M248.6 264.97h3.8M248.6 269.76h3.8M252.87 264.67V269.45M250.97 264.67h3.8M250.97 269.45h3.8M255.24 264.81V269.58M253.34 264.81h3.8M253.34 269.58h3.8M257.61 264.56V269.31M255.71 264.56h3.8M255.71 269.31h3.8M259.99 264.44V269.18M258.09 264.44h3.8M258.09 269.18h3.8M262.36 264.4V269.13M260.46 264.4h3.8M260.46 269.13h3.8M264.73 264.51V269.23M262.83 264.51h3.8M262.83 269.23h3.8M267.1 264.15V268.85M265.2 264.15h3.8M265.2 268.85h3.8M269.47 263.95V268.65M267.57 263.95h3.8M267.57 268.65h3.8M271.85 263.97V268.65M269.95 263.97h3.8M269.95 268.65h3.8M274.22 263.67V268.34M272.32 263.67h3.8M272.32 268.34h3.8M276.59 263.78V268.44M274.69 263.78h3.8M274.69 268.44h3.8M278.96 263.48V268.13M277.06 263.48h3.8M277.06 268.13h3.8M281.33 263.11V267.74M279.43 263.11h3.8M279.43 267.74h3.8M283.71 262.77V267.39M281.81 262.77h3.8M281.81 267.39h3.8M286.08 262.75V267.36M284.18 262.75h3.8M284.18 267.36h3.8M288.45 262.47V267.07M286.55 262.47h3.8M286.55 267.07h3.8" stroke="#0000ff" stroke-width="0.5" fill="none" opacity="0.7"/>
<path d="M82.09 334.46V337.46M79.99 334.46h4.2M79.99 337.46h4.2M84.46 330.17V333.17M82.36 330.17h4.2M82.36 333.17h4.2M86.83 325.94V328.94M84.73 325.94h4.2M84.73 328.94h4.2M89.2 321.79V324.79M87.1 321.79h4.2M87.1 324.79h4.2M91.57 317.74V320.74M89.47 317.74h4.2M89.47 320.74h4.2M93.95 313.8V316.8M91.85 313.8h4.2M91.85 316.8h4.2M96.32 310V313M94.22 310h4.2M94.22 313h4.2M98.69 306.36V309.36M96.59 306.36h4.2M96.59 309.36h4.2M101.06 302.91V305.91M98.96 302.91h4.2M98.96 305.91h4.2M103.43 299.64V302.64M101.33 299.64h4.2M101.33 302.64h4.2M105.81 296.58V299.58M103.71 296.58h4.2M103.71 299.58h4.2M108.18 293.73V296.73M106.08 293.73h4.2M106.08 296.73h4.2M110.55 291.07V294.07M108.45 291.07h4.2M108.45 294.07h4.2M112.92 288.55V291.55M110.82 288.55h4.2M110.82 291.55h4.2M115.29 286.14V289.14M113.19 286.14h4.2M113.19 289.14h4.2M117.67 283.84V286.84M115.57 283.84h4.2M115.57 286.84h4.2M120.04 281.67V284.67M117.94 281.67h4.2M117.94 284.67h4.2M122.41 279.64V282.64M120.31 279.64h4.2M120.31 282.64h4.2M124.78 277.77V280.77M122.68 277.77h4.2M122.68 280.77h4.2M127.15 276.03V279.03M125.05 276.03h4.2M125.05 279.03h4.2M129.53 274.41V277.41M127.43 274.41h4.2M127.43 277.41h4.2M131.9 272.9V275.9M129.8 272.9h4.2M129.8 275.9h4.2M134.27 271.49V274.49M132.17 271.49h4.2M132.17 274.49h4.2M136.64 270.17V273.17M134.54 270.17h4.2M134.54 273.17h4.2M139.01 268.95V271.95M136.91 268.95h4.2M136.91 271.95h4.2M141.39 267.82V270.82M139.29 267.82h4.2M139.29 270.82h4.2M143.76 266.78V269.78M141.66 266.78h4.2M141.66 269.78h4.2M146.13 265.82V268.82M144.03 265.82h4.2M144.03 268.82h4.2M148.5 264.92V267.92M146.4 264.92h4.2M146.4 267.92h4.2M150.87 264.1V267.1M148.77 264.1h4.2M148.77 267.1h4.2M153.25 263.33V266.33M151.15 263.33h4.2M151.15 266.33h4.2M155.62 262.62V265.62M153.52 262.62h4.2M153.52 265.62h4.2M157.99 261.95V264.95M155.89 261.95h4.2M155.89 264.95h4.2M160.36 261.34V264.34M158.26 261.34h4.2M158.26 264.34h4.2M162.73 260.76V263.76M160.63 260.76h4.2M160.63 263.76h4.2M165.11 260.21V263.21M163.01 260.21h4.2M163.01 263.21h4.2M167.48 259.7V262.7M165.38 259.7h4.2M165.38 262.7h4.2M169.85 259.22V262.22M167.75 259.22h4.2M167.75 262.22h4.2M172.22 258.76V261.76M170.12 258.76h4.2M170.12 261.76h4.2M174.59 258.33V261.33M172.49 258.33h4.2M172.49 261.33h4.2M176.97 257.91V260.91M174.87 257.91h4.2M174.87 260.91h4.2M179.34 257.51V260.51M177.24 257.51h4.2M177.24 260.51h4.2" stroke="#000" stroke-width="0.45" fill="none" opacity="0.55"/>
<polyline points="51.25,384.82 53.62,381.58 55.99,378.33 58.37,375.09 60.74,371.92 63.11,368.8 65.48,365.76 67.85,362.74 70.23,359.65 72.6,356.58 74.97,353.49 77.34,350.28 79.71,347.07 82.09,343.92 84.46,340.77 86.83,337.64 89.2,334.63 91.57,331.45 93.95,328.36 96.32,325.47 98.69,322.75 101.06,320.15 103.43,317.6 105.81,315.26 108.18,312.84 110.55,310.67 112.92,308.44 115.29,306.44 117.67,304.41 120.04,302.56 122.41,300.82 124.78,299.03 127.15,297.63 129.53,296.16 131.9,294.89 134.27,293.24 136.64,292.05 139.01,290.81 141.39,289.71 143.76,288.72 146.13,287.71 148.5,286.63 150.87,285.6 153.25,284.97 155.62,283.77 157.99,282.91 160.36,281.94 162.73,281.08 165.11,280 167.48,279.35 169.85,278.71 172.22,277.84 174.59,277.27 176.97,276.5 179.34,275.72 181.71,275.27 184.08,275 186.45,274.38 188.83,273.95 191.2,273.66 193.57,273.13 195.94,272.55 198.31,272.55 200.69,271.91 203.06,271.31 205.43,271.07 207.8,270.51 210.17,270.21 212.55,270.16 214.92,270.05 217.29,269.56 219.66,269.45 222.03,269.39 224.41,269.21 226.78,269.02 229.15,268.6 231.52,268.42 233.89,268.27 236.27,267.98 238.64,267.77 241.01,267.71 243.38,267.48 245.75,267.37 248.13,267.49 250.5,267.36 252.87,267.06 255.24,267.2 257.61,266.94 259.99,266.81 262.36,266.76 264.73,266.87 267.1,266.5 269.47,266.3 271.85,266.31 274.22,266.01 276.59,266.11 278.96,265.81 281.33,265.42 283.71,265.08 286.08,265.05 288.45,264.77" fill="none" stroke="#0000ff" stroke-width="0.6"/>
<path d="M49.9 384.82a1.35 1.35 0 1 0 2.7 0a1.35 1.35 0 1 0 -2.7 0M52.27 381.58a1.35 1.35 0 1 0 2.7 0a1.35 1.35 0 1 0 -2.7 0M54.64 378.33a1.35 1.35 0 1 0 2.7 0a1.35 1.35 0 1 0 -2.7 0M57.02 375.09a1.35 1.35 0 1 0 2.7 0a1.35 1.35 0 1 0 -2.7 0M59.39 371.92a1.35 1.35 0 1 0 2.7 0a1.35 1.35 0 1 0 -2.7 0M61.76 368.8a1.35 1.35 0 1 0 2.7 0a1.35 1.35 0 1 0 -2.7 0M64.13 365.76a1.35 1.35 0 1 0 2.7 0a1.35 1.35 0 1 0 -2.7 0M66.5 362.74a1.35 1.35 0 1 0 2.7 0a1.35 1.35 0 1 0 -2.7 0M68.88 359.65a1.35 1.35 0 1 0 2.7 0a1.35 1.35 0 1 0 -2.7 0M71.25 356.58a1.35 1.35 0 1 0 2.7 0a1.35 1.35 0 1 0 -2.7 0M73.62 353.49a1.35 1.35 0 1 0 2.7 0a1.35 1.35 0 1 0 -2.7 0M75.99 350.28a1.35 1.35 0 1 0 2.7 0a1.35 1.35 0 1 0 -2.7 0M78.36 347.07a1.35 1.35 0 1 0 2.7 0a1.35 1.35 0 1 0 -2.7 0M80.74 343.92a1.35 1.35 0 1 0 2.7 0a1.35 1.35 0 1 0 -2.7 0M83.11 340.77a1.35 1.35 0 1 0 2.7 0a1.35 1.35 0 1 0 -2.7 0M85.48 337.64a1.35 1.35 0 1 0 2.7 0a1.35 1.35 0 1 0 -2.7 0M87.85 334.63a1.35 1.35 0 1 0 2.7 0a1.35 1.35 0 1 0 -2.7 0M90.22 331.45a1.35 1.35 0 1 0 2.7 0a1.35 1.35 0 1 0 -2.7 0M92.6 328.36a1.35 1.35 0 1 0 2.7 0a1.35 1.35 0 1 0 -2.7 0M94.97 325.47a1.35 1.35 0 1 0 2.7 0a1.35 1.35 0 1 0 -2.7 0M97.34 322.75a1.35 1.35 0 1 0 2.7 0a1.35 1.35 0 1 0 -2.7 0M99.71 320.15a1.35 1.35 0 1 0 2.7 0a1.35 1.35 0 1 0 -2.7 0M102.08 317.6a1.35 1.35 0 1 0 2.7 0a1.35 1.35 0 1 0 -2.7 0M104.46 315.26a1.35 1.35 0 1 0 2.7 0a1.35 1.35 0 1 0 -2.7 0M106.83 312.84a1.35 1.35 0 1 0 2.7 0a1.35 1.35 0 1 0 -2.7 0M109.2 310.67a1.35 1.35 0 1 0 2.7 0a1.35 1.35 0 1 0 -2.7 0M111.57 308.44a1.35 1.35 0 1 0 2.7 0a1.35 1.35 0 1 0 -2.7 0M113.94 306.44a1.35 1.35 0 1 0 2.7 0a1.35 1.35 0 1 0 -2.7 0M116.32 304.41a1.35 1.35 0 1 0 2.7 0a1.35 1.35 0 1 0 -2.7 0M118.69 302.56a1.35 1.35 0 1 0 2.7 0a1.35 1.35 0 1 0 -2.7 0M121.06 300.82a1.35 1.35 0 1 0 2.7 0a1.35 1.35 0 1 0 -2.7 0M123.43 299.03a1.35 1.35 0 1 0 2.7 0a1.35 1.35 0 1 0 -2.7 0M125.8 297.63a1.35 1.35 0 1 0 2.7 0a1.35 1.35 0 1 0 -2.7 0M128.18 296.16a1.35 1.35 0 1 0 2.7 0a1.35 1.35 0 1 0 -2.7 0M130.55 294.89a1.35 1.35 0 1 0 2.7 0a1.35 1.35 0 1 0 -2.7 0M132.92 293.24a1.35 1.35 0 1 0 2.7 0a1.35 1.35 0 1 0 -2.7 0M135.29 292.05a1.35 1.35 0 1 0 2.7 0a1.35 1.35 0 1 0 -2.7 0M137.66 290.81a1.35 1.35 0 1 0 2.7 0a1.35 1.35 0 1 0 -2.7 0M140.04 289.71a1.35 1.35 0 1 0 2.7 0a1.35 1.35 0 1 0 -2.7 0M142.41 288.72a1.35 1.35 0 1 0 2.7 0a1.35 1.35 0 1 0 -2.7 0M144.78 287.71a1.35 1.35 0 1 0 2.7 0a1.35 1.35 0 1 0 -2.7 0M147.15 286.63a1.35 1.35 0 1 0 2.7 0a1.35 1.35 0 1 0 -2.7 0M149.52 285.6a1.35 1.35 0 1 0 2.7 0a1.35 1.35 0 1 0 -2.7 0M151.9 284.97a1.35 1.35 0 1 0 2.7 0a1.35 1.35 0 1 0 -2.7 0M154.27 283.77a1.35 1.35 0 1 0 2.7 0a1.35 1.35 0 1 0 -2.7 0M156.64 282.91a1.35 1.35 0 1 0 2.7 0a1.35 1.35 0 1 0 -2.7 0M159.01 281.94a1.35 1.35 0 1 0 2.7 0a1.35 1.35 0 1 0 -2.7 0M161.38 281.08a1.35 1.35 0 1 0 2.7 0a1.35 1.35 0 1 0 -2.7 0M163.76 280a1.35 1.35 0 1 0 2.7 0a1.35 1.35 0 1 0 -2.7 0M166.13 279.35a1.35 1.35 0 1 0 2.7 0a1.35 1.35 0 1 0 -2.7 0M168.5 278.71a1.35 1.35 0 1 0 2.7 0a1.35 1.35 0 1 0 -2.7 0M170.87 277.84a1.35 1.35 0 1 0 2.7 0a1.35 1.35 0 1 0 -2.7 0M173.24 277.27a1.35 1.35 0 1 0 2.7 0a1.35 1.35 0 1 0 -2.7 0M175.62 276.5a1.35 1.35 0 1 0 2.7 0a1.35 1.35 0 1 0 -2.7 0M177.99 275.72a1.35 1.35 0 1 0 2.7 0a1.35 1.35 0 1 0 -2.7 0M180.36 275.27a1.35 1.35 0 1 0 2.7 0a1.35 1.35 0 1 0 -2.7 0M182.73 275a1.35 1.35 0 1 0 2.7 0a1.35 1.35 0 1 0 -2.7 0M185.1 274.38a1.35 1.35 0 1 0 2.7 0a1.35 1.35 0 1 0 -2.7 0M187.48 273.95a1.35 1.35 0 1 0 2.7 0a1.35 1.35 0 1 0 -2.7 0M189.85 273.66a1.35 1.35 0 1 0 2.7 0a1.35 1.35 0 1 0 -2.7 0M192.22 273.13a1.35 1.35 0 1 0 2.7 0a1.35 1.35 0 1 0 -2.7 0M194.59 272.55a1.35 1.35 0 1 0 2.7 0a1.35 1.35 0 1 0 -2.7 0M196.96 272.55a1.35 1.35 0 1 0 2.7 0a1.35 1.35 0 1 0 -2.7 0M199.34 271.91a1.35 1.35 0 1 0 2.7 0a1.35 1.35 0 1 0 -2.7 0M201.71 271.31a1.35 1.35 0 1 0 2.7 0a1.35 1.35 0 1 0 -2.7 0M204.08 271.07a1.35 1.35 0 1 0 2.7 0a1.35 1.35 0 1 0 -2.7 0M206.45 270.51a1.35 1.35 0 1 0 2.7 0a1.35 1.35 0 1 0 -2.7 0M208.82 270.21a1.35 1.35 0 1 0 2.7 0a1.35 1.35 0 1 0 -2.7 0M211.2 270.16a1.35 1.35 0 1 0 2.7 0a1.35 1.35 0 1 0 -2.7 0M213.57 270.05a1.35 1.35 0 1 0 2.7 0a1.35 1.35 0 1 0 -2.7 0M215.94 269.56a1.35 1.35 0 1 0 2.7 0a1.35 1.35 0 1 0 -2.7 0M218.31 269.45a1.35 1.35 0 1 0 2.7 0a1.35 1.35 0 1 0 -2.7 0M220.68 269.39a1.35 1.35 0 1 0 2.7 0a1.35 1.35 0 1 0 -2.7 0M223.06 269.21a1.35 1.35 0 1 0 2.7 0a1.35 1.35 0 1 0 -2.7 0M225.43 269.02a1.35 1.35 0 1 0 2.7 0a1.35 1.35 0 1 0 -2.7 0M227.8 268.6a1.35 1.35 0 1 0 2.7 0a1.35 1.35 0 1 0 -2.7 0M230.17 268.42a1.35 1.35 0 1 0 2.7 0a1.35 1.35 0 1 0 -2.7 0M232.54 268.27a1.35 1.35 0 1 0 2.7 0a1.35 1.35 0 1 0 -2.7 0M234.92 267.98a1.35 1.35 0 1 0 2.7 0a1.35 1.35 0 1 0 -2.7 0M237.29 267.77a1.35 1.35 0 1 0 2.7 0a1.35 1.35 0 1 0 -2.7 0M239.66 267.71a1.35 1.35 0 1 0 2.7 0a1.35 1.35 0 1 0 -2.7 0M242.03 267.48a1.35 1.35 0 1 0 2.7 0a1.35 1.35 0 1 0 -2.7 0M244.4 267.37a1.35 1.35 0 1 0 2.7 0a1.35 1.35 0 1 0 -2.7 0M246.78 267.49a1.35 1.35 0 1 0 2.7 0a1.35 1.35 0 1 0 -2.7 0M249.15 267.36a1.35 1.35 0 1 0 2.7 0a1.35 1.35 0 1 0 -2.7 0M251.52 267.06a1.35 1.35 0 1 0 2.7 0a1.35 1.35 0 1 0 -2.7 0M253.89 267.2a1.35 1.35 0 1 0 2.7 0a1.35 1.35 0 1 0 -2.7 0M256.26 266.94a1.35 1.35 0 1 0 2.7 0a1.35 1.35 0 1 0 -2.7 0M258.64 266.81a1.35 1.35 0 1 0 2.7 0a1.35 1.35 0 1 0 -2.7 0M261.01 266.76a1.35 1.35 0 1 0 2.7 0a1.35 1.35 0 1 0 -2.7 0M263.38 266.87a1.35 1.35 0 1 0 2.7 0a1.35 1.35 0 1 0 -2.7 0M265.75 266.5a1.35 1.35 0 1 0 2.7 0a1.35 1.35 0 1 0 -2.7 0M268.12 266.3a1.35 1.35 0 1 0 2.7 0a1.35 1.35 0 1 0 -2.7 0M270.5 266.31a1.35 1.35 0 1 0 2.7 0a1.35 1.35 0 1 0 -2.7 0M272.87 266.01a1.35 1.35 0 1 0 2.7 0a1.35 1.35 0 1 0 -2.7 0M275.24 266.11a1.35 1.35 0 1 0 2.7 0a1.35 1.35 0 1 0 -2.7 0M277.61 265.81a1.35 1.35 0 1 0 2.7 0a1.35 1.35 0 1 0 -2.7 0M279.98 265.42a1.35 1.35 0 1 0 2.7 0a1.35 1.35 0 1 0 -2.7 0M282.36 265.08a1.35 1.35 0 1 0 2.7 0a1.35 1.35 0 1 0 -2.7 0M284.73 265.05a1.35 1.35 0 1 0 2.7 0a1.35 1.35 0 1 0 -2.7 0M287.1 264.77a1.35 1.35 0 1 0 2.7 0a1.35 1.35 0 1 0 -2.7 0" fill="#0000ff"/>
<polyline points="51.25,384.82 53.62,381.57 55.99,378.32 58.37,375.1 60.74,371.93 63.11,368.86 65.48,365.84 67.85,362.85 70.23,359.83 72.6,356.76 74.97,353.63 77.34,350.41 79.71,347.16 82.09,343.93 84.46,340.76 86.83,337.65 89.2,334.56 91.57,331.5 93.95,328.49 96.32,325.58 98.69,322.8 101.06,320.14 103.43,317.61 105.81,315.18 108.18,312.86 110.55,310.62 112.92,308.47 115.29,306.41 117.67,304.43 120.04,302.53 122.41,300.71 124.78,298.99 127.15,297.37 129.53,295.84 131.9,294.4 134.27,293.03 136.64,291.73 139.01,290.49 141.39,289.32 143.76,288.19 146.13,287.11 148.5,286.05 150.87,285.03 153.25,284.02 155.62,283.05 157.99,282.11 160.36,281.21 162.73,280.34 165.11,279.5 167.48,278.7 169.85,277.94 172.22,277.21 174.59,276.51 176.97,275.84 179.34,275.21 181.71,274.6 184.08,274.02 186.45,273.47 188.83,272.93 191.2,272.42 193.57,271.93 195.94,271.46 198.31,271.02 200.69,270.6 203.06,270.21 205.43,269.84 207.8,269.5 210.17,269.19 212.55,268.92 214.92,268.68 217.29,268.48 219.66,268.31 222.03,268.14 224.41,267.98 226.78,267.82 229.15,267.64 231.52,267.45 233.89,267.26 236.27,267.06 238.64,266.88 241.01,266.7 243.38,266.52 245.75,266.35 248.13,266.19 250.5,266.02 252.87,265.86 255.24,265.71 257.61,265.56 259.99,265.4 262.36,265.25 264.73,265.1 267.1,264.95 269.47,264.8 271.85,264.64 274.22,264.49 276.59,264.33 278.96,264.17 281.33,264.01 283.71,263.85 286.08,263.7 288.45,263.57" fill="none" stroke="#ff00ff" stroke-width="0.6"/>
<path d="M50.2 384.82a1.05 1.05 0 1 0 2.1 0a1.05 1.05 0 1 0 -2.1 0M52.57 381.57a1.05 1.05 0 1 0 2.1 0a1.05 1.05 0 1 0 -2.1 0M54.94 378.32a1.05 1.05 0 1 0 2.1 0a1.05 1.05 0 1 0 -2.1 0M57.32 375.1a1.05 1.05 0 1 0 2.1 0a1.05 1.05 0 1 0 -2.1 0M59.69 371.93a1.05 1.05 0 1 0 2.1 0a1.05 1.05 0 1 0 -2.1 0M62.06 368.86a1.05 1.05 0 1 0 2.1 0a1.05 1.05 0 1 0 -2.1 0M64.43 365.84a1.05 1.05 0 1 0 2.1 0a1.05 1.05 0 1 0 -2.1 0M66.8 362.85a1.05 1.05 0 1 0 2.1 0a1.05 1.05 0 1 0 -2.1 0M69.18 359.83a1.05 1.05 0 1 0 2.1 0a1.05 1.05 0 1 0 -2.1 0M71.55 356.76a1.05 1.05 0 1 0 2.1 0a1.05 1.05 0 1 0 -2.1 0M73.92 353.63a1.05 1.05 0 1 0 2.1 0a1.05 1.05 0 1 0 -2.1 0M76.29 350.41a1.05 1.05 0 1 0 2.1 0a1.05 1.05 0 1 0 -2.1 0M78.66 347.16a1.05 1.05 0 1 0 2.1 0a1.05 1.05 0 1 0 -2.1 0M81.04 343.93a1.05 1.05 0 1 0 2.1 0a1.05 1.05 0 1 0 -2.1 0M83.41 340.76a1.05 1.05 0 1 0 2.1 0a1.05 1.05 0 1 0 -2.1 0M85.78 337.65a1.05 1.05 0 1 0 2.1 0a1.05 1.05 0 1 0 -2.1 0M88.15 334.56a1.05 1.05 0 1 0 2.1 0a1.05 1.05 0 1 0 -2.1 0M90.52 331.5a1.05 1.05 0 1 0 2.1 0a1.05 1.05 0 1 0 -2.1 0M92.9 328.49a1.05 1.05 0 1 0 2.1 0a1.05 1.05 0 1 0 -2.1 0M95.27 325.58a1.05 1.05 0 1 0 2.1 0a1.05 1.05 0 1 0 -2.1 0M97.64 322.8a1.05 1.05 0 1 0 2.1 0a1.05 1.05 0 1 0 -2.1 0M100.01 320.14a1.05 1.05 0 1 0 2.1 0a1.05 1.05 0 1 0 -2.1 0M102.38 317.61a1.05 1.05 0 1 0 2.1 0a1.05 1.05 0 1 0 -2.1 0M104.76 315.18a1.05 1.05 0 1 0 2.1 0a1.05 1.05 0 1 0 -2.1 0M107.13 312.86a1.05 1.05 0 1 0 2.1 0a1.05 1.05 0 1 0 -2.1 0M109.5 310.62a1.05 1.05 0 1 0 2.1 0a1.05 1.05 0 1 0 -2.1 0M111.87 308.47a1.05 1.05 0 1 0 2.1 0a1.05 1.05 0 1 0 -2.1 0M114.24 306.41a1.05 1.05 0 1 0 2.1 0a1.05 1.05 0 1 0 -2.1 0M116.62 304.43a1.05 1.05 0 1 0 2.1 0a1.05 1.05 0 1 0 -2.1 0M118.99 302.53a1.05 1.05 0 1 0 2.1 0a1.05 1.05 0 1 0 -2.1 0M121.36 300.71a1.05 1.05 0 1 0 2.1 0a1.05 1.05 0 1 0 -2.1 0M123.73 298.99a1.05 1.05 0 1 0 2.1 0a1.05 1.05 0 1 0 -2.1 0M126.1 297.37a1.05 1.05 0 1 0 2.1 0a1.05 1.05 0 1 0 -2.1 0M128.48 295.84a1.05 1.05 0 1 0 2.1 0a1.05 1.05 0 1 0 -2.1 0M130.85 294.4a1.05 1.05 0 1 0 2.1 0a1.05 1.05 0 1 0 -2.1 0M133.22 293.03a1.05 1.05 0 1 0 2.1 0a1.05 1.05 0 1 0 -2.1 0M135.59 291.73a1.05 1.05 0 1 0 2.1 0a1.05 1.05 0 1 0 -2.1 0M137.96 290.49a1.05 1.05 0 1 0 2.1 0a1.05 1.05 0 1 0 -2.1 0M140.34 289.32a1.05 1.05 0 1 0 2.1 0a1.05 1.05 0 1 0 -2.1 0M142.71 288.19a1.05 1.05 0 1 0 2.1 0a1.05 1.05 0 1 0 -2.1 0M145.08 287.11a1.05 1.05 0 1 0 2.1 0a1.05 1.05 0 1 0 -2.1 0M147.45 286.05a1.05 1.05 0 1 0 2.1 0a1.05 1.05 0 1 0 -2.1 0M149.82 285.03a1.05 1.05 0 1 0 2.1 0a1.05 1.05 0 1 0 -2.1 0M152.2 284.02a1.05 1.05 0 1 0 2.1 0a1.05 1.05 0 1 0 -2.1 0M154.57 283.05a1.05 1.05 0 1 0 2.1 0a1.05 1.05 0 1 0 -2.1 0M156.94 282.11a1.05 1.05 0 1 0 2.1 0a1.05 1.05 0 1 0 -2.1 0M159.31 281.21a1.05 1.05 0 1 0 2.1 0a1.05 1.05 0 1 0 -2.1 0M161.68 280.34a1.05 1.05 0 1 0 2.1 0a1.05 1.05 0 1 0 -2.1 0M164.06 279.5a1.05 1.05 0 1 0 2.1 0a1.05 1.05 0 1 0 -2.1 0M166.43 278.7a1.05 1.05 0 1 0 2.1 0a1.05 1.05 0 1 0 -2.1 0M168.8 277.94a1.05 1.05 0 1 0 2.1 0a1.05 1.05 0 1 0 -2.1 0M171.17 277.21a1.05 1.05 0 1 0 2.1 0a1.05 1.05 0 1 0 -2.1 0M173.54 276.51a1.05 1.05 0 1 0 2.1 0a1.05 1.05 0 1 0 -2.1 0M175.92 275.84a1.05 1.05 0 1 0 2.1 0a1.05 1.05 0 1 0 -2.1 0M178.29 275.21a1.05 1.05 0 1 0 2.1 0a1.05 1.05 0 1 0 -2.1 0M180.66 274.6a1.05 1.05 0 1 0 2.1 0a1.05 1.05 0 1 0 -2.1 0M183.03 274.02a1.05 1.05 0 1 0 2.1 0a1.05 1.05 0 1 0 -2.1 0M185.4 273.47a1.05 1.05 0 1 0 2.1 0a1.05 1.05 0 1 0 -2.1 0M187.78 272.93a1.05 1.05 0 1 0 2.1 0a1.05 1.05 0 1 0 -2.1 0M190.15 272.42a1.05 1.05 0 1 0 2.1 0a1.05 1.05 0 1 0 -2.1 0M192.52 271.93a1.05 1.05 0 1 0 2.1 0a1.05 1.05 0 1 0 -2.1 0M194.89 271.46a1.05 1.05 0 1 0 2.1 0a1.05 1.05 0 1 0 -2.1 0M197.26 271.02a1.05 1.05 0 1 0 2.1 0a1.05 1.05 0 1 0 -2.1 0M199.64 270.6a1.05 1.05 0 1 0 2.1 0a1.05 1.05 0 1 0 -2.1 0M202.01 270.21a1.05 1.05 0 1 0 2.1 0a1.05 1.05 0 1 0 -2.1 0M204.38 269.84a1.05 1.05 0 1 0 2.1 0a1.05 1.05 0 1 0 -2.1 0M206.75 269.5a1.05 1.05 0 1 0 2.1 0a1.05 1.05 0 1 0 -2.1 0M209.12 269.19a1.05 1.05 0 1 0 2.1 0a1.05 1.05 0 1 0 -2.1 0M211.5 268.92a1.05 1.05 0 1 0 2.1 0a1.05 1.05 0 1 0 -2.1 0M213.87 268.68a1.05 1.05 0 1 0 2.1 0a1.05 1.05 0 1 0 -2.1 0M216.24 268.48a1.05 1.05 0 1 0 2.1 0a1.05 1.05 0 1 0 -2.1 0M218.61 268.31a1.05 1.05 0 1 0 2.1 0a1.05 1.05 0 1 0 -2.1 0M220.98 268.14a1.05 1.05 0 1 0 2.1 0a1.05 1.05 0 1 0 -2.1 0M223.36 267.98a1.05 1.05 0 1 0 2.1 0a1.05 1.05 0 1 0 -2.1 0M225.73 267.82a1.05 1.05 0 1 0 2.1 0a1.05 1.05 0 1 0 -2.1 0M228.1 267.64a1.05 1.05 0 1 0 2.1 0a1.05 1.05 0 1 0 -2.1 0M230.47 267.45a1.05 1.05 0 1 0 2.1 0a1.05 1.05 0 1 0 -2.1 0M232.84 267.26a1.05 1.05 0 1 0 2.1 0a1.05 1.05 0 1 0 -2.1 0M235.22 267.06a1.05 1.05 0 1 0 2.1 0a1.05 1.05 0 1 0 -2.1 0M237.59 266.88a1.05 1.05 0 1 0 2.1 0a1.05 1.05 0 1 0 -2.1 0M239.96 266.7a1.05 1.05 0 1 0 2.1 0a1.05 1.05 0 1 0 -2.1 0M242.33 266.52a1.05 1.05 0 1 0 2.1 0a1.05 1.05 0 1 0 -2.1 0M244.7 266.35a1.05 1.05 0 1 0 2.1 0a1.05 1.05 0 1 0 -2.1 0M247.08 266.19a1.05 1.05 0 1 0 2.1 0a1.05 1.05 0 1 0 -2.1 0M249.45 266.02a1.05 1.05 0 1 0 2.1 0a1.05 1.05 0 1 0 -2.1 0M251.82 265.86a1.05 1.05 0 1 0 2.1 0a1.05 1.05 0 1 0 -2.1 0M254.19 265.71a1.05 1.05 0 1 0 2.1 0a1.05 1.05 0 1 0 -2.1 0M256.56 265.56a1.05 1.05 0 1 0 2.1 0a1.05 1.05 0 1 0 -2.1 0M258.94 265.4a1.05 1.05 0 1 0 2.1 0a1.05 1.05 0 1 0 -2.1 0M261.31 265.25a1.05 1.05 0 1 0 2.1 0a1.05 1.05 0 1 0 -2.1 0M263.68 265.1a1.05 1.05 0 1 0 2.1 0a1.05 1.05 0 1 0 -2.1 0M266.05 264.95a1.05 1.05 0 1 0 2.1 0a1.05 1.05 0 1 0 -2.1 0M268.42 264.8a1.05 1.05 0 1 0 2.1 0a1.05 1.05 0 1 0 -2.1 0M270.8 264.64a1.05 1.05 0 1 0 2.1 0a1.05 1.05 0 1 0 -2.1 0M273.17 264.49a1.05 1.05 0 1 0 2.1 0a1.05 1.05 0 1 0 -2.1 0M275.54 264.33a1.05 1.05 0 1 0 2.1 0a1.05 1.05 0 1 0 -2.1 0M277.91 264.17a1.05 1.05 0 1 0 2.1 0a1.05 1.05 0 1 0 -2.1 0M280.28 264.01a1.05 1.05 0 1 0 2.1 0a1.05 1.05 0 1 0 -2.1 0M282.66 263.85a1.05 1.05 0 1 0 2.1 0a1.05 1.05 0 1 0 -2.1 0M285.03 263.7a1.05 1.05 0 1 0 2.1 0a1.05 1.05 0 1 0 -2.1 0M287.4 263.57a1.05 1.05 0 1 0 2.1 0a1.05 1.05 0 1 0 -2.1 0" fill="#ff00ff"/>
<polyline points="51.25,384.82 53.62,381.58 55.99,378.27 58.37,374.89 60.74,371.49 63.11,368.06 65.48,364.56 67.85,360.92 70.23,357.1 72.6,353.09 74.97,348.92 77.34,344.64 79.71,340.3 82.09,335.96 84.46,331.67 86.83,327.44 89.2,323.29 91.57,319.24 93.95,315.3 96.32,311.5 98.69,307.86 101.06,304.41 103.43,301.14 105.81,298.08 108.18,295.23 110.55,292.57 112.92,290.05 115.29,287.64 117.67,285.34 120.04,283.17 122.41,281.14 124.78,279.27 127.15,277.53 129.53,275.91 131.9,274.4 134.27,272.99 136.64,271.67 139.01,270.45 141.39,269.32 143.76,268.28 146.13,267.32 148.5,266.42 150.87,265.6 153.25,264.83 155.62,264.12 157.99,263.45 160.36,262.84 162.73,262.26 165.11,261.71 167.48,261.2 169.85,260.72 172.22,260.26 174.59,259.83 176.97,259.41 179.34,259.01 181.71,258.63 184.08,258.26 186.45,257.89 188.83,257.54 191.2,257.2 193.57,256.87 195.94,256.54 198.31,256.23 200.69,255.93 203.06,255.64 205.43,255.36 207.8,255.09 210.17,254.83 212.55,254.58 214.92,254.33 217.29,254.09 219.66,253.86 222.03,253.65 224.41,253.45 226.78,253.26 229.15,253.1 231.52,252.95 233.89,252.82 236.27,252.69 238.64,252.58 241.01,252.46 243.38,252.36 245.75,252.26 248.13,252.16 250.5,252.07 252.87,251.99 255.24,251.92 257.61,251.85 259.99,251.79 262.36,251.73 264.73,251.69 267.1,251.65 269.47,251.62 271.85,251.6 274.22,251.59 276.59,251.59 278.96,251.59 281.33,251.6 283.71,251.62 286.08,251.63 288.45,251.63" fill="none" stroke="#000000" stroke-width="0.6"/>
<path d="M49.95 384.82a1.3 1.3 0 1 0 2.6 0a1.3 1.3 0 1 0 -2.6 0M52.32 381.58a1.3 1.3 0 1 0 2.6 0a1.3 1.3 0 1 0 -2.6 0M54.69 378.27a1.3 1.3 0 1 0 2.6 0a1.3 1.3 0 1 0 -2.6 0M57.07 374.89a1.3 1.3 0 1 0 2.6 0a1.3 1.3 0 1 0 -2.6 0M59.44 371.49a1.3 1.3 0 1 0 2.6 0a1.3 1.3 0 1 0 -2.6 0M61.81 368.06a1.3 1.3 0 1 0 2.6 0a1.3 1.3 0 1 0 -2.6 0M64.18 364.56a1.3 1.3 0 1 0 2.6 0a1.3 1.3 0 1 0 -2.6 0M66.55 360.92a1.3 1.3 0 1 0 2.6 0a1.3 1.3 0 1 0 -2.6 0M68.93 357.1a1.3 1.3 0 1 0 2.6 0a1.3 1.3 0 1 0 -2.6 0M71.3 353.09a1.3 1.3 0 1 0 2.6 0a1.3 1.3 0 1 0 -2.6 0M73.67 348.92a1.3 1.3 0 1 0 2.6 0a1.3 1.3 0 1 0 -2.6 0M76.04 344.64a1.3 1.3 0 1 0 2.6 0a1.3 1.3 0 1 0 -2.6 0M78.41 340.3a1.3 1.3 0 1 0 2.6 0a1.3 1.3 0 1 0 -2.6 0M80.79 335.96a1.3 1.3 0 1 0 2.6 0a1.3 1.3 0 1 0 -2.6 0M83.16 331.67a1.3 1.3 0 1 0 2.6 0a1.3 1.3 0 1 0 -2.6 0M85.53 327.44a1.3 1.3 0 1 0 2.6 0a1.3 1.3 0 1 0 -2.6 0M87.9 323.29a1.3 1.3 0 1 0 2.6 0a1.3 1.3 0 1 0 -2.6 0M90.27 319.24a1.3 1.3 0 1 0 2.6 0a1.3 1.3 0 1 0 -2.6 0M92.65 315.3a1.3 1.3 0 1 0 2.6 0a1.3 1.3 0 1 0 -2.6 0M95.02 311.5a1.3 1.3 0 1 0 2.6 0a1.3 1.3 0 1 0 -2.6 0M97.39 307.86a1.3 1.3 0 1 0 2.6 0a1.3 1.3 0 1 0 -2.6 0M99.76 304.41a1.3 1.3 0 1 0 2.6 0a1.3 1.3 0 1 0 -2.6 0M102.13 301.14a1.3 1.3 0 1 0 2.6 0a1.3 1.3 0 1 0 -2.6 0M104.51 298.08a1.3 1.3 0 1 0 2.6 0a1.3 1.3 0 1 0 -2.6 0M106.88 295.23a1.3 1.3 0 1 0 2.6 0a1.3 1.3 0 1 0 -2.6 0M109.25 292.57a1.3 1.3 0 1 0 2.6 0a1.3 1.3 0 1 0 -2.6 0M111.62 290.05a1.3 1.3 0 1 0 2.6 0a1.3 1.3 0 1 0 -2.6 0M113.99 287.64a1.3 1.3 0 1 0 2.6 0a1.3 1.3 0 1 0 -2.6 0M116.37 285.34a1.3 1.3 0 1 0 2.6 0a1.3 1.3 0 1 0 -2.6 0M118.74 283.17a1.3 1.3 0 1 0 2.6 0a1.3 1.3 0 1 0 -2.6 0M121.11 281.14a1.3 1.3 0 1 0 2.6 0a1.3 1.3 0 1 0 -2.6 0M123.48 279.27a1.3 1.3 0 1 0 2.6 0a1.3 1.3 0 1 0 -2.6 0M125.85 277.53a1.3 1.3 0 1 0 2.6 0a1.3 1.3 0 1 0 -2.6 0M128.23 275.91a1.3 1.3 0 1 0 2.6 0a1.3 1.3 0 1 0 -2.6 0M130.6 274.4a1.3 1.3 0 1 0 2.6 0a1.3 1.3 0 1 0 -2.6 0M132.97 272.99a1.3 1.3 0 1 0 2.6 0a1.3 1.3 0 1 0 -2.6 0M135.34 271.67a1.3 1.3 0 1 0 2.6 0a1.3 1.3 0 1 0 -2.6 0M137.71 270.45a1.3 1.3 0 1 0 2.6 0a1.3 1.3 0 1 0 -2.6 0M140.09 269.32a1.3 1.3 0 1 0 2.6 0a1.3 1.3 0 1 0 -2.6 0M142.46 268.28a1.3 1.3 0 1 0 2.6 0a1.3 1.3 0 1 0 -2.6 0M144.83 267.32a1.3 1.3 0 1 0 2.6 0a1.3 1.3 0 1 0 -2.6 0M147.2 266.42a1.3 1.3 0 1 0 2.6 0a1.3 1.3 0 1 0 -2.6 0M149.57 265.6a1.3 1.3 0 1 0 2.6 0a1.3 1.3 0 1 0 -2.6 0M151.95 264.83a1.3 1.3 0 1 0 2.6 0a1.3 1.3 0 1 0 -2.6 0M154.32 264.12a1.3 1.3 0 1 0 2.6 0a1.3 1.3 0 1 0 -2.6 0M156.69 263.45a1.3 1.3 0 1 0 2.6 0a1.3 1.3 0 1 0 -2.6 0M159.06 262.84a1.3 1.3 0 1 0 2.6 0a1.3 1.3 0 1 0 -2.6 0M161.43 262.26a1.3 1.3 0 1 0 2.6 0a1.3 1.3 0 1 0 -2.6 0M163.81 261.71a1.3 1.3 0 1 0 2.6 0a1.3 1.3 0 1 0 -2.6 0M166.18 261.2a1.3 1.3 0 1 0 2.6 0a1.3 1.3 0 1 0 -2.6 0M168.55 260.72a1.3 1.3 0 1 0 2.6 0a1.3 1.3 0 1 0 -2.6 0M170.92 260.26a1.3 1.3 0 1 0 2.6 0a1.3 1.3 0 1 0 -2.6 0M173.29 259.83a1.3 1.3 0 1 0 2.6 0a1.3 1.3 0 1 0 -2.6 0M175.67 259.41a1.3 1.3 0 1 0 2.6 0a1.3 1.3 0 1 0 -2.6 0M178.04 259.01a1.3 1.3 0 1 0 2.6 0a1.3 1.3 0 1 0 -2.6 0M180.41 258.63a1.3 1.3 0 1 0 2.6 0a1.3 1.3 0 1 0 -2.6 0M182.78 258.26a1.3 1.3 0 1 0 2.6 0a1.3 1.3 0 1 0 -2.6 0M185.15 257.89a1.3 1.3 0 1 0 2.6 0a1.3 1.3 0 1 0 -2.6 0M187.53 257.54a1.3 1.3 0 1 0 2.6 0a1.3 1.3 0 1 0 -2.6 0M189.9 257.2a1.3 1.3 0 1 0 2.6 0a1.3 1.3 0 1 0 -2.6 0M192.27 256.87a1.3 1.3 0 1 0 2.6 0a1.3 1.3 0 1 0 -2.6 0M194.64 256.54a1.3 1.3 0 1 0 2.6 0a1.3 1.3 0 1 0 -2.6 0M197.01 256.23a1.3 1.3 0 1 0 2.6 0a1.3 1.3 0 1 0 -2.6 0M199.39 255.93a1.3 1.3 0 1 0 2.6 0a1.3 1.3 0 1 0 -2.6 0M201.76 255.64a1.3 1.3 0 1 0 2.6 0a1.3 1.3 0 1 0 -2.6 0M204.13 255.36a1.3 1.3 0 1 0 2.6 0a1.3 1.3 0 1 0 -2.6 0M206.5 255.09a1.3 1.3 0 1 0 2.6 0a1.3 1.3 0 1 0 -2.6 0M208.87 254.83a1.3 1.3 0 1 0 2.6 0a1.3 1.3 0 1 0 -2.6 0M211.25 254.58a1.3 1.3 0 1 0 2.6 0a1.3 1.3 0 1 0 -2.6 0M213.62 254.33a1.3 1.3 0 1 0 2.6 0a1.3 1.3 0 1 0 -2.6 0M215.99 254.09a1.3 1.3 0 1 0 2.6 0a1.3 1.3 0 1 0 -2.6 0M218.36 253.86a1.3 1.3 0 1 0 2.6 0a1.3 1.3 0 1 0 -2.6 0M220.73 253.65a1.3 1.3 0 1 0 2.6 0a1.3 1.3 0 1 0 -2.6 0M223.11 253.45a1.3 1.3 0 1 0 2.6 0a1.3 1.3 0 1 0 -2.6 0M225.48 253.26a1.3 1.3 0 1 0 2.6 0a1.3 1.3 0 1 0 -2.6 0M227.85 253.1a1.3 1.3 0 1 0 2.6 0a1.3 1.3 0 1 0 -2.6 0M230.22 252.95a1.3 1.3 0 1 0 2.6 0a1.3 1.3 0 1 0 -2.6 0M232.59 252.82a1.3 1.3 0 1 0 2.6 0a1.3 1.3 0 1 0 -2.6 0M234.97 252.69a1.3 1.3 0 1 0 2.6 0a1.3 1.3 0 1 0 -2.6 0M237.34 252.58a1.3 1.3 0 1 0 2.6 0a1.3 1.3 0 1 0 -2.6 0M239.71 252.46a1.3 1.3 0 1 0 2.6 0a1.3 1.3 0 1 0 -2.6 0M242.08 252.36a1.3 1.3 0 1 0 2.6 0a1.3 1.3 0 1 0 -2.6 0M244.45 252.26a1.3 1.3 0 1 0 2.6 0a1.3 1.3 0 1 0 -2.6 0M246.83 252.16a1.3 1.3 0 1 0 2.6 0a1.3 1.3 0 1 0 -2.6 0M249.2 252.07a1.3 1.3 0 1 0 2.6 0a1.3 1.3 0 1 0 -2.6 0M251.57 251.99a1.3 1.3 0 1 0 2.6 0a1.3 1.3 0 1 0 -2.6 0M253.94 251.92a1.3 1.3 0 1 0 2.6 0a1.3 1.3 0 1 0 -2.6 0M256.31 251.85a1.3 1.3 0 1 0 2.6 0a1.3 1.3 0 1 0 -2.6 0M258.69 251.79a1.3 1.3 0 1 0 2.6 0a1.3 1.3 0 1 0 -2.6 0M261.06 251.73a1.3 1.3 0 1 0 2.6 0a1.3 1.3 0 1 0 -2.6 0M263.43 251.69a1.3 1.3 0 1 0 2.6 0a1.3 1.3 0 1 0 -2.6 0M265.8 251.65a1.3 1.3 0 1 0 2.6 0a1.3 1.3 0 1 0 -2.6 0M268.17 251.62a1.3 1.3 0 1 0 2.6 0a1.3 1.3 0 1 0 -2.6 0M270.55 251.6a1.3 1.3 0 1 0 2.6 0a1.3 1.3 0 1 0 -2.6 0M272.92 251.59a1.3 1.3 0 1 0 2.6 0a1.3 1.3 0 1 0 -2.6 0M275.29 251.59a1.3 1.3 0 1 0 2.6 0a1.3 1.3 0 1 0 -2.6 0M277.66 251.59a1.3 1.3 0 1 0 2.6 0a1.3 1.3 0 1 0 -2.6 0M280.03 251.6a1.3 1.3 0 1 0 2.6 0a1.3 1.3 0 1 0 -2.6 0M282.41 251.62a1.3 1.3 0 1 0 2.6 0a1.3 1.3 0 1 0 -2.6 0M284.78 251.63a1.3 1.3 0 1 0 2.6 0a1.3 1.3 0 1 0 -2.6 0M287.15 251.63a1.3 1.3 0 1 0 2.6 0a1.3 1.3 0 1 0 -2.6 0" fill="#000000"/>
<polyline points="51.25,384.82 53.62,381.35 55.99,377.69 58.37,373.86 60.74,369.92 63.11,365.84 65.48,361.55 67.85,356.99 70.23,352.19 72.6,347.18 74.97,342.08 77.34,336.98 79.71,331.95 82.09,327.03 84.46,322.24 86.83,317.6 89.2,313.11 91.57,308.8 93.95,304.68 96.32,300.75 98.69,297.05 101.06,293.56 103.43,290.32 105.81,287.35 108.18,284.65 110.55,282.2 112.92,279.99 115.29,277.96 117.67,276.08 120.04,274.32 122.41,272.68 124.78,271.14 127.15,269.72 129.53,268.4 131.9,267.17 134.27,266.04 136.64,264.96 139.01,263.93 141.39,262.96 143.76,262.05 146.13,261.23 148.5,260.5 150.87,259.84 153.25,259.24 155.62,258.69 157.99,258.19 160.36,257.72 162.73,257.29 165.11,256.89 167.48,256.52 169.85,256.17 172.22,255.84 174.59,255.53 176.97,255.22 179.34,254.93 181.71,254.65 184.08,254.36 186.45,254.08 188.83,253.81 191.2,253.54 193.57,253.27 195.94,253.01 198.31,252.77 200.69,252.54 203.06,252.32 205.43,252.13 207.8,251.95 210.17,251.79 212.55,251.65 214.92,251.52 217.29,251.39 219.66,251.27 222.03,251.16 224.41,251.05 226.78,250.95 229.15,250.85 231.52,250.75 233.89,250.66 236.27,250.57 238.64,250.49 241.01,250.41 243.38,250.33 245.75,250.26 248.13,250.2 250.5,250.13 252.87,250.07 255.24,250.02 257.61,249.97 259.99,249.92 262.36,249.88 264.73,249.84 267.1,249.8 269.47,249.77 271.85,249.74 274.22,249.71 276.59,249.69 278.96,249.66 281.33,249.65 283.71,249.63 286.08,249.6 288.45,249.56" fill="none" stroke="#ff0000" stroke-width="0.6"/>
<path d="M50 384.82a1.25 1.25 0 1 0 2.5 0a1.25 1.25 0 1 0 -2.5 0M52.37 381.35a1.25 1.25 0 1 0 2.5 0a1.25 1.25 0 1 0 -2.5 0M54.74 377.69a1.25 1.25 0 1 0 2.5 0a1.25 1.25 0 1 0 -2.5 0M57.12 373.86a1.25 1.25 0 1 0 2.5 0a1.25 1.25 0 1 0 -2.5 0M59.49 369.92a1.25 1.25 0 1 0 2.5 0a1.25 1.25 0 1 0 -2.5 0M61.86 365.84a1.25 1.25 0 1 0 2.5 0a1.25 1.25 0 1 0 -2.5 0M64.23 361.55a1.25 1.25 0 1 0 2.5 0a1.25 1.25 0 1 0 -2.5 0M66.6 356.99a1.25 1.25 0 1 0 2.5 0a1.25 1.25 0 1 0 -2.5 0M68.98 352.19a1.25 1.25 0 1 0 2.5 0a1.25 1.25 0 1 0 -2.5 0M71.35 347.18a1.25 1.25 0 1 0 2.5 0a1.25 1.25 0 1 0 -2.5 0M73.72 342.08a1.25 1.25 0 1 0 2.5 0a1.25 1.25 0 1 0 -2.5 0M76.09 336.98a1.25 1.25 0 1 0 2.5 0a1.25 1.25 0 1 0 -2.5 0M78.46 331.95a1.25 1.25 0 1 0 2.5 0a1.25 1.25 0 1 0 -2.5 0M80.84 327.03a1.25 1.25 0 1 0 2.5 0a1.25 1.25 0 1 0 -2.5 0M83.21 322.24a1.25 1.25 0 1 0 2.5 0a1.25 1.25 0 1 0 -2.5 0M85.58 317.6a1.25 1.25 0 1 0 2.5 0a1.25 1.25 0 1 0 -2.5 0M87.95 313.11a1.25 1.25 0 1 0 2.5 0a1.25 1.25 0 1 0 -2.5 0M90.32 308.8a1.25 1.25 0 1 0 2.5 0a1.25 1.25 0 1 0 -2.5 0M92.7 304.68a1.25 1.25 0 1 0 2.5 0a1.25 1.25 0 1 0 -2.5 0M95.07 300.75a1.25 1.25 0 1 0 2.5 0a1.25 1.25 0 1 0 -2.5 0M97.44 297.05a1.25 1.25 0 1 0 2.5 0a1.25 1.25 0 1 0 -2.5 0M99.81 293.56a1.25 1.25 0 1 0 2.5 0a1.25 1.25 0 1 0 -2.5 0M102.18 290.32a1.25 1.25 0 1 0 2.5 0a1.25 1.25 0 1 0 -2.5 0M104.56 287.35a1.25 1.25 0 1 0 2.5 0a1.25 1.25 0 1 0 -2.5 0M106.93 284.65a1.25 1.25 0 1 0 2.5 0a1.25 1.25 0 1 0 -2.5 0M109.3 282.2a1.25 1.25 0 1 0 2.5 0a1.25 1.25 0 1 0 -2.5 0M111.67 279.99a1.25 1.25 0 1 0 2.5 0a1.25 1.25 0 1 0 -2.5 0M114.04 277.96a1.25 1.25 0 1 0 2.5 0a1.25 1.25 0 1 0 -2.5 0M116.42 276.08a1.25 1.25 0 1 0 2.5 0a1.25 1.25 0 1 0 -2.5 0M118.79 274.32a1.25 1.25 0 1 0 2.5 0a1.25 1.25 0 1 0 -2.5 0M121.16 272.68a1.25 1.25 0 1 0 2.5 0a1.25 1.25 0 1 0 -2.5 0M123.53 271.14a1.25 1.25 0 1 0 2.5 0a1.25 1.25 0 1 0 -2.5 0M125.9 269.72a1.25 1.25 0 1 0 2.5 0a1.25 1.25 0 1 0 -2.5 0M128.28 268.4a1.25 1.25 0 1 0 2.5 0a1.25 1.25 0 1 0 -2.5 0M130.65 267.17a1.25 1.25 0 1 0 2.5 0a1.25 1.25 0 1 0 -2.5 0M133.02 266.04a1.25 1.25 0 1 0 2.5 0a1.25 1.25 0 1 0 -2.5 0M135.39 264.96a1.25 1.25 0 1 0 2.5 0a1.25 1.25 0 1 0 -2.5 0M137.76 263.93a1.25 1.25 0 1 0 2.5 0a1.25 1.25 0 1 0 -2.5 0M140.14 262.96a1.25 1.25 0 1 0 2.5 0a1.25 1.25 0 1 0 -2.5 0M142.51 262.05a1.25 1.25 0 1 0 2.5 0a1.25 1.25 0 1 0 -2.5 0M144.88 261.23a1.25 1.25 0 1 0 2.5 0a1.25 1.25 0 1 0 -2.5 0M147.25 260.5a1.25 1.25 0 1 0 2.5 0a1.25 1.25 0 1 0 -2.5 0M149.62 259.84a1.25 1.25 0 1 0 2.5 0a1.25 1.25 0 1 0 -2.5 0M152 259.24a1.25 1.25 0 1 0 2.5 0a1.25 1.25 0 1 0 -2.5 0M154.37 258.69a1.25 1.25 0 1 0 2.5 0a1.25 1.25 0 1 0 -2.5 0M156.74 258.19a1.25 1.25 0 1 0 2.5 0a1.25 1.25 0 1 0 -2.5 0M159.11 257.72a1.25 1.25 0 1 0 2.5 0a1.25 1.25 0 1 0 -2.5 0M161.48 257.29a1.25 1.25 0 1 0 2.5 0a1.25 1.25 0 1 0 -2.5 0M163.86 256.89a1.25 1.25 0 1 0 2.5 0a1.25 1.25 0 1 0 -2.5 0M166.23 256.52a1.25 1.25 0 1 0 2.5 0a1.25 1.25 0 1 0 -2.5 0M168.6 256.17a1.25 1.25 0 1 0 2.5 0a1.25 1.25 0 1 0 -2.5 0M170.97 255.84a1.25 1.25 0 1 0 2.5 0a1.25 1.25 0 1 0 -2.5 0M173.34 255.53a1.25 1.25 0 1 0 2.5 0a1.25 1.25 0 1 0 -2.5 0M175.72 255.22a1.25 1.25 0 1 0 2.5 0a1.25 1.25 0 1 0 -2.5 0M178.09 254.93a1.25 1.25 0 1 0 2.5 0a1.25 1.25 0 1 0 -2.5 0M180.46 254.65a1.25 1.25 0 1 0 2.5 0a1.25 1.25 0 1 0 -2.5 0M182.83 254.36a1.25 1.25 0 1 0 2.5 0a1.25 1.25 0 1 0 -2.5 0M185.2 254.08a1.25 1.25 0 1 0 2.5 0a1.25 1.25 0 1 0 -2.5 0M187.58 253.81a1.25 1.25 0 1 0 2.5 0a1.25 1.25 0 1 0 -2.5 0M189.95 253.54a1.25 1.25 0 1 0 2.5 0a1.25 1.25 0 1 0 -2.5 0M192.32 253.27a1.25 1.25 0 1 0 2.5 0a1.25 1.25 0 1 0 -2.5 0M194.69 253.01a1.25 1.25 0 1 0 2.5 0a1.25 1.25 0 1 0 -2.5 0M197.06 252.77a1.25 1.25 0 1 0 2.5 0a1.25 1.25 0 1 0 -2.5 0M199.44 252.54a1.25 1.25 0 1 0 2.5 0a1.25 1.25 0 1 0 -2.5 0M201.81 252.32a1.25 1.25 0 1 0 2.5 0a1.25 1.25 0 1 0 -2.5 0M204.18 252.13a1.25 1.25 0 1 0 2.5 0a1.25 1.25 0 1 0 -2.5 0M206.55 251.95a1.25 1.25 0 1 0 2.5 0a1.25 1.25 0 1 0 -2.5 0M208.92 251.79a1.25 1.25 0 1 0 2.5 0a1.25 1.25 0 1 0 -2.5 0M211.3 251.65a1.25 1.25 0 1 0 2.5 0a1.25 1.25 0 1 0 -2.5 0M213.67 251.52a1.25 1.25 0 1 0 2.5 0a1.25 1.25 0 1 0 -2.5 0M216.04 251.39a1.25 1.25 0 1 0 2.5 0a1.25 1.25 0 1 0 -2.5 0M218.41 251.27a1.25 1.25 0 1 0 2.5 0a1.25 1.25 0 1 0 -2.5 0M220.78 251.16a1.25 1.25 0 1 0 2.5 0a1.25 1.25 0 1 0 -2.5 0M223.16 251.05a1.25 1.25 0 1 0 2.5 0a1.25 1.25 0 1 0 -2.5 0M225.53 250.95a1.25 1.25 0 1 0 2.5 0a1.25 1.25 0 1 0 -2.5 0M227.9 250.85a1.25 1.25 0 1 0 2.5 0a1.25 1.25 0 1 0 -2.5 0M230.27 250.75a1.25 1.25 0 1 0 2.5 0a1.25 1.25 0 1 0 -2.5 0M232.64 250.66a1.25 1.25 0 1 0 2.5 0a1.25 1.25 0 1 0 -2.5 0M235.02 250.57a1.25 1.25 0 1 0 2.5 0a1.25 1.25 0 1 0 -2.5 0M237.39 250.49a1.25 1.25 0 1 0 2.5 0a1.25 1.25 0 1 0 -2.5 0M239.76 250.41a1.25 1.25 0 1 0 2.5 0a1.25 1.25 0 1 0 -2.5 0M242.13 250.33a1.25 1.25 0 1 0 2.5 0a1.25 1.25 0 1 0 -2.5 0M244.5 250.26a1.25 1.25 0 1 0 2.5 0a1.25 1.25 0 1 0 -2.5 0M246.88 250.2a1.25 1.25 0 1 0 2.5 0a1.25 1.25 0 1 0 -2.5 0M249.25 250.13a1.25 1.25 0 1 0 2.5 0a1.25 1.25 0 1 0 -2.5 0M251.62 250.07a1.25 1.25 0 1 0 2.5 0a1.25 1.25 0 1 0 -2.5 0M253.99 250.02a1.25 1.25 0 1 0 2.5 0a1.25 1.25 0 1 0 -2.5 0M256.36 249.97a1.25 1.25 0 1 0 2.5 0a1.25 1.25 0 1 0 -2.5 0M258.74 249.92a1.25 1.25 0 1 0 2.5 0a1.25 1.25 0 1 0 -2.5 0M261.11 249.88a1.25 1.25 0 1 0 2.5 0a1.25 1.25 0 1 0 -2.5 0M263.48 249.84a1.25 1.25 0 1 0 2.5 0a1.25 1.25 0 1 0 -2.5 0M265.85 249.8a1.25 1.25 0 1 0 2.5 0a1.25 1.25 0 1 0 -2.5 0M268.22 249.77a1.25 1.25 0 1 0 2.5 0a1.25 1.25 0 1 0 -2.5 0M270.6 249.74a1.25 1.25 0 1 0 2.5 0a1.25 1.25 0 1 0 -2.5 0M272.97 249.71a1.25 1.25 0 1 0 2.5 0a1.25 1.25 0 1 0 -2.5 0M275.34 249.69a1.25 1.25 0 1 0 2.5 0a1.25 1.25 0 1 0 -2.5 0M277.71 249.66a1.25 1.25 0 1 0 2.5 0a1.25 1.25 0 1 0 -2.5 0M280.08 249.65a1.25 1.25 0 1 0 2.5 0a1.25 1.25 0 1 0 -2.5 0M282.46 249.63a1.25 1.25 0 1 0 2.5 0a1.25 1.25 0 1 0 -2.5 0M284.83 249.6a1.25 1.25 0 1 0 2.5 0a1.25 1.25 0 1 0 -2.5 0M287.2 249.56a1.25 1.25 0 1 0 2.5 0a1.25 1.25 0 1 0 -2.5 0" fill="#ff0000"/>
<path d="M49.95 384.82a1.3 1.3 0 1 0 2.6 0a1.3 1.3 0 1 0 -2.6 0M52.32 381.58a1.3 1.3 0 1 0 2.6 0a1.3 1.3 0 1 0 -2.6 0M54.69 378.27a1.3 1.3 0 1 0 2.6 0a1.3 1.3 0 1 0 -2.6 0M57.07 374.89a1.3 1.3 0 1 0 2.6 0a1.3 1.3 0 1 0 -2.6 0M59.44 371.49a1.3 1.3 0 1 0 2.6 0a1.3 1.3 0 1 0 -2.6 0M61.81 368.06a1.3 1.3 0 1 0 2.6 0a1.3 1.3 0 1 0 -2.6 0M64.18 364.56a1.3 1.3 0 1 0 2.6 0a1.3 1.3 0 1 0 -2.6 0M66.55 360.92a1.3 1.3 0 1 0 2.6 0a1.3 1.3 0 1 0 -2.6 0M68.93 357.1a1.3 1.3 0 1 0 2.6 0a1.3 1.3 0 1 0 -2.6 0M71.3 353.09a1.3 1.3 0 1 0 2.6 0a1.3 1.3 0 1 0 -2.6 0M73.67 348.92a1.3 1.3 0 1 0 2.6 0a1.3 1.3 0 1 0 -2.6 0M76.04 344.64a1.3 1.3 0 1 0 2.6 0a1.3 1.3 0 1 0 -2.6 0M78.41 340.3a1.3 1.3 0 1 0 2.6 0a1.3 1.3 0 1 0 -2.6 0M80.79 335.96a1.3 1.3 0 1 0 2.6 0a1.3 1.3 0 1 0 -2.6 0M83.16 331.67a1.3 1.3 0 1 0 2.6 0a1.3 1.3 0 1 0 -2.6 0M85.53 327.44a1.3 1.3 0 1 0 2.6 0a1.3 1.3 0 1 0 -2.6 0M87.9 323.29a1.3 1.3 0 1 0 2.6 0a1.3 1.3 0 1 0 -2.6 0M90.27 319.24a1.3 1.3 0 1 0 2.6 0a1.3 1.3 0 1 0 -2.6 0M92.65 315.3a1.3 1.3 0 1 0 2.6 0a1.3 1.3 0 1 0 -2.6 0M95.02 311.5a1.3 1.3 0 1 0 2.6 0a1.3 1.3 0 1 0 -2.6 0M97.39 307.86a1.3 1.3 0 1 0 2.6 0a1.3 1.3 0 1 0 -2.6 0M99.76 304.41a1.3 1.3 0 1 0 2.6 0a1.3 1.3 0 1 0 -2.6 0M102.13 301.14a1.3 1.3 0 1 0 2.6 0a1.3 1.3 0 1 0 -2.6 0M104.51 298.08a1.3 1.3 0 1 0 2.6 0a1.3 1.3 0 1 0 -2.6 0M106.88 295.23a1.3 1.3 0 1 0 2.6 0a1.3 1.3 0 1 0 -2.6 0M109.25 292.57a1.3 1.3 0 1 0 2.6 0a1.3 1.3 0 1 0 -2.6 0M111.62 290.05a1.3 1.3 0 1 0 2.6 0a1.3 1.3 0 1 0 -2.6 0M113.99 287.64a1.3 1.3 0 1 0 2.6 0a1.3 1.3 0 1 0 -2.6 0M116.37 285.34a1.3 1.3 0 1 0 2.6 0a1.3 1.3 0 1 0 -2.6 0M118.74 283.17a1.3 1.3 0 1 0 2.6 0a1.3 1.3 0 1 0 -2.6 0M121.11 281.14a1.3 1.3 0 1 0 2.6 0a1.3 1.3 0 1 0 -2.6 0M123.48 279.27a1.3 1.3 0 1 0 2.6 0a1.3 1.3 0 1 0 -2.6 0M125.85 277.53a1.3 1.3 0 1 0 2.6 0a1.3 1.3 0 1 0 -2.6 0M128.23 275.91a1.3 1.3 0 1 0 2.6 0a1.3 1.3 0 1 0 -2.6 0M130.6 274.4a1.3 1.3 0 1 0 2.6 0a1.3 1.3 0 1 0 -2.6 0M132.97 272.99a1.3 1.3 0 1 0 2.6 0a1.3 1.3 0 1 0 -2.6 0M135.34 271.67a1.3 1.3 0 1 0 2.6 0a1.3 1.3 0 1 0 -2.6 0M137.71 270.45a1.3 1.3 0 1 0 2.6 0a1.3 1.3 0 1 0 -2.6 0M140.09 269.32a1.3 1.3 0 1 0 2.6 0a1.3 1.3 0 1 0 -2.6 0M142.46 268.28a1.3 1.3 0 1 0 2.6 0a1.3 1.3 0 1 0 -2.6 0M144.83 267.32a1.3 1.3 0 1 0 2.6 0a1.3 1.3 0 1 0 -2.6 0M147.2 266.42a1.3 1.3 0 1 0 2.6 0a1.3 1.3 0 1 0 -2.6 0M149.57 265.6a1.3 1.3 0 1 0 2.6 0a1.3 1.3 0 1 0 -2.6 0M151.95 264.83a1.3 1.3 0 1 0 2.6 0a1.3 1.3 0 1 0 -2.6 0M154.32 264.12a1.3 1.3 0 1 0 2.6 0a1.3 1.3 0 1 0 -2.6 0M156.69 263.45a1.3 1.3 0 1 0 2.6 0a1.3 1.3 0 1 0 -2.6 0M159.06 262.84a1.3 1.3 0 1 0 2.6 0a1.3 1.3 0 1 0 -2.6 0M161.43 262.26a1.3 1.3 0 1 0 2.6 0a1.3 1.3 0 1 0 -2.6 0M163.81 261.71a1.3 1.3 0 1 0 2.6 0a1.3 1.3 0 1 0 -2.6 0M166.18 261.2a1.3 1.3 0 1 0 2.6 0a1.3 1.3 0 1 0 -2.6 0M168.55 260.72a1.3 1.3 0 1 0 2.6 0a1.3 1.3 0 1 0 -2.6 0M170.92 260.26a1.3 1.3 0 1 0 2.6 0a1.3 1.3 0 1 0 -2.6 0M173.29 259.83a1.3 1.3 0 1 0 2.6 0a1.3 1.3 0 1 0 -2.6 0M175.67 259.41a1.3 1.3 0 1 0 2.6 0a1.3 1.3 0 1 0 -2.6 0M178.04 259.01a1.3 1.3 0 1 0 2.6 0a1.3 1.3 0 1 0 -2.6 0M180.41 258.63a1.3 1.3 0 1 0 2.6 0a1.3 1.3 0 1 0 -2.6 0M182.78 258.26a1.3 1.3 0 1 0 2.6 0a1.3 1.3 0 1 0 -2.6 0M185.15 257.89a1.3 1.3 0 1 0 2.6 0a1.3 1.3 0 1 0 -2.6 0M187.53 257.54a1.3 1.3 0 1 0 2.6 0a1.3 1.3 0 1 0 -2.6 0M189.9 257.2a1.3 1.3 0 1 0 2.6 0a1.3 1.3 0 1 0 -2.6 0M192.27 256.87a1.3 1.3 0 1 0 2.6 0a1.3 1.3 0 1 0 -2.6 0M194.64 256.54a1.3 1.3 0 1 0 2.6 0a1.3 1.3 0 1 0 -2.6 0M197.01 256.23a1.3 1.3 0 1 0 2.6 0a1.3 1.3 0 1 0 -2.6 0M199.39 255.93a1.3 1.3 0 1 0 2.6 0a1.3 1.3 0 1 0 -2.6 0M201.76 255.64a1.3 1.3 0 1 0 2.6 0a1.3 1.3 0 1 0 -2.6 0M204.13 255.36a1.3 1.3 0 1 0 2.6 0a1.3 1.3 0 1 0 -2.6 0M206.5 255.09a1.3 1.3 0 1 0 2.6 0a1.3 1.3 0 1 0 -2.6 0M208.87 254.83a1.3 1.3 0 1 0 2.6 0a1.3 1.3 0 1 0 -2.6 0M211.25 254.58a1.3 1.3 0 1 0 2.6 0a1.3 1.3 0 1 0 -2.6 0M213.62 254.33a1.3 1.3 0 1 0 2.6 0a1.3 1.3 0 1 0 -2.6 0M215.99 254.09a1.3 1.3 0 1 0 2.6 0a1.3 1.3 0 1 0 -2.6 0M218.36 253.86a1.3 1.3 0 1 0 2.6 0a1.3 1.3 0 1 0 -2.6 0M220.73 253.65a1.3 1.3 0 1 0 2.6 0a1.3 1.3 0 1 0 -2.6 0M223.11 253.45a1.3 1.3 0 1 0 2.6 0a1.3 1.3 0 1 0 -2.6 0M225.48 253.26a1.3 1.3 0 1 0 2.6 0a1.3 1.3 0 1 0 -2.6 0M227.85 253.1a1.3 1.3 0 1 0 2.6 0a1.3 1.3 0 1 0 -2.6 0M230.22 252.95a1.3 1.3 0 1 0 2.6 0a1.3 1.3 0 1 0 -2.6 0M232.59 252.82a1.3 1.3 0 1 0 2.6 0a1.3 1.3 0 1 0 -2.6 0M234.97 252.69a1.3 1.3 0 1 0 2.6 0a1.3 1.3 0 1 0 -2.6 0M237.34 252.58a1.3 1.3 0 1 0 2.6 0a1.3 1.3 0 1 0 -2.6 0M239.71 252.46a1.3 1.3 0 1 0 2.6 0a1.3 1.3 0 1 0 -2.6 0M242.08 252.36a1.3 1.3 0 1 0 2.6 0a1.3 1.3 0 1 0 -2.6 0M244.45 252.26a1.3 1.3 0 1 0 2.6 0a1.3 1.3 0 1 0 -2.6 0M246.83 252.16a1.3 1.3 0 1 0 2.6 0a1.3 1.3 0 1 0 -2.6 0M249.2 252.07a1.3 1.3 0 1 0 2.6 0a1.3 1.3 0 1 0 -2.6 0M251.57 251.99a1.3 1.3 0 1 0 2.6 0a1.3 1.3 0 1 0 -2.6 0M253.94 251.92a1.3 1.3 0 1 0 2.6 0a1.3 1.3 0 1 0 -2.6 0M256.31 251.85a1.3 1.3 0 1 0 2.6 0a1.3 1.3 0 1 0 -2.6 0M258.69 251.79a1.3 1.3 0 1 0 2.6 0a1.3 1.3 0 1 0 -2.6 0M261.06 251.73a1.3 1.3 0 1 0 2.6 0a1.3 1.3 0 1 0 -2.6 0M263.43 251.69a1.3 1.3 0 1 0 2.6 0a1.3 1.3 0 1 0 -2.6 0M265.8 251.65a1.3 1.3 0 1 0 2.6 0a1.3 1.3 0 1 0 -2.6 0M268.17 251.62a1.3 1.3 0 1 0 2.6 0a1.3 1.3 0 1 0 -2.6 0M270.55 251.6a1.3 1.3 0 1 0 2.6 0a1.3 1.3 0 1 0 -2.6 0M272.92 251.59a1.3 1.3 0 1 0 2.6 0a1.3 1.3 0 1 0 -2.6 0M275.29 251.59a1.3 1.3 0 1 0 2.6 0a1.3 1.3 0 1 0 -2.6 0M277.66 251.59a1.3 1.3 0 1 0 2.6 0a1.3 1.3 0 1 0 -2.6 0M280.03 251.6a1.3 1.3 0 1 0 2.6 0a1.3 1.3 0 1 0 -2.6 0M282.41 251.62a1.3 1.3 0 1 0 2.6 0a1.3 1.3 0 1 0 -2.6 0M284.78 251.63a1.3 1.3 0 1 0 2.6 0a1.3 1.3 0 1 0 -2.6 0M287.15 251.63a1.3 1.3 0 1 0 2.6 0a1.3 1.3 0 1 0 -2.6 0" fill="#000" opacity="0.33"/>
<path d="M49.95 384.82a1.3 1.3 0 1 0 2.6 0a1.3 1.3 0 1 0 -2.6 0M52.32 381.58a1.3 1.3 0 1 0 2.6 0a1.3 1.3 0 1 0 -2.6 0M54.69 378.33a1.3 1.3 0 1 0 2.6 0a1.3 1.3 0 1 0 -2.6 0M57.07 375.09a1.3 1.3 0 1 0 2.6 0a1.3 1.3 0 1 0 -2.6 0M59.44 371.92a1.3 1.3 0 1 0 2.6 0a1.3 1.3 0 1 0 -2.6 0" fill="#1a00ff" opacity="0.55"/>
<path d="M61.81 368.8a1.3 1.3 0 1 0 2.6 0a1.3 1.3 0 1 0 -2.6 0M64.18 365.76a1.3 1.3 0 1 0 2.6 0a1.3 1.3 0 1 0 -2.6 0" fill="#1a00ff" opacity="0.3"/>
</g>
<rect x="51.25" y="239.4" width="237.2" height="174.5" fill="none" stroke="#2e2e2e" stroke-width="1.25"/>
<path d="M51.25 413.9v4M51.25 239.4v2.8M80.9 413.9v2M80.9 239.4v1.8M110.55 413.9v4M110.55 239.4v2.8M140.2 413.9v2M140.2 239.4v1.8M169.85 413.9v4M169.85 239.4v2.8M199.5 413.9v2M199.5 239.4v1.8M229.15 413.9v4M229.15 239.4v2.8M258.8 413.9v2M258.8 239.4v1.8M288.45 413.9v4M288.45 239.4v2.8M51.25 413.9h-4M288.45 413.9h-2.8M51.25 384.82h-2M288.45 384.82h-1.8M51.25 355.73h-4M288.45 355.73h-2.8M51.25 326.65h-2M288.45 326.65h-1.8M51.25 297.57h-4M288.45 297.57h-2.8M51.25 268.48h-2M288.45 268.48h-1.8M51.25 239.4h-4M288.45 239.4h-2.8" stroke="#2e2e2e" stroke-width="1.25" fill="none"/>
<text transform="translate(51.25 431.8) scale(0.98 1.07)" font-size="15.2" text-anchor="middle" fill="#000" stroke="#000" stroke-width="0.2">0</text>
<text transform="translate(110.55 431.8) scale(0.98 1.07)" font-size="15.2" text-anchor="middle" fill="#000" stroke="#000" stroke-width="0.2">1000</text>
<text transform="translate(169.85 431.8) scale(0.98 1.07)" font-size="15.2" text-anchor="middle" fill="#000" stroke="#000" stroke-width="0.2">2000</text>
<text transform="translate(229.15 431.8) scale(0.98 1.07)" font-size="15.2" text-anchor="middle" fill="#000" stroke="#000" stroke-width="0.2">3000</text>
<text transform="translate(288.45 431.8) scale(0.98 1.07)" font-size="15.2" text-anchor="middle" fill="#000" stroke="#000" stroke-width="0.2">4000</text>
<text transform="translate(45.05 418.4) scale(0.98 1.07)" font-size="15.2" text-anchor="end" fill="#000" stroke="#000" stroke-width="0.2">0.0</text>
<text transform="translate(45.05 360.23) scale(0.98 1.07)" font-size="15.2" text-anchor="end" fill="#000" stroke="#000" stroke-width="0.2">0.2</text>
<text transform="translate(45.05 302.07) scale(0.98 1.07)" font-size="15.2" text-anchor="end" fill="#000" stroke="#000" stroke-width="0.2">0.4</text>
<text transform="translate(45.05 243.9) scale(0.98 1.07)" font-size="15.2" text-anchor="end" fill="#000" stroke="#000" stroke-width="0.2">0.6</text>
<text x="55.45" y="262.7" font-size="22" fill="#000">(b)</text>
</g>
<g id="panel-d">
<clipPath id="clip-d"><rect x="350.55" y="239.4" width="237.55" height="174.5"/></clipPath>
<g clip-path="url(#clip-d)">
<path d="M360.03 370.1V371.06M358.13 370.1h3.8M358.13 371.06h3.8M362.4 366.49V367.69M360.5 366.49h3.8M360.5 367.69h3.8M364.77 362.79V364.23M362.87 362.79h3.8M362.87 364.23h3.8M367.14 358.97V360.65M365.24 358.97h3.8M365.24 360.65h3.8M369.51 355.11V356.94M367.61 355.11h3.8M367.61 356.94h3.8M371.88 351.07V352.96M369.98 351.07h3.8M369.98 352.96h3.8M374.25 346.92V348.88M372.35 346.92h3.8M372.35 348.88h3.8M376.61 342.87V344.89M374.71 342.87h3.8M374.71 344.89h3.8M378.98 338.85V340.93M377.08 338.85h3.8M377.08 340.93h3.8M381.35 334.97V337.12M379.45 334.97h3.8M379.45 337.12h3.8M383.72 331.23V333.44M381.82 331.23h3.8M381.82 333.44h3.8M386.09 327.68V329.96M384.19 327.68h3.8M384.19 329.96h3.8M388.46 324.11V326.46M386.56 324.11h3.8M386.56 326.46h3.8M390.83 320.82V323.23M388.93 320.82h3.8M388.93 323.23h3.8M393.2 317.65V320.12M391.3 317.65h3.8M391.3 320.12h3.8M395.57 314.62V317.16M393.67 314.62h3.8M393.67 317.16h3.8M397.94 311.81V314.41M396.04 311.81h3.8M396.04 314.41h3.8M400.31 309.06V311.68M398.41 309.06h3.8M398.41 311.68h3.8M402.68 306.65V309.3M400.78 306.65h3.8M400.78 309.3h3.8M405.05 304.29V306.97M403.15 304.29h3.8M403.15 306.97h3.8M407.42 302V304.71M405.52 302h3.8M405.52 304.71h3.8M409.79 299.73V302.46M407.89 299.73h3.8M407.89 302.46h3.8M412.16 297.63V300.39M410.26 297.63h3.8M410.26 300.39h3.8M414.53 295.54V298.33M412.63 295.54h3.8M412.63 298.33h3.8M416.9 293.44V296.25M415 293.44h3.8M415 296.25h3.8M419.27 291.76V294.6M417.37 291.76h3.8M417.37 294.6h3.8M421.63 290.17V293.03M419.74 290.17h3.8M419.74 293.03h3.8M424 288.82V291.71M422.1 288.82h3.8M422.1 291.71h3.8M426.37 287.52V290.44M424.47 287.52h3.8M424.47 290.44h3.8M428.74 286.25V289.19M426.84 286.25h3.8M426.84 289.19h3.8M431.11 284.92V287.9M429.21 284.92h3.8M429.21 287.9h3.8M433.48 283.9V286.9M431.58 283.9h3.8M431.58 286.9h3.8M435.85 283.21V286.23M433.95 283.21h3.8M433.95 286.23h3.8M438.22 282.33V285.38M436.32 282.33h3.8M436.32 285.38h3.8M440.59 281.39V284.47M438.69 281.39h3.8M438.69 284.47h3.8M442.96 280.58V283.69M441.06 280.58h3.8M441.06 283.69h3.8M445.33 279.76V282.9M443.43 279.76h3.8M443.43 282.9h3.8M447.7 279.04V282.2M445.8 279.04h3.8M445.8 282.2h3.8M450.07 278.49V281.68M448.17 278.49h3.8M448.17 281.68h3.8M452.44 277.86V281.07M450.54 277.86h3.8M450.54 281.07h3.8M454.81 276.99V280.23M452.91 276.99h3.8M452.91 280.23h3.8M457.18 276.48V279.74M455.28 276.48h3.8M455.28 279.74h3.8M459.55 275.88V279.17M457.65 275.88h3.8M457.65 279.17h3.8M461.92 275.09V278.41M460.02 275.09h3.8M460.02 278.41h3.8M464.29 274.61V277.96M462.39 274.61h3.8M462.39 277.96h3.8M466.66 274.25V277.62M464.76 274.25h3.8M464.76 277.62h3.8M469.02 273.94V277.34M467.12 273.94h3.8M467.12 277.34h3.8M471.39 273.38V276.81M469.49 273.38h3.8M469.49 276.81h3.8M473.76 272.88V276.34M471.86 272.88h3.8M471.86 276.34h3.8M476.13 272.34V275.83M474.23 272.34h3.8M474.23 275.83h3.8M478.5 271.81V275.34M476.6 271.81h3.8M476.6 275.34h3.8M480.87 271.53V275.09M478.97 271.53h3.8M478.97 275.09h3.8M483.24 271.08V274.67M481.34 271.08h3.8M481.34 274.67h3.8M485.61 270.67V274.29M483.71 270.67h3.8M483.71 274.29h3.8M487.98 270.17V273.83M486.08 270.17h3.8M486.08 273.83h3.8M490.35 269.93V273.62M488.45 269.93h3.8M488.45 273.62h3.8M492.72 269.86V273.58M490.82 269.86h3.8M490.82 273.58h3.8M495.09 269.64V273.4M493.19 269.64h3.8M493.19 273.4h3.8M497.46 269.35V273.14M495.56 269.35h3.8M495.56 273.14h3.8M499.83 269.01V272.83M497.93 269.01h3.8M497.93 272.83h3.8M502.2 268.99V272.84M500.3 268.99h3.8M500.3 272.84h3.8M504.57 268.78V272.66M502.67 268.78h3.8M502.67 272.66h3.8M506.94 268.65V272.56M505.04 268.65h3.8M505.04 272.56h3.8M509.31 268.48V272.43M507.41 268.48h3.8M507.41 272.43h3.8M511.68 268.11V272.08M509.78 268.11h3.8M509.78 272.08h3.8M514.05 267.91V271.92M512.15 267.91h3.8M512.15 271.92h3.8M516.41 267.83V271.87M514.51 267.83h3.8M514.51 271.87h3.8M518.78 267.62V271.69M516.88 267.62h3.8M516.88 271.69h3.8M521.15 267.09V271.19M519.25 267.09h3.8M519.25 271.19h3.8M523.52 266.91V271.05M521.62 266.91h3.8M521.62 271.05h3.8M525.89 266.67V270.84M523.99 266.67h3.8M523.99 270.84h3.8M528.26 266.59V270.79M526.36 266.59h3.8M526.36 270.79h3.8M530.63 266.39V270.62M528.73 266.39h3.8M528.73 270.62h3.8M533 266.08V270.35M531.1 266.08h3.8M531.1 270.35h3.8M535.37 265.92V270.21M533.47 265.92h3.8M533.47 270.21h3.8M537.74 265.72V270.05M535.84 265.72h3.8M535.84 270.05h3.8M540.11 265.88V270.24M538.21 265.88h3.8M538.21 270.24h3.8M542.48 265.56V269.95M540.58 265.56h3.8M540.58 269.95h3.8M544.85 265.49V269.91M542.95 265.49h3.8M542.95 269.91h3.8M547.22 265V269.46M545.32 265h3.8M545.32 269.46h3.8M549.59 264.92V269.41M547.69 264.92h3.8M547.69 269.41h3.8M551.96 264.65V269.17M550.06 264.65h3.8M550.06 269.17h3.8M554.33 264.36V268.91M552.43 264.36h3.8M552.43 268.91h3.8M556.7 264.36V268.94M554.8 264.36h3.8M554.8 268.94h3.8M559.07 264.13V268.75M557.17 264.13h3.8M557.17 268.75h3.8M561.44 264.15V268.79M559.54 264.15h3.8M559.54 268.79h3.8M563.81 263.93V268.61M561.91 263.93h3.8M561.91 268.61h3.8M566.17 263.84V268.55M564.27 263.84h3.8M564.27 268.55h3.8M568.54 263.85V268.59M566.64 263.85h3.8M566.64 268.59h3.8M570.91 263.98V268.75M569.01 263.98h3.8M569.01 268.75h3.8M573.28 264.28V269.08M571.38 264.28h3.8M571.38 269.08h3.8M575.65 263.99V268.83M573.75 263.99h3.8M573.75 268.83h3.8M578.02 263.81V268.69M576.12 263.81h3.8M576.12 268.69h3.8M580.39 263.33V268.24M578.49 263.33h3.8M578.49 268.24h3.8M582.76 263.38V268.31M580.86 263.38h3.8M580.86 268.31h3.8M585.13 263.5V268.47M583.23 263.5h3.8M583.23 268.47h3.8M587.5 263.43V268.43M585.6 263.43h3.8M585.6 268.43h3.8" stroke="#0000ff" stroke-width="0.5" fill="none" opacity="0.7"/>
<polyline points="350.55,384.82 352.92,381.19 355.29,377.61 357.66,374.07 360.03,370.58 362.4,367.09 364.77,363.51 367.14,359.81 369.51,356.03 371.88,352.02 374.25,347.9 376.61,343.88 378.98,339.89 381.35,336.04 383.72,332.34 386.09,328.82 388.46,325.28 390.83,322.03 393.2,318.89 395.57,315.89 397.94,313.11 400.31,310.37 402.68,307.98 405.05,305.63 407.42,303.35 409.79,301.09 412.16,299.01 414.53,296.93 416.9,294.85 419.27,293.18 421.63,291.6 424,290.26 426.37,288.98 428.74,287.72 431.11,286.41 433.48,285.4 435.85,284.72 438.22,283.85 440.59,282.93 442.96,282.14 445.33,281.33 447.7,280.62 450.07,280.09 452.44,279.47 454.81,278.61 457.18,278.11 459.55,277.53 461.92,276.75 464.29,276.29 466.66,275.93 469.02,275.64 471.39,275.09 473.76,274.61 476.13,274.09 478.5,273.58 480.87,273.31 483.24,272.87 485.61,272.48 487.98,272 490.35,271.78 492.72,271.72 495.09,271.52 497.46,271.25 499.83,270.92 502.2,270.92 504.57,270.72 506.94,270.6 509.31,270.45 511.68,270.09 514.05,269.91 516.41,269.85 518.78,269.65 521.15,269.14 523.52,268.98 525.89,268.75 528.26,268.69 530.63,268.51 533,268.21 535.37,268.07 537.74,267.88 540.11,268.06 542.48,267.76 544.85,267.7 547.22,267.23 549.59,267.17 551.96,266.91 554.33,266.63 556.7,266.65 559.07,266.44 561.44,266.47 563.81,266.27 566.17,266.19 568.54,266.22 570.91,266.36 573.28,266.68 575.65,266.41 578.02,266.25 580.39,265.79 582.76,265.85 585.13,265.98 587.5,265.93" fill="none" stroke="#0000ff" stroke-width="0.6"/>
<path d="M349.2 384.82a1.35 1.35 0 1 0 2.7 0a1.35 1.35 0 1 0 -2.7 0M351.57 381.19a1.35 1.35 0 1 0 2.7 0a1.35 1.35 0 1 0 -2.7 0M353.94 377.61a1.35 1.35 0 1 0 2.7 0a1.35 1.35 0 1 0 -2.7 0M356.31 374.07a1.35 1.35 0 1 0 2.7 0a1.35 1.35 0 1 0 -2.7 0M358.68 370.58a1.35 1.35 0 1 0 2.7 0a1.35 1.35 0 1 0 -2.7 0M361.05 367.09a1.35 1.35 0 1 0 2.7 0a1.35 1.35 0 1 0 -2.7 0M363.42 363.51a1.35 1.35 0 1 0 2.7 0a1.35 1.35 0 1 0 -2.7 0M365.79 359.81a1.35 1.35 0 1 0 2.7 0a1.35 1.35 0 1 0 -2.7 0M368.16 356.03a1.35 1.35 0 1 0 2.7 0a1.35 1.35 0 1 0 -2.7 0M370.53 352.02a1.35 1.35 0 1 0 2.7 0a1.35 1.35 0 1 0 -2.7 0M372.89 347.9a1.35 1.35 0 1 0 2.7 0a1.35 1.35 0 1 0 -2.7 0M375.26 343.88a1.35 1.35 0 1 0 2.7 0a1.35 1.35 0 1 0 -2.7 0M377.63 339.89a1.35 1.35 0 1 0 2.7 0a1.35 1.35 0 1 0 -2.7 0M380 336.04a1.35 1.35 0 1 0 2.7 0a1.35 1.35 0 1 0 -2.7 0M382.37 332.34a1.35 1.35 0 1 0 2.7 0a1.35 1.35 0 1 0 -2.7 0M384.74 328.82a1.35 1.35 0 1 0 2.7 0a1.35 1.35 0 1 0 -2.7 0M387.11 325.28a1.35 1.35 0 1 0 2.7 0a1.35 1.35 0 1 0 -2.7 0M389.48 322.03a1.35 1.35 0 1 0 2.7 0a1.35 1.35 0 1 0 -2.7 0M391.85 318.89a1.35 1.35 0 1 0 2.7 0a1.35 1.35 0 1 0 -2.7 0M394.22 315.89a1.35 1.35 0 1 0 2.7 0a1.35 1.35 0 1 0 -2.7 0M396.59 313.11a1.35 1.35 0 1 0 2.7 0a1.35 1.35 0 1 0 -2.7 0M398.96 310.37a1.35 1.35 0 1 0 2.7 0a1.35 1.35 0 1 0 -2.7 0M401.33 307.98a1.35 1.35 0 1 0 2.7 0a1.35 1.35 0 1 0 -2.7 0M403.7 305.63a1.35 1.35 0 1 0 2.7 0a1.35 1.35 0 1 0 -2.7 0M406.07 303.35a1.35 1.35 0 1 0 2.7 0a1.35 1.35 0 1 0 -2.7 0M408.44 301.09a1.35 1.35 0 1 0 2.7 0a1.35 1.35 0 1 0 -2.7 0M410.81 299.01a1.35 1.35 0 1 0 2.7 0a1.35 1.35 0 1 0 -2.7 0M413.18 296.93a1.35 1.35 0 1 0 2.7 0a1.35 1.35 0 1 0 -2.7 0M415.55 294.85a1.35 1.35 0 1 0 2.7 0a1.35 1.35 0 1 0 -2.7 0M417.92 293.18a1.35 1.35 0 1 0 2.7 0a1.35 1.35 0 1 0 -2.7 0M420.28 291.6a1.35 1.35 0 1 0 2.7 0a1.35 1.35 0 1 0 -2.7 0M422.65 290.26a1.35 1.35 0 1 0 2.7 0a1.35 1.35 0 1 0 -2.7 0M425.02 288.98a1.35 1.35 0 1 0 2.7 0a1.35 1.35 0 1 0 -2.7 0M427.39 287.72a1.35 1.35 0 1 0 2.7 0a1.35 1.35 0 1 0 -2.7 0M429.76 286.41a1.35 1.35 0 1 0 2.7 0a1.35 1.35 0 1 0 -2.7 0M432.13 285.4a1.35 1.35 0 1 0 2.7 0a1.35 1.35 0 1 0 -2.7 0M434.5 284.72a1.35 1.35 0 1 0 2.7 0a1.35 1.35 0 1 0 -2.7 0M436.87 283.85a1.35 1.35 0 1 0 2.7 0a1.35 1.35 0 1 0 -2.7 0M439.24 282.93a1.35 1.35 0 1 0 2.7 0a1.35 1.35 0 1 0 -2.7 0M441.61 282.14a1.35 1.35 0 1 0 2.7 0a1.35 1.35 0 1 0 -2.7 0M443.98 281.33a1.35 1.35 0 1 0 2.7 0a1.35 1.35 0 1 0 -2.7 0M446.35 280.62a1.35 1.35 0 1 0 2.7 0a1.35 1.35 0 1 0 -2.7 0M448.72 280.09a1.35 1.35 0 1 0 2.7 0a1.35 1.35 0 1 0 -2.7 0M451.09 279.47a1.35 1.35 0 1 0 2.7 0a1.35 1.35 0 1 0 -2.7 0M453.46 278.61a1.35 1.35 0 1 0 2.7 0a1.35 1.35 0 1 0 -2.7 0M455.83 278.11a1.35 1.35 0 1 0 2.7 0a1.35 1.35 0 1 0 -2.7 0M458.2 277.53a1.35 1.35 0 1 0 2.7 0a1.35 1.35 0 1 0 -2.7 0M460.57 276.75a1.35 1.35 0 1 0 2.7 0a1.35 1.35 0 1 0 -2.7 0M462.94 276.29a1.35 1.35 0 1 0 2.7 0a1.35 1.35 0 1 0 -2.7 0M465.31 275.93a1.35 1.35 0 1 0 2.7 0a1.35 1.35 0 1 0 -2.7 0M467.67 275.64a1.35 1.35 0 1 0 2.7 0a1.35 1.35 0 1 0 -2.7 0M470.04 275.09a1.35 1.35 0 1 0 2.7 0a1.35 1.35 0 1 0 -2.7 0M472.41 274.61a1.35 1.35 0 1 0 2.7 0a1.35 1.35 0 1 0 -2.7 0M474.78 274.09a1.35 1.35 0 1 0 2.7 0a1.35 1.35 0 1 0 -2.7 0M477.15 273.58a1.35 1.35 0 1 0 2.7 0a1.35 1.35 0 1 0 -2.7 0M479.52 273.31a1.35 1.35 0 1 0 2.7 0a1.35 1.35 0 1 0 -2.7 0M481.89 272.87a1.35 1.35 0 1 0 2.7 0a1.35 1.35 0 1 0 -2.7 0M484.26 272.48a1.35 1.35 0 1 0 2.7 0a1.35 1.35 0 1 0 -2.7 0M486.63 272a1.35 1.35 0 1 0 2.7 0a1.35 1.35 0 1 0 -2.7 0M489 271.78a1.35 1.35 0 1 0 2.7 0a1.35 1.35 0 1 0 -2.7 0M491.37 271.72a1.35 1.35 0 1 0 2.7 0a1.35 1.35 0 1 0 -2.7 0M493.74 271.52a1.35 1.35 0 1 0 2.7 0a1.35 1.35 0 1 0 -2.7 0M496.11 271.25a1.35 1.35 0 1 0 2.7 0a1.35 1.35 0 1 0 -2.7 0M498.48 270.92a1.35 1.35 0 1 0 2.7 0a1.35 1.35 0 1 0 -2.7 0M500.85 270.92a1.35 1.35 0 1 0 2.7 0a1.35 1.35 0 1 0 -2.7 0M503.22 270.72a1.35 1.35 0 1 0 2.7 0a1.35 1.35 0 1 0 -2.7 0M505.59 270.6a1.35 1.35 0 1 0 2.7 0a1.35 1.35 0 1 0 -2.7 0M507.96 270.45a1.35 1.35 0 1 0 2.7 0a1.35 1.35 0 1 0 -2.7 0M510.33 270.09a1.35 1.35 0 1 0 2.7 0a1.35 1.35 0 1 0 -2.7 0M512.7 269.91a1.35 1.35 0 1 0 2.7 0a1.35 1.35 0 1 0 -2.7 0M515.06 269.85a1.35 1.35 0 1 0 2.7 0a1.35 1.35 0 1 0 -2.7 0M517.43 269.65a1.35 1.35 0 1 0 2.7 0a1.35 1.35 0 1 0 -2.7 0M519.8 269.14a1.35 1.35 0 1 0 2.7 0a1.35 1.35 0 1 0 -2.7 0M522.17 268.98a1.35 1.35 0 1 0 2.7 0a1.35 1.35 0 1 0 -2.7 0M524.54 268.75a1.35 1.35 0 1 0 2.7 0a1.35 1.35 0 1 0 -2.7 0M526.91 268.69a1.35 1.35 0 1 0 2.7 0a1.35 1.35 0 1 0 -2.7 0M529.28 268.51a1.35 1.35 0 1 0 2.7 0a1.35 1.35 0 1 0 -2.7 0M531.65 268.21a1.35 1.35 0 1 0 2.7 0a1.35 1.35 0 1 0 -2.7 0M534.02 268.07a1.35 1.35 0 1 0 2.7 0a1.35 1.35 0 1 0 -2.7 0M536.39 267.88a1.35 1.35 0 1 0 2.7 0a1.35 1.35 0 1 0 -2.7 0M538.76 268.06a1.35 1.35 0 1 0 2.7 0a1.35 1.35 0 1 0 -2.7 0M541.13 267.76a1.35 1.35 0 1 0 2.7 0a1.35 1.35 0 1 0 -2.7 0M543.5 267.7a1.35 1.35 0 1 0 2.7 0a1.35 1.35 0 1 0 -2.7 0M545.87 267.23a1.35 1.35 0 1 0 2.7 0a1.35 1.35 0 1 0 -2.7 0M548.24 267.17a1.35 1.35 0 1 0 2.7 0a1.35 1.35 0 1 0 -2.7 0M550.61 266.91a1.35 1.35 0 1 0 2.7 0a1.35 1.35 0 1 0 -2.7 0M552.98 266.63a1.35 1.35 0 1 0 2.7 0a1.35 1.35 0 1 0 -2.7 0M555.35 266.65a1.35 1.35 0 1 0 2.7 0a1.35 1.35 0 1 0 -2.7 0M557.72 266.44a1.35 1.35 0 1 0 2.7 0a1.35 1.35 0 1 0 -2.7 0M560.09 266.47a1.35 1.35 0 1 0 2.7 0a1.35 1.35 0 1 0 -2.7 0M562.46 266.27a1.35 1.35 0 1 0 2.7 0a1.35 1.35 0 1 0 -2.7 0M564.82 266.19a1.35 1.35 0 1 0 2.7 0a1.35 1.35 0 1 0 -2.7 0M567.19 266.22a1.35 1.35 0 1 0 2.7 0a1.35 1.35 0 1 0 -2.7 0M569.56 266.36a1.35 1.35 0 1 0 2.7 0a1.35 1.35 0 1 0 -2.7 0M571.93 266.68a1.35 1.35 0 1 0 2.7 0a1.35 1.35 0 1 0 -2.7 0M574.3 266.41a1.35 1.35 0 1 0 2.7 0a1.35 1.35 0 1 0 -2.7 0M576.67 266.25a1.35 1.35 0 1 0 2.7 0a1.35 1.35 0 1 0 -2.7 0M579.04 265.79a1.35 1.35 0 1 0 2.7 0a1.35 1.35 0 1 0 -2.7 0M581.41 265.85a1.35 1.35 0 1 0 2.7 0a1.35 1.35 0 1 0 -2.7 0M583.78 265.98a1.35 1.35 0 1 0 2.7 0a1.35 1.35 0 1 0 -2.7 0M586.15 265.93a1.35 1.35 0 1 0 2.7 0a1.35 1.35 0 1 0 -2.7 0" fill="#0000ff"/>
<polyline points="350.55,384.82 352.92,381.19 355.29,377.6 357.66,374.07 360.03,370.6 362.4,367.12 364.77,363.57 367.14,359.87 369.51,356.03 371.88,352.06 374.25,348.04 376.61,343.99 378.98,339.98 381.35,336.08 383.72,332.33 386.09,328.73 388.46,325.27 390.83,321.92 393.2,318.71 395.57,315.66 397.94,312.81 400.31,310.16 402.68,307.7 405.05,305.34 407.42,303.06 409.79,300.85 412.16,298.74 414.53,296.76 416.9,294.95 419.27,293.3 421.63,291.81 424,290.44 426.37,289.16 428.74,287.94 431.11,286.79 433.48,285.68 435.85,284.6 438.22,283.55 440.59,282.53 442.96,281.57 445.33,280.7 447.7,279.92 450.07,279.22 452.44,278.58 454.81,277.99 457.18,277.44 459.55,276.92 461.92,276.43 464.29,275.98 466.66,275.54 469.02,275.13 471.39,274.74 473.76,274.36 476.13,274 478.5,273.66 480.87,273.33 483.24,273.02 485.61,272.71 487.98,272.42 490.35,272.14 492.72,271.87 495.09,271.61 497.46,271.35 499.83,271.1 502.2,270.85 504.57,270.6 506.94,270.35 509.31,270.08 511.68,269.82 514.05,269.55 516.41,269.28 518.78,269.02 521.15,268.77 523.52,268.54 525.89,268.33 528.26,268.14 530.63,267.97 533,267.82 535.37,267.69 537.74,267.55 540.11,267.43 542.48,267.31 544.85,267.19 547.22,267.08 549.59,266.98 551.96,266.88 554.33,266.78 556.7,266.69 559.07,266.6 561.44,266.51 563.81,266.43 566.17,266.35 568.54,266.28 570.91,266.21 573.28,266.14 575.65,266.08 578.02,266.02 580.39,265.96 582.76,265.9 585.13,265.85 587.5,265.8" fill="none" stroke="#ff00ff" stroke-width="0.6"/>
<path d="M349.5 384.82a1.05 1.05 0 1 0 2.1 0a1.05 1.05 0 1 0 -2.1 0M351.87 381.19a1.05 1.05 0 1 0 2.1 0a1.05 1.05 0 1 0 -2.1 0M354.24 377.6a1.05 1.05 0 1 0 2.1 0a1.05 1.05 0 1 0 -2.1 0M356.61 374.07a1.05 1.05 0 1 0 2.1 0a1.05 1.05 0 1 0 -2.1 0M358.98 370.6a1.05 1.05 0 1 0 2.1 0a1.05 1.05 0 1 0 -2.1 0M361.35 367.12a1.05 1.05 0 1 0 2.1 0a1.05 1.05 0 1 0 -2.1 0M363.72 363.57a1.05 1.05 0 1 0 2.1 0a1.05 1.05 0 1 0 -2.1 0M366.09 359.87a1.05 1.05 0 1 0 2.1 0a1.05 1.05 0 1 0 -2.1 0M368.46 356.03a1.05 1.05 0 1 0 2.1 0a1.05 1.05 0 1 0 -2.1 0M370.83 352.06a1.05 1.05 0 1 0 2.1 0a1.05 1.05 0 1 0 -2.1 0M373.19 348.04a1.05 1.05 0 1 0 2.1 0a1.05 1.05 0 1 0 -2.1 0M375.56 343.99a1.05 1.05 0 1 0 2.1 0a1.05 1.05 0 1 0 -2.1 0M377.93 339.98a1.05 1.05 0 1 0 2.1 0a1.05 1.05 0 1 0 -2.1 0M380.3 336.08a1.05 1.05 0 1 0 2.1 0a1.05 1.05 0 1 0 -2.1 0M382.67 332.33a1.05 1.05 0 1 0 2.1 0a1.05 1.05 0 1 0 -2.1 0M385.04 328.73a1.05 1.05 0 1 0 2.1 0a1.05 1.05 0 1 0 -2.1 0M387.41 325.27a1.05 1.05 0 1 0 2.1 0a1.05 1.05 0 1 0 -2.1 0M389.78 321.92a1.05 1.05 0 1 0 2.1 0a1.05 1.05 0 1 0 -2.1 0M392.15 318.71a1.05 1.05 0 1 0 2.1 0a1.05 1.05 0 1 0 -2.1 0M394.52 315.66a1.05 1.05 0 1 0 2.1 0a1.05 1.05 0 1 0 -2.1 0M396.89 312.81a1.05 1.05 0 1 0 2.1 0a1.05 1.05 0 1 0 -2.1 0M399.26 310.16a1.05 1.05 0 1 0 2.1 0a1.05 1.05 0 1 0 -2.1 0M401.63 307.7a1.05 1.05 0 1 0 2.1 0a1.05 1.05 0 1 0 -2.1 0M404 305.34a1.05 1.05 0 1 0 2.1 0a1.05 1.05 0 1 0 -2.1 0M406.37 303.06a1.05 1.05 0 1 0 2.1 0a1.05 1.05 0 1 0 -2.1 0M408.74 300.85a1.05 1.05 0 1 0 2.1 0a1.05 1.05 0 1 0 -2.1 0M411.11 298.74a1.05 1.05 0 1 0 2.1 0a1.05 1.05 0 1 0 -2.1 0M413.48 296.76a1.05 1.05 0 1 0 2.1 0a1.05 1.05 0 1 0 -2.1 0M415.85 294.95a1.05 1.05 0 1 0 2.1 0a1.05 1.05 0 1 0 -2.1 0M418.22 293.3a1.05 1.05 0 1 0 2.1 0a1.05 1.05 0 1 0 -2.1 0M420.58 291.81a1.05 1.05 0 1 0 2.1 0a1.05 1.05 0 1 0 -2.1 0M422.95 290.44a1.05 1.05 0 1 0 2.1 0a1.05 1.05 0 1 0 -2.1 0M425.32 289.16a1.05 1.05 0 1 0 2.1 0a1.05 1.05 0 1 0 -2.1 0M427.69 287.94a1.05 1.05 0 1 0 2.1 0a1.05 1.05 0 1 0 -2.1 0M430.06 286.79a1.05 1.05 0 1 0 2.1 0a1.05 1.05 0 1 0 -2.1 0M432.43 285.68a1.05 1.05 0 1 0 2.1 0a1.05 1.05 0 1 0 -2.1 0M434.8 284.6a1.05 1.05 0 1 0 2.1 0a1.05 1.05 0 1 0 -2.1 0M437.17 283.55a1.05 1.05 0 1 0 2.1 0a1.05 1.05 0 1 0 -2.1 0M439.54 282.53a1.05 1.05 0 1 0 2.1 0a1.05 1.05 0 1 0 -2.1 0M441.91 281.57a1.05 1.05 0 1 0 2.1 0a1.05 1.05 0 1 0 -2.1 0M444.28 280.7a1.05 1.05 0 1 0 2.1 0a1.05 1.05 0 1 0 -2.1 0M446.65 279.92a1.05 1.05 0 1 0 2.1 0a1.05 1.05 0 1 0 -2.1 0M449.02 279.22a1.05 1.05 0 1 0 2.1 0a1.05 1.05 0 1 0 -2.1 0M451.39 278.58a1.05 1.05 0 1 0 2.1 0a1.05 1.05 0 1 0 -2.1 0M453.76 277.99a1.05 1.05 0 1 0 2.1 0a1.05 1.05 0 1 0 -2.1 0M456.13 277.44a1.05 1.05 0 1 0 2.1 0a1.05 1.05 0 1 0 -2.1 0M458.5 276.92a1.05 1.05 0 1 0 2.1 0a1.05 1.05 0 1 0 -2.1 0M460.87 276.43a1.05 1.05 0 1 0 2.1 0a1.05 1.05 0 1 0 -2.1 0M463.24 275.98a1.05 1.05 0 1 0 2.1 0a1.05 1.05 0 1 0 -2.1 0M465.61 275.54a1.05 1.05 0 1 0 2.1 0a1.05 1.05 0 1 0 -2.1 0M467.97 275.13a1.05 1.05 0 1 0 2.1 0a1.05 1.05 0 1 0 -2.1 0M470.34 274.74a1.05 1.05 0 1 0 2.1 0a1.05 1.05 0 1 0 -2.1 0M472.71 274.36a1.05 1.05 0 1 0 2.1 0a1.05 1.05 0 1 0 -2.1 0M475.08 274a1.05 1.05 0 1 0 2.1 0a1.05 1.05 0 1 0 -2.1 0M477.45 273.66a1.05 1.05 0 1 0 2.1 0a1.05 1.05 0 1 0 -2.1 0M479.82 273.33a1.05 1.05 0 1 0 2.1 0a1.05 1.05 0 1 0 -2.1 0M482.19 273.02a1.05 1.05 0 1 0 2.1 0a1.05 1.05 0 1 0 -2.1 0M484.56 272.71a1.05 1.05 0 1 0 2.1 0a1.05 1.05 0 1 0 -2.1 0M486.93 272.42a1.05 1.05 0 1 0 2.1 0a1.05 1.05 0 1 0 -2.1 0M489.3 272.14a1.05 1.05 0 1 0 2.1 0a1.05 1.05 0 1 0 -2.1 0M491.67 271.87a1.05 1.05 0 1 0 2.1 0a1.05 1.05 0 1 0 -2.1 0M494.04 271.61a1.05 1.05 0 1 0 2.1 0a1.05 1.05 0 1 0 -2.1 0M496.41 271.35a1.05 1.05 0 1 0 2.1 0a1.05 1.05 0 1 0 -2.1 0M498.78 271.1a1.05 1.05 0 1 0 2.1 0a1.05 1.05 0 1 0 -2.1 0M501.15 270.85a1.05 1.05 0 1 0 2.1 0a1.05 1.05 0 1 0 -2.1 0M503.52 270.6a1.05 1.05 0 1 0 2.1 0a1.05 1.05 0 1 0 -2.1 0M505.89 270.35a1.05 1.05 0 1 0 2.1 0a1.05 1.05 0 1 0 -2.1 0M508.26 270.08a1.05 1.05 0 1 0 2.1 0a1.05 1.05 0 1 0 -2.1 0M510.63 269.82a1.05 1.05 0 1 0 2.1 0a1.05 1.05 0 1 0 -2.1 0M513 269.55a1.05 1.05 0 1 0 2.1 0a1.05 1.05 0 1 0 -2.1 0M515.37 269.28a1.05 1.05 0 1 0 2.1 0a1.05 1.05 0 1 0 -2.1 0M517.73 269.02a1.05 1.05 0 1 0 2.1 0a1.05 1.05 0 1 0 -2.1 0M520.1 268.77a1.05 1.05 0 1 0 2.1 0a1.05 1.05 0 1 0 -2.1 0M522.47 268.54a1.05 1.05 0 1 0 2.1 0a1.05 1.05 0 1 0 -2.1 0M524.84 268.33a1.05 1.05 0 1 0 2.1 0a1.05 1.05 0 1 0 -2.1 0M527.21 268.14a1.05 1.05 0 1 0 2.1 0a1.05 1.05 0 1 0 -2.1 0M529.58 267.97a1.05 1.05 0 1 0 2.1 0a1.05 1.05 0 1 0 -2.1 0M531.95 267.82a1.05 1.05 0 1 0 2.1 0a1.05 1.05 0 1 0 -2.1 0M534.32 267.69a1.05 1.05 0 1 0 2.1 0a1.05 1.05 0 1 0 -2.1 0M536.69 267.55a1.05 1.05 0 1 0 2.1 0a1.05 1.05 0 1 0 -2.1 0M539.06 267.43a1.05 1.05 0 1 0 2.1 0a1.05 1.05 0 1 0 -2.1 0M541.43 267.31a1.05 1.05 0 1 0 2.1 0a1.05 1.05 0 1 0 -2.1 0M543.8 267.19a1.05 1.05 0 1 0 2.1 0a1.05 1.05 0 1 0 -2.1 0M546.17 267.08a1.05 1.05 0 1 0 2.1 0a1.05 1.05 0 1 0 -2.1 0M548.54 266.98a1.05 1.05 0 1 0 2.1 0a1.05 1.05 0 1 0 -2.1 0M550.91 266.88a1.05 1.05 0 1 0 2.1 0a1.05 1.05 0 1 0 -2.1 0M553.28 266.78a1.05 1.05 0 1 0 2.1 0a1.05 1.05 0 1 0 -2.1 0M555.65 266.69a1.05 1.05 0 1 0 2.1 0a1.05 1.05 0 1 0 -2.1 0M558.02 266.6a1.05 1.05 0 1 0 2.1 0a1.05 1.05 0 1 0 -2.1 0M560.39 266.51a1.05 1.05 0 1 0 2.1 0a1.05 1.05 0 1 0 -2.1 0M562.76 266.43a1.05 1.05 0 1 0 2.1 0a1.05 1.05 0 1 0 -2.1 0M565.12 266.35a1.05 1.05 0 1 0 2.1 0a1.05 1.05 0 1 0 -2.1 0M567.49 266.28a1.05 1.05 0 1 0 2.1 0a1.05 1.05 0 1 0 -2.1 0M569.86 266.21a1.05 1.05 0 1 0 2.1 0a1.05 1.05 0 1 0 -2.1 0M572.23 266.14a1.05 1.05 0 1 0 2.1 0a1.05 1.05 0 1 0 -2.1 0M574.6 266.08a1.05 1.05 0 1 0 2.1 0a1.05 1.05 0 1 0 -2.1 0M576.97 266.02a1.05 1.05 0 1 0 2.1 0a1.05 1.05 0 1 0 -2.1 0M579.34 265.96a1.05 1.05 0 1 0 2.1 0a1.05 1.05 0 1 0 -2.1 0M581.71 265.9a1.05 1.05 0 1 0 2.1 0a1.05 1.05 0 1 0 -2.1 0M584.08 265.85a1.05 1.05 0 1 0 2.1 0a1.05 1.05 0 1 0 -2.1 0M586.45 265.8a1.05 1.05 0 1 0 2.1 0a1.05 1.05 0 1 0 -2.1 0" fill="#ff00ff"/>
<polyline points="350.55,384.82 352.92,381.39 355.29,377.79 357.66,374.05 360.03,370.19 362.4,366.16 364.77,361.9 367.14,357.36 369.51,352.58 371.88,347.64 374.25,342.63 376.61,337.68 378.98,332.86 381.35,328.19 383.72,323.68 386.09,319.36 388.46,315.25 390.83,311.38 393.2,307.71 395.57,304.24 397.94,300.97 400.31,297.88 402.68,295 405.05,292.36 407.42,289.97 409.79,287.87 412.16,286.03 414.53,284.37 416.9,282.8 419.27,281.26 421.63,279.76 424,278.31 426.37,276.96 428.74,275.7 431.11,274.54 433.48,273.48 435.85,272.49 438.22,271.57 440.59,270.7 442.96,269.87 445.33,269.07 447.7,268.32 450.07,267.59 452.44,266.89 454.81,266.22 457.18,265.57 459.55,264.94 461.92,264.35 464.29,263.79 466.66,263.27 469.02,262.8 471.39,262.38 473.76,262 476.13,261.67 478.5,261.38 480.87,261.11 483.24,260.87 485.61,260.64 487.98,260.43 490.35,260.23 492.72,260.03 495.09,259.84 497.46,259.66 499.83,259.48 502.2,259.29 504.57,259.1 506.94,258.9 509.31,258.69 511.68,258.46 514.05,258.23 516.41,258 518.78,257.77 521.15,257.56 523.52,257.36 525.89,257.19 528.26,257.04 530.63,256.91 533,256.8 535.37,256.7 537.74,256.61 540.11,256.52 542.48,256.43 544.85,256.35 547.22,256.26 549.59,256.19 551.96,256.11 554.33,256.04 556.7,255.97 559.07,255.91 561.44,255.85 563.81,255.8 566.17,255.75 568.54,255.7 570.91,255.67 573.28,255.63 575.65,255.61 578.02,255.59 580.39,255.57 582.76,255.56 585.13,255.54 587.5,255.51" fill="none" stroke="#000000" stroke-width="0.6"/>
<path d="M349.25 384.82a1.3 1.3 0 1 0 2.6 0a1.3 1.3 0 1 0 -2.6 0M351.62 381.39a1.3 1.3 0 1 0 2.6 0a1.3 1.3 0 1 0 -2.6 0M353.99 377.79a1.3 1.3 0 1 0 2.6 0a1.3 1.3 0 1 0 -2.6 0M356.36 374.05a1.3 1.3 0 1 0 2.6 0a1.3 1.3 0 1 0 -2.6 0M358.73 370.19a1.3 1.3 0 1 0 2.6 0a1.3 1.3 0 1 0 -2.6 0M361.1 366.16a1.3 1.3 0 1 0 2.6 0a1.3 1.3 0 1 0 -2.6 0M363.47 361.9a1.3 1.3 0 1 0 2.6 0a1.3 1.3 0 1 0 -2.6 0M365.84 357.36a1.3 1.3 0 1 0 2.6 0a1.3 1.3 0 1 0 -2.6 0M368.21 352.58a1.3 1.3 0 1 0 2.6 0a1.3 1.3 0 1 0 -2.6 0M370.58 347.64a1.3 1.3 0 1 0 2.6 0a1.3 1.3 0 1 0 -2.6 0M372.94 342.63a1.3 1.3 0 1 0 2.6 0a1.3 1.3 0 1 0 -2.6 0M375.31 337.68a1.3 1.3 0 1 0 2.6 0a1.3 1.3 0 1 0 -2.6 0M377.68 332.86a1.3 1.3 0 1 0 2.6 0a1.3 1.3 0 1 0 -2.6 0M380.05 328.19a1.3 1.3 0 1 0 2.6 0a1.3 1.3 0 1 0 -2.6 0M382.42 323.68a1.3 1.3 0 1 0 2.6 0a1.3 1.3 0 1 0 -2.6 0M384.79 319.36a1.3 1.3 0 1 0 2.6 0a1.3 1.3 0 1 0 -2.6 0M387.16 315.25a1.3 1.3 0 1 0 2.6 0a1.3 1.3 0 1 0 -2.6 0M389.53 311.38a1.3 1.3 0 1 0 2.6 0a1.3 1.3 0 1 0 -2.6 0M391.9 307.71a1.3 1.3 0 1 0 2.6 0a1.3 1.3 0 1 0 -2.6 0M394.27 304.24a1.3 1.3 0 1 0 2.6 0a1.3 1.3 0 1 0 -2.6 0M396.64 300.97a1.3 1.3 0 1 0 2.6 0a1.3 1.3 0 1 0 -2.6 0M399.01 297.88a1.3 1.3 0 1 0 2.6 0a1.3 1.3 0 1 0 -2.6 0M401.38 295a1.3 1.3 0 1 0 2.6 0a1.3 1.3 0 1 0 -2.6 0M403.75 292.36a1.3 1.3 0 1 0 2.6 0a1.3 1.3 0 1 0 -2.6 0M406.12 289.97a1.3 1.3 0 1 0 2.6 0a1.3 1.3 0 1 0 -2.6 0M408.49 287.87a1.3 1.3 0 1 0 2.6 0a1.3 1.3 0 1 0 -2.6 0M410.86 286.03a1.3 1.3 0 1 0 2.6 0a1.3 1.3 0 1 0 -2.6 0M413.23 284.37a1.3 1.3 0 1 0 2.6 0a1.3 1.3 0 1 0 -2.6 0M415.6 282.8a1.3 1.3 0 1 0 2.6 0a1.3 1.3 0 1 0 -2.6 0M417.97 281.26a1.3 1.3 0 1 0 2.6 0a1.3 1.3 0 1 0 -2.6 0M420.33 279.76a1.3 1.3 0 1 0 2.6 0a1.3 1.3 0 1 0 -2.6 0M422.7 278.31a1.3 1.3 0 1 0 2.6 0a1.3 1.3 0 1 0 -2.6 0M425.07 276.96a1.3 1.3 0 1 0 2.6 0a1.3 1.3 0 1 0 -2.6 0M427.44 275.7a1.3 1.3 0 1 0 2.6 0a1.3 1.3 0 1 0 -2.6 0M429.81 274.54a1.3 1.3 0 1 0 2.6 0a1.3 1.3 0 1 0 -2.6 0M432.18 273.48a1.3 1.3 0 1 0 2.6 0a1.3 1.3 0 1 0 -2.6 0M434.55 272.49a1.3 1.3 0 1 0 2.6 0a1.3 1.3 0 1 0 -2.6 0M436.92 271.57a1.3 1.3 0 1 0 2.6 0a1.3 1.3 0 1 0 -2.6 0M439.29 270.7a1.3 1.3 0 1 0 2.6 0a1.3 1.3 0 1 0 -2.6 0M441.66 269.87a1.3 1.3 0 1 0 2.6 0a1.3 1.3 0 1 0 -2.6 0M444.03 269.07a1.3 1.3 0 1 0 2.6 0a1.3 1.3 0 1 0 -2.6 0M446.4 268.32a1.3 1.3 0 1 0 2.6 0a1.3 1.3 0 1 0 -2.6 0M448.77 267.59a1.3 1.3 0 1 0 2.6 0a1.3 1.3 0 1 0 -2.6 0M451.14 266.89a1.3 1.3 0 1 0 2.6 0a1.3 1.3 0 1 0 -2.6 0M453.51 266.22a1.3 1.3 0 1 0 2.6 0a1.3 1.3 0 1 0 -2.6 0M455.88 265.57a1.3 1.3 0 1 0 2.6 0a1.3 1.3 0 1 0 -2.6 0M458.25 264.94a1.3 1.3 0 1 0 2.6 0a1.3 1.3 0 1 0 -2.6 0M460.62 264.35a1.3 1.3 0 1 0 2.6 0a1.3 1.3 0 1 0 -2.6 0M462.99 263.79a1.3 1.3 0 1 0 2.6 0a1.3 1.3 0 1 0 -2.6 0M465.36 263.27a1.3 1.3 0 1 0 2.6 0a1.3 1.3 0 1 0 -2.6 0M467.72 262.8a1.3 1.3 0 1 0 2.6 0a1.3 1.3 0 1 0 -2.6 0M470.09 262.38a1.3 1.3 0 1 0 2.6 0a1.3 1.3 0 1 0 -2.6 0M472.46 262a1.3 1.3 0 1 0 2.6 0a1.3 1.3 0 1 0 -2.6 0M474.83 261.67a1.3 1.3 0 1 0 2.6 0a1.3 1.3 0 1 0 -2.6 0M477.2 261.38a1.3 1.3 0 1 0 2.6 0a1.3 1.3 0 1 0 -2.6 0M479.57 261.11a1.3 1.3 0 1 0 2.6 0a1.3 1.3 0 1 0 -2.6 0M481.94 260.87a1.3 1.3 0 1 0 2.6 0a1.3 1.3 0 1 0 -2.6 0M484.31 260.64a1.3 1.3 0 1 0 2.6 0a1.3 1.3 0 1 0 -2.6 0M486.68 260.43a1.3 1.3 0 1 0 2.6 0a1.3 1.3 0 1 0 -2.6 0M489.05 260.23a1.3 1.3 0 1 0 2.6 0a1.3 1.3 0 1 0 -2.6 0M491.42 260.03a1.3 1.3 0 1 0 2.6 0a1.3 1.3 0 1 0 -2.6 0M493.79 259.84a1.3 1.3 0 1 0 2.6 0a1.3 1.3 0 1 0 -2.6 0M496.16 259.66a1.3 1.3 0 1 0 2.6 0a1.3 1.3 0 1 0 -2.6 0M498.53 259.48a1.3 1.3 0 1 0 2.6 0a1.3 1.3 0 1 0 -2.6 0M500.9 259.29a1.3 1.3 0 1 0 2.6 0a1.3 1.3 0 1 0 -2.6 0M503.27 259.1a1.3 1.3 0 1 0 2.6 0a1.3 1.3 0 1 0 -2.6 0M505.64 258.9a1.3 1.3 0 1 0 2.6 0a1.3 1.3 0 1 0 -2.6 0M508.01 258.69a1.3 1.3 0 1 0 2.6 0a1.3 1.3 0 1 0 -2.6 0M510.38 258.46a1.3 1.3 0 1 0 2.6 0a1.3 1.3 0 1 0 -2.6 0M512.75 258.23a1.3 1.3 0 1 0 2.6 0a1.3 1.3 0 1 0 -2.6 0M515.12 258a1.3 1.3 0 1 0 2.6 0a1.3 1.3 0 1 0 -2.6 0M517.48 257.77a1.3 1.3 0 1 0 2.6 0a1.3 1.3 0 1 0 -2.6 0M519.85 257.56a1.3 1.3 0 1 0 2.6 0a1.3 1.3 0 1 0 -2.6 0M522.22 257.36a1.3 1.3 0 1 0 2.6 0a1.3 1.3 0 1 0 -2.6 0M524.59 257.19a1.3 1.3 0 1 0 2.6 0a1.3 1.3 0 1 0 -2.6 0M526.96 257.04a1.3 1.3 0 1 0 2.6 0a1.3 1.3 0 1 0 -2.6 0M529.33 256.91a1.3 1.3 0 1 0 2.6 0a1.3 1.3 0 1 0 -2.6 0M531.7 256.8a1.3 1.3 0 1 0 2.6 0a1.3 1.3 0 1 0 -2.6 0M534.07 256.7a1.3 1.3 0 1 0 2.6 0a1.3 1.3 0 1 0 -2.6 0M536.44 256.61a1.3 1.3 0 1 0 2.6 0a1.3 1.3 0 1 0 -2.6 0M538.81 256.52a1.3 1.3 0 1 0 2.6 0a1.3 1.3 0 1 0 -2.6 0M541.18 256.43a1.3 1.3 0 1 0 2.6 0a1.3 1.3 0 1 0 -2.6 0M543.55 256.35a1.3 1.3 0 1 0 2.6 0a1.3 1.3 0 1 0 -2.6 0M545.92 256.26a1.3 1.3 0 1 0 2.6 0a1.3 1.3 0 1 0 -2.6 0M548.29 256.19a1.3 1.3 0 1 0 2.6 0a1.3 1.3 0 1 0 -2.6 0M550.66 256.11a1.3 1.3 0 1 0 2.6 0a1.3 1.3 0 1 0 -2.6 0M553.03 256.04a1.3 1.3 0 1 0 2.6 0a1.3 1.3 0 1 0 -2.6 0M555.4 255.97a1.3 1.3 0 1 0 2.6 0a1.3 1.3 0 1 0 -2.6 0M557.77 255.91a1.3 1.3 0 1 0 2.6 0a1.3 1.3 0 1 0 -2.6 0M560.14 255.85a1.3 1.3 0 1 0 2.6 0a1.3 1.3 0 1 0 -2.6 0M562.51 255.8a1.3 1.3 0 1 0 2.6 0a1.3 1.3 0 1 0 -2.6 0M564.87 255.75a1.3 1.3 0 1 0 2.6 0a1.3 1.3 0 1 0 -2.6 0M567.24 255.7a1.3 1.3 0 1 0 2.6 0a1.3 1.3 0 1 0 -2.6 0M569.61 255.67a1.3 1.3 0 1 0 2.6 0a1.3 1.3 0 1 0 -2.6 0M571.98 255.63a1.3 1.3 0 1 0 2.6 0a1.3 1.3 0 1 0 -2.6 0M574.35 255.61a1.3 1.3 0 1 0 2.6 0a1.3 1.3 0 1 0 -2.6 0M576.72 255.59a1.3 1.3 0 1 0 2.6 0a1.3 1.3 0 1 0 -2.6 0M579.09 255.57a1.3 1.3 0 1 0 2.6 0a1.3 1.3 0 1 0 -2.6 0M581.46 255.56a1.3 1.3 0 1 0 2.6 0a1.3 1.3 0 1 0 -2.6 0M583.83 255.54a1.3 1.3 0 1 0 2.6 0a1.3 1.3 0 1 0 -2.6 0M586.2 255.51a1.3 1.3 0 1 0 2.6 0a1.3 1.3 0 1 0 -2.6 0" fill="#000000"/>
<polyline points="350.55,384.83 352.92,381.05 355.29,377.05 357.66,372.85 360.03,368.43 362.4,363.74 364.77,358.7 367.14,353.36 369.51,347.81 371.88,342.16 374.25,336.54 376.61,331.02 378.98,325.67 381.35,320.53 383.72,315.65 386.09,311.05 388.46,306.74 390.83,302.71 393.2,298.94 395.57,295.42 397.94,292.18 400.31,289.2 402.68,286.48 405.05,283.98 407.42,281.66 409.79,279.49 412.16,277.47 414.53,275.61 416.9,273.91 419.27,272.36 421.63,270.95 424,269.67 426.37,268.49 428.74,267.42 431.11,266.44 433.48,265.53 435.85,264.68 438.22,263.86 440.59,263.05 442.96,262.29 445.33,261.57 447.7,260.92 450.07,260.33 452.44,259.8 454.81,259.3 457.18,258.84 459.55,258.41 461.92,258.01 464.29,257.64 466.66,257.29 469.02,256.97 471.39,256.67 473.76,256.39 476.13,256.13 478.5,255.88 480.87,255.64 483.24,255.41 485.61,255.2 487.98,254.99 490.35,254.79 492.72,254.61 495.09,254.43 497.46,254.27 499.83,254.12 502.2,253.99 504.57,253.87 506.94,253.77 509.31,253.69 511.68,253.64 514.05,253.59 516.41,253.56 518.78,253.54 521.15,253.53 523.52,253.51 525.89,253.49 528.26,253.47 530.63,253.44 533,253.41 535.37,253.37 537.74,253.34 540.11,253.3 542.48,253.27 544.85,253.24 547.22,253.2 549.59,253.17 551.96,253.14 554.33,253.11 556.7,253.08 559.07,253.04 561.44,253.01 563.81,252.98 566.17,252.95 568.54,252.92 570.91,252.88 573.28,252.85 575.65,252.82 578.02,252.78 580.39,252.75 582.76,252.71 585.13,252.67 587.5,252.62" fill="none" stroke="#ff0000" stroke-width="0.6"/>
<path d="M349.3 384.83a1.25 1.25 0 1 0 2.5 0a1.25 1.25 0 1 0 -2.5 0M351.67 381.05a1.25 1.25 0 1 0 2.5 0a1.25 1.25 0 1 0 -2.5 0M354.04 377.05a1.25 1.25 0 1 0 2.5 0a1.25 1.25 0 1 0 -2.5 0M356.41 372.85a1.25 1.25 0 1 0 2.5 0a1.25 1.25 0 1 0 -2.5 0M358.78 368.43a1.25 1.25 0 1 0 2.5 0a1.25 1.25 0 1 0 -2.5 0M361.15 363.74a1.25 1.25 0 1 0 2.5 0a1.25 1.25 0 1 0 -2.5 0M363.52 358.7a1.25 1.25 0 1 0 2.5 0a1.25 1.25 0 1 0 -2.5 0M365.89 353.36a1.25 1.25 0 1 0 2.5 0a1.25 1.25 0 1 0 -2.5 0M368.26 347.81a1.25 1.25 0 1 0 2.5 0a1.25 1.25 0 1 0 -2.5 0M370.63 342.16a1.25 1.25 0 1 0 2.5 0a1.25 1.25 0 1 0 -2.5 0M373 336.54a1.25 1.25 0 1 0 2.5 0a1.25 1.25 0 1 0 -2.5 0M375.36 331.02a1.25 1.25 0 1 0 2.5 0a1.25 1.25 0 1 0 -2.5 0M377.73 325.67a1.25 1.25 0 1 0 2.5 0a1.25 1.25 0 1 0 -2.5 0M380.1 320.53a1.25 1.25 0 1 0 2.5 0a1.25 1.25 0 1 0 -2.5 0M382.47 315.65a1.25 1.25 0 1 0 2.5 0a1.25 1.25 0 1 0 -2.5 0M384.84 311.05a1.25 1.25 0 1 0 2.5 0a1.25 1.25 0 1 0 -2.5 0M387.21 306.74a1.25 1.25 0 1 0 2.5 0a1.25 1.25 0 1 0 -2.5 0M389.58 302.71a1.25 1.25 0 1 0 2.5 0a1.25 1.25 0 1 0 -2.5 0M391.95 298.94a1.25 1.25 0 1 0 2.5 0a1.25 1.25 0 1 0 -2.5 0M394.32 295.42a1.25 1.25 0 1 0 2.5 0a1.25 1.25 0 1 0 -2.5 0M396.69 292.18a1.25 1.25 0 1 0 2.5 0a1.25 1.25 0 1 0 -2.5 0M399.06 289.2a1.25 1.25 0 1 0 2.5 0a1.25 1.25 0 1 0 -2.5 0M401.43 286.48a1.25 1.25 0 1 0 2.5 0a1.25 1.25 0 1 0 -2.5 0M403.8 283.98a1.25 1.25 0 1 0 2.5 0a1.25 1.25 0 1 0 -2.5 0M406.17 281.66a1.25 1.25 0 1 0 2.5 0a1.25 1.25 0 1 0 -2.5 0M408.54 279.49a1.25 1.25 0 1 0 2.5 0a1.25 1.25 0 1 0 -2.5 0M410.91 277.47a1.25 1.25 0 1 0 2.5 0a1.25 1.25 0 1 0 -2.5 0M413.28 275.61a1.25 1.25 0 1 0 2.5 0a1.25 1.25 0 1 0 -2.5 0M415.65 273.91a1.25 1.25 0 1 0 2.5 0a1.25 1.25 0 1 0 -2.5 0M418.02 272.36a1.25 1.25 0 1 0 2.5 0a1.25 1.25 0 1 0 -2.5 0M420.38 270.95a1.25 1.25 0 1 0 2.5 0a1.25 1.25 0 1 0 -2.5 0M422.75 269.67a1.25 1.25 0 1 0 2.5 0a1.25 1.25 0 1 0 -2.5 0M425.12 268.49a1.25 1.25 0 1 0 2.5 0a1.25 1.25 0 1 0 -2.5 0M427.49 267.42a1.25 1.25 0 1 0 2.5 0a1.25 1.25 0 1 0 -2.5 0M429.86 266.44a1.25 1.25 0 1 0 2.5 0a1.25 1.25 0 1 0 -2.5 0M432.23 265.53a1.25 1.25 0 1 0 2.5 0a1.25 1.25 0 1 0 -2.5 0M434.6 264.68a1.25 1.25 0 1 0 2.5 0a1.25 1.25 0 1 0 -2.5 0M436.97 263.86a1.25 1.25 0 1 0 2.5 0a1.25 1.25 0 1 0 -2.5 0M439.34 263.05a1.25 1.25 0 1 0 2.5 0a1.25 1.25 0 1 0 -2.5 0M441.71 262.29a1.25 1.25 0 1 0 2.5 0a1.25 1.25 0 1 0 -2.5 0M444.08 261.57a1.25 1.25 0 1 0 2.5 0a1.25 1.25 0 1 0 -2.5 0M446.45 260.92a1.25 1.25 0 1 0 2.5 0a1.25 1.25 0 1 0 -2.5 0M448.82 260.33a1.25 1.25 0 1 0 2.5 0a1.25 1.25 0 1 0 -2.5 0M451.19 259.8a1.25 1.25 0 1 0 2.5 0a1.25 1.25 0 1 0 -2.5 0M453.56 259.3a1.25 1.25 0 1 0 2.5 0a1.25 1.25 0 1 0 -2.5 0M455.93 258.84a1.25 1.25 0 1 0 2.5 0a1.25 1.25 0 1 0 -2.5 0M458.3 258.41a1.25 1.25 0 1 0 2.5 0a1.25 1.25 0 1 0 -2.5 0M460.67 258.01a1.25 1.25 0 1 0 2.5 0a1.25 1.25 0 1 0 -2.5 0M463.04 257.64a1.25 1.25 0 1 0 2.5 0a1.25 1.25 0 1 0 -2.5 0M465.41 257.29a1.25 1.25 0 1 0 2.5 0a1.25 1.25 0 1 0 -2.5 0M467.77 256.97a1.25 1.25 0 1 0 2.5 0a1.25 1.25 0 1 0 -2.5 0M470.14 256.67a1.25 1.25 0 1 0 2.5 0a1.25 1.25 0 1 0 -2.5 0M472.51 256.39a1.25 1.25 0 1 0 2.5 0a1.25 1.25 0 1 0 -2.5 0M474.88 256.13a1.25 1.25 0 1 0 2.5 0a1.25 1.25 0 1 0 -2.5 0M477.25 255.88a1.25 1.25 0 1 0 2.5 0a1.25 1.25 0 1 0 -2.5 0M479.62 255.64a1.25 1.25 0 1 0 2.5 0a1.25 1.25 0 1 0 -2.5 0M481.99 255.41a1.25 1.25 0 1 0 2.5 0a1.25 1.25 0 1 0 -2.5 0M484.36 255.2a1.25 1.25 0 1 0 2.5 0a1.25 1.25 0 1 0 -2.5 0M486.73 254.99a1.25 1.25 0 1 0 2.5 0a1.25 1.25 0 1 0 -2.5 0M489.1 254.79a1.25 1.25 0 1 0 2.5 0a1.25 1.25 0 1 0 -2.5 0M491.47 254.61a1.25 1.25 0 1 0 2.5 0a1.25 1.25 0 1 0 -2.5 0M493.84 254.43a1.25 1.25 0 1 0 2.5 0a1.25 1.25 0 1 0 -2.5 0M496.21 254.27a1.25 1.25 0 1 0 2.5 0a1.25 1.25 0 1 0 -2.5 0M498.58 254.12a1.25 1.25 0 1 0 2.5 0a1.25 1.25 0 1 0 -2.5 0M500.95 253.99a1.25 1.25 0 1 0 2.5 0a1.25 1.25 0 1 0 -2.5 0M503.32 253.87a1.25 1.25 0 1 0 2.5 0a1.25 1.25 0 1 0 -2.5 0M505.69 253.77a1.25 1.25 0 1 0 2.5 0a1.25 1.25 0 1 0 -2.5 0M508.06 253.69a1.25 1.25 0 1 0 2.5 0a1.25 1.25 0 1 0 -2.5 0M510.43 253.64a1.25 1.25 0 1 0 2.5 0a1.25 1.25 0 1 0 -2.5 0M512.8 253.59a1.25 1.25 0 1 0 2.5 0a1.25 1.25 0 1 0 -2.5 0M515.16 253.56a1.25 1.25 0 1 0 2.5 0a1.25 1.25 0 1 0 -2.5 0M517.53 253.54a1.25 1.25 0 1 0 2.5 0a1.25 1.25 0 1 0 -2.5 0M519.9 253.53a1.25 1.25 0 1 0 2.5 0a1.25 1.25 0 1 0 -2.5 0M522.27 253.51a1.25 1.25 0 1 0 2.5 0a1.25 1.25 0 1 0 -2.5 0M524.64 253.49a1.25 1.25 0 1 0 2.5 0a1.25 1.25 0 1 0 -2.5 0M527.01 253.47a1.25 1.25 0 1 0 2.5 0a1.25 1.25 0 1 0 -2.5 0M529.38 253.44a1.25 1.25 0 1 0 2.5 0a1.25 1.25 0 1 0 -2.5 0M531.75 253.41a1.25 1.25 0 1 0 2.5 0a1.25 1.25 0 1 0 -2.5 0M534.12 253.37a1.25 1.25 0 1 0 2.5 0a1.25 1.25 0 1 0 -2.5 0M536.49 253.34a1.25 1.25 0 1 0 2.5 0a1.25 1.25 0 1 0 -2.5 0M538.86 253.3a1.25 1.25 0 1 0 2.5 0a1.25 1.25 0 1 0 -2.5 0M541.23 253.27a1.25 1.25 0 1 0 2.5 0a1.25 1.25 0 1 0 -2.5 0M543.6 253.24a1.25 1.25 0 1 0 2.5 0a1.25 1.25 0 1 0 -2.5 0M545.97 253.2a1.25 1.25 0 1 0 2.5 0a1.25 1.25 0 1 0 -2.5 0M548.34 253.17a1.25 1.25 0 1 0 2.5 0a1.25 1.25 0 1 0 -2.5 0M550.71 253.14a1.25 1.25 0 1 0 2.5 0a1.25 1.25 0 1 0 -2.5 0M553.08 253.11a1.25 1.25 0 1 0 2.5 0a1.25 1.25 0 1 0 -2.5 0M555.45 253.08a1.25 1.25 0 1 0 2.5 0a1.25 1.25 0 1 0 -2.5 0M557.82 253.04a1.25 1.25 0 1 0 2.5 0a1.25 1.25 0 1 0 -2.5 0M560.19 253.01a1.25 1.25 0 1 0 2.5 0a1.25 1.25 0 1 0 -2.5 0M562.56 252.98a1.25 1.25 0 1 0 2.5 0a1.25 1.25 0 1 0 -2.5 0M564.92 252.95a1.25 1.25 0 1 0 2.5 0a1.25 1.25 0 1 0 -2.5 0M567.29 252.92a1.25 1.25 0 1 0 2.5 0a1.25 1.25 0 1 0 -2.5 0M569.66 252.88a1.25 1.25 0 1 0 2.5 0a1.25 1.25 0 1 0 -2.5 0M572.03 252.85a1.25 1.25 0 1 0 2.5 0a1.25 1.25 0 1 0 -2.5 0M574.4 252.82a1.25 1.25 0 1 0 2.5 0a1.25 1.25 0 1 0 -2.5 0M576.77 252.78a1.25 1.25 0 1 0 2.5 0a1.25 1.25 0 1 0 -2.5 0M579.14 252.75a1.25 1.25 0 1 0 2.5 0a1.25 1.25 0 1 0 -2.5 0M581.51 252.71a1.25 1.25 0 1 0 2.5 0a1.25 1.25 0 1 0 -2.5 0M583.88 252.67a1.25 1.25 0 1 0 2.5 0a1.25 1.25 0 1 0 -2.5 0M586.25 252.62a1.25 1.25 0 1 0 2.5 0a1.25 1.25 0 1 0 -2.5 0" fill="#ff0000"/>
<path d="M349.25 384.82a1.3 1.3 0 1 0 2.6 0a1.3 1.3 0 1 0 -2.6 0M351.62 381.39a1.3 1.3 0 1 0 2.6 0a1.3 1.3 0 1 0 -2.6 0M353.99 377.79a1.3 1.3 0 1 0 2.6 0a1.3 1.3 0 1 0 -2.6 0M356.36 374.05a1.3 1.3 0 1 0 2.6 0a1.3 1.3 0 1 0 -2.6 0M358.73 370.19a1.3 1.3 0 1 0 2.6 0a1.3 1.3 0 1 0 -2.6 0M361.1 366.16a1.3 1.3 0 1 0 2.6 0a1.3 1.3 0 1 0 -2.6 0M363.47 361.9a1.3 1.3 0 1 0 2.6 0a1.3 1.3 0 1 0 -2.6 0M365.84 357.36a1.3 1.3 0 1 0 2.6 0a1.3 1.3 0 1 0 -2.6 0M368.21 352.58a1.3 1.3 0 1 0 2.6 0a1.3 1.3 0 1 0 -2.6 0M370.58 347.64a1.3 1.3 0 1 0 2.6 0a1.3 1.3 0 1 0 -2.6 0M372.94 342.63a1.3 1.3 0 1 0 2.6 0a1.3 1.3 0 1 0 -2.6 0M375.31 337.68a1.3 1.3 0 1 0 2.6 0a1.3 1.3 0 1 0 -2.6 0M377.68 332.86a1.3 1.3 0 1 0 2.6 0a1.3 1.3 0 1 0 -2.6 0M380.05 328.19a1.3 1.3 0 1 0 2.6 0a1.3 1.3 0 1 0 -2.6 0M382.42 323.68a1.3 1.3 0 1 0 2.6 0a1.3 1.3 0 1 0 -2.6 0M384.79 319.36a1.3 1.3 0 1 0 2.6 0a1.3 1.3 0 1 0 -2.6 0M387.16 315.25a1.3 1.3 0 1 0 2.6 0a1.3 1.3 0 1 0 -2.6 0M389.53 311.38a1.3 1.3 0 1 0 2.6 0a1.3 1.3 0 1 0 -2.6 0M391.9 307.71a1.3 1.3 0 1 0 2.6 0a1.3 1.3 0 1 0 -2.6 0M394.27 304.24a1.3 1.3 0 1 0 2.6 0a1.3 1.3 0 1 0 -2.6 0M396.64 300.97a1.3 1.3 0 1 0 2.6 0a1.3 1.3 0 1 0 -2.6 0M399.01 297.88a1.3 1.3 0 1 0 2.6 0a1.3 1.3 0 1 0 -2.6 0M401.38 295a1.3 1.3 0 1 0 2.6 0a1.3 1.3 0 1 0 -2.6 0M403.75 292.36a1.3 1.3 0 1 0 2.6 0a1.3 1.3 0 1 0 -2.6 0M406.12 289.97a1.3 1.3 0 1 0 2.6 0a1.3 1.3 0 1 0 -2.6 0M408.49 287.87a1.3 1.3 0 1 0 2.6 0a1.3 1.3 0 1 0 -2.6 0M410.86 286.03a1.3 1.3 0 1 0 2.6 0a1.3 1.3 0 1 0 -2.6 0M413.23 284.37a1.3 1.3 0 1 0 2.6 0a1.3 1.3 0 1 0 -2.6 0M415.6 282.8a1.3 1.3 0 1 0 2.6 0a1.3 1.3 0 1 0 -2.6 0M417.97 281.26a1.3 1.3 0 1 0 2.6 0a1.3 1.3 0 1 0 -2.6 0M420.33 279.76a1.3 1.3 0 1 0 2.6 0a1.3 1.3 0 1 0 -2.6 0M422.7 278.31a1.3 1.3 0 1 0 2.6 0a1.3 1.3 0 1 0 -2.6 0M425.07 276.96a1.3 1.3 0 1 0 2.6 0a1.3 1.3 0 1 0 -2.6 0M427.44 275.7a1.3 1.3 0 1 0 2.6 0a1.3 1.3 0 1 0 -2.6 0M429.81 274.54a1.3 1.3 0 1 0 2.6 0a1.3 1.3 0 1 0 -2.6 0M432.18 273.48a1.3 1.3 0 1 0 2.6 0a1.3 1.3 0 1 0 -2.6 0M434.55 272.49a1.3 1.3 0 1 0 2.6 0a1.3 1.3 0 1 0 -2.6 0M436.92 271.57a1.3 1.3 0 1 0 2.6 0a1.3 1.3 0 1 0 -2.6 0M439.29 270.7a1.3 1.3 0 1 0 2.6 0a1.3 1.3 0 1 0 -2.6 0M441.66 269.87a1.3 1.3 0 1 0 2.6 0a1.3 1.3 0 1 0 -2.6 0M444.03 269.07a1.3 1.3 0 1 0 2.6 0a1.3 1.3 0 1 0 -2.6 0M446.4 268.32a1.3 1.3 0 1 0 2.6 0a1.3 1.3 0 1 0 -2.6 0M448.77 267.59a1.3 1.3 0 1 0 2.6 0a1.3 1.3 0 1 0 -2.6 0M451.14 266.89a1.3 1.3 0 1 0 2.6 0a1.3 1.3 0 1 0 -2.6 0M453.51 266.22a1.3 1.3 0 1 0 2.6 0a1.3 1.3 0 1 0 -2.6 0M455.88 265.57a1.3 1.3 0 1 0 2.6 0a1.3 1.3 0 1 0 -2.6 0M458.25 264.94a1.3 1.3 0 1 0 2.6 0a1.3 1.3 0 1 0 -2.6 0M460.62 264.35a1.3 1.3 0 1 0 2.6 0a1.3 1.3 0 1 0 -2.6 0M462.99 263.79a1.3 1.3 0 1 0 2.6 0a1.3 1.3 0 1 0 -2.6 0M465.36 263.27a1.3 1.3 0 1 0 2.6 0a1.3 1.3 0 1 0 -2.6 0M467.72 262.8a1.3 1.3 0 1 0 2.6 0a1.3 1.3 0 1 0 -2.6 0M470.09 262.38a1.3 1.3 0 1 0 2.6 0a1.3 1.3 0 1 0 -2.6 0M472.46 262a1.3 1.3 0 1 0 2.6 0a1.3 1.3 0 1 0 -2.6 0M474.83 261.67a1.3 1.3 0 1 0 2.6 0a1.3 1.3 0 1 0 -2.6 0M477.2 261.38a1.3 1.3 0 1 0 2.6 0a1.3 1.3 0 1 0 -2.6 0M479.57 261.11a1.3 1.3 0 1 0 2.6 0a1.3 1.3 0 1 0 -2.6 0M481.94 260.87a1.3 1.3 0 1 0 2.6 0a1.3 1.3 0 1 0 -2.6 0M484.31 260.64a1.3 1.3 0 1 0 2.6 0a1.3 1.3 0 1 0 -2.6 0M486.68 260.43a1.3 1.3 0 1 0 2.6 0a1.3 1.3 0 1 0 -2.6 0M489.05 260.23a1.3 1.3 0 1 0 2.6 0a1.3 1.3 0 1 0 -2.6 0M491.42 260.03a1.3 1.3 0 1 0 2.6 0a1.3 1.3 0 1 0 -2.6 0M493.79 259.84a1.3 1.3 0 1 0 2.6 0a1.3 1.3 0 1 0 -2.6 0M496.16 259.66a1.3 1.3 0 1 0 2.6 0a1.3 1.3 0 1 0 -2.6 0M498.53 259.48a1.3 1.3 0 1 0 2.6 0a1.3 1.3 0 1 0 -2.6 0M500.9 259.29a1.3 1.3 0 1 0 2.6 0a1.3 1.3 0 1 0 -2.6 0M503.27 259.1a1.3 1.3 0 1 0 2.6 0a1.3 1.3 0 1 0 -2.6 0M505.64 258.9a1.3 1.3 0 1 0 2.6 0a1.3 1.3 0 1 0 -2.6 0M508.01 258.69a1.3 1.3 0 1 0 2.6 0a1.3 1.3 0 1 0 -2.6 0M510.38 258.46a1.3 1.3 0 1 0 2.6 0a1.3 1.3 0 1 0 -2.6 0M512.75 258.23a1.3 1.3 0 1 0 2.6 0a1.3 1.3 0 1 0 -2.6 0M515.12 258a1.3 1.3 0 1 0 2.6 0a1.3 1.3 0 1 0 -2.6 0M517.48 257.77a1.3 1.3 0 1 0 2.6 0a1.3 1.3 0 1 0 -2.6 0M519.85 257.56a1.3 1.3 0 1 0 2.6 0a1.3 1.3 0 1 0 -2.6 0M522.22 257.36a1.3 1.3 0 1 0 2.6 0a1.3 1.3 0 1 0 -2.6 0M524.59 257.19a1.3 1.3 0 1 0 2.6 0a1.3 1.3 0 1 0 -2.6 0M526.96 257.04a1.3 1.3 0 1 0 2.6 0a1.3 1.3 0 1 0 -2.6 0M529.33 256.91a1.3 1.3 0 1 0 2.6 0a1.3 1.3 0 1 0 -2.6 0M531.7 256.8a1.3 1.3 0 1 0 2.6 0a1.3 1.3 0 1 0 -2.6 0M534.07 256.7a1.3 1.3 0 1 0 2.6 0a1.3 1.3 0 1 0 -2.6 0M536.44 256.61a1.3 1.3 0 1 0 2.6 0a1.3 1.3 0 1 0 -2.6 0M538.81 256.52a1.3 1.3 0 1 0 2.6 0a1.3 1.3 0 1 0 -2.6 0M541.18 256.43a1.3 1.3 0 1 0 2.6 0a1.3 1.3 0 1 0 -2.6 0M543.55 256.35a1.3 1.3 0 1 0 2.6 0a1.3 1.3 0 1 0 -2.6 0M545.92 256.26a1.3 1.3 0 1 0 2.6 0a1.3 1.3 0 1 0 -2.6 0M548.29 256.19a1.3 1.3 0 1 0 2.6 0a1.3 1.3 0 1 0 -2.6 0M550.66 256.11a1.3 1.3 0 1 0 2.6 0a1.3 1.3 0 1 0 -2.6 0M553.03 256.04a1.3 1.3 0 1 0 2.6 0a1.3 1.3 0 1 0 -2.6 0M555.4 255.97a1.3 1.3 0 1 0 2.6 0a1.3 1.3 0 1 0 -2.6 0M557.77 255.91a1.3 1.3 0 1 0 2.6 0a1.3 1.3 0 1 0 -2.6 0M560.14 255.85a1.3 1.3 0 1 0 2.6 0a1.3 1.3 0 1 0 -2.6 0M562.51 255.8a1.3 1.3 0 1 0 2.6 0a1.3 1.3 0 1 0 -2.6 0M564.87 255.75a1.3 1.3 0 1 0 2.6 0a1.3 1.3 0 1 0 -2.6 0M567.24 255.7a1.3 1.3 0 1 0 2.6 0a1.3 1.3 0 1 0 -2.6 0M569.61 255.67a1.3 1.3 0 1 0 2.6 0a1.3 1.3 0 1 0 -2.6 0M571.98 255.63a1.3 1.3 0 1 0 2.6 0a1.3 1.3 0 1 0 -2.6 0M574.35 255.61a1.3 1.3 0 1 0 2.6 0a1.3 1.3 0 1 0 -2.6 0M576.72 255.59a1.3 1.3 0 1 0 2.6 0a1.3 1.3 0 1 0 -2.6 0M579.09 255.57a1.3 1.3 0 1 0 2.6 0a1.3 1.3 0 1 0 -2.6 0M581.46 255.56a1.3 1.3 0 1 0 2.6 0a1.3 1.3 0 1 0 -2.6 0M583.83 255.54a1.3 1.3 0 1 0 2.6 0a1.3 1.3 0 1 0 -2.6 0M586.2 255.51a1.3 1.3 0 1 0 2.6 0a1.3 1.3 0 1 0 -2.6 0" fill="#000" opacity="0.33"/>
<path d="M349.25 384.82a1.3 1.3 0 1 0 2.6 0a1.3 1.3 0 1 0 -2.6 0M351.62 381.19a1.3 1.3 0 1 0 2.6 0a1.3 1.3 0 1 0 -2.6 0M353.99 377.61a1.3 1.3 0 1 0 2.6 0a1.3 1.3 0 1 0 -2.6 0M356.36 374.07a1.3 1.3 0 1 0 2.6 0a1.3 1.3 0 1 0 -2.6 0M358.73 370.58a1.3 1.3 0 1 0 2.6 0a1.3 1.3 0 1 0 -2.6 0" fill="#1a00ff" opacity="0.55"/>
<path d="M361.1 367.09a1.3 1.3 0 1 0 2.6 0a1.3 1.3 0 1 0 -2.6 0M363.47 363.51a1.3 1.3 0 1 0 2.6 0a1.3 1.3 0 1 0 -2.6 0" fill="#1a00ff" opacity="0.3"/>
</g>
<rect x="350.55" y="239.4" width="236.95" height="174.5" fill="none" stroke="#2e2e2e" stroke-width="1.25"/>
<path d="M350.55 413.9v4M350.55 239.4v2.8M380.17 413.9v2M380.17 239.4v1.8M409.79 413.9v4M409.79 239.4v2.8M439.41 413.9v2M439.41 239.4v1.8M469.02 413.9v4M469.02 239.4v2.8M498.64 413.9v2M498.64 239.4v1.8M528.26 413.9v4M528.26 239.4v2.8M557.88 413.9v2M557.88 239.4v1.8M587.5 413.9v4M587.5 239.4v2.8M350.55 413.9h-4M587.5 413.9h-2.8M350.55 384.82h-2M587.5 384.82h-1.8M350.55 355.73h-4M587.5 355.73h-2.8M350.55 326.65h-2M587.5 326.65h-1.8M350.55 297.57h-4M587.5 297.57h-2.8M350.55 268.48h-2M587.5 268.48h-1.8M350.55 239.4h-4M587.5 239.4h-2.8" stroke="#2e2e2e" stroke-width="1.25" fill="none"/>
<text transform="translate(350.55 431.8) scale(0.98 1.07)" font-size="15.2" text-anchor="middle" fill="#000" stroke="#000" stroke-width="0.2">0</text>
<text transform="translate(409.79 431.8) scale(0.98 1.07)" font-size="15.2" text-anchor="middle" fill="#000" stroke="#000" stroke-width="0.2">1000</text>
<text transform="translate(469.02 431.8) scale(0.98 1.07)" font-size="15.2" text-anchor="middle" fill="#000" stroke="#000" stroke-width="0.2">2000</text>
<text transform="translate(528.26 431.8) scale(0.98 1.07)" font-size="15.2" text-anchor="middle" fill="#000" stroke="#000" stroke-width="0.2">3000</text>
<text transform="translate(587.5 431.8) scale(0.98 1.07)" font-size="15.2" text-anchor="middle" fill="#000" stroke="#000" stroke-width="0.2">4000</text>
<text transform="translate(344.35 418.4) scale(0.98 1.07)" font-size="15.2" text-anchor="end" fill="#000" stroke="#000" stroke-width="0.2">0.0</text>
<text transform="translate(344.35 360.23) scale(0.98 1.07)" font-size="15.2" text-anchor="end" fill="#000" stroke="#000" stroke-width="0.2">0.2</text>
<text transform="translate(344.35 302.07) scale(0.98 1.07)" font-size="15.2" text-anchor="end" fill="#000" stroke="#000" stroke-width="0.2">0.4</text>
<text transform="translate(344.35 243.9) scale(0.98 1.07)" font-size="15.2" text-anchor="end" fill="#000" stroke="#000" stroke-width="0.2">0.6</text>
<text x="354.75" y="262.7" font-size="22" fill="#000">(d)</text>
</g>
<text x="165.7" y="18" font-size="25.3" text-anchor="middle" fill="#000">ER Networks</text>
<text x="462.5" y="18" font-size="25.3" text-anchor="middle" fill="#000">PL Networks</text>
<text x="170.3" y="451.8" font-size="23.5" font-style="italic" text-anchor="middle" fill="#000">t</text>
<text x="469.9" y="451.8" font-size="23.5" font-style="italic" text-anchor="middle" fill="#000">t</text>
<text transform="translate(16.5 138.5) rotate(-90)" font-size="23" text-anchor="middle" fill="#000"><tspan font-style="italic" font-size="25.5">ρ</tspan><tspan font-size="15" dy="5">A</tspan><tspan dy="-5">(</tspan><tspan font-style="italic">t</tspan>)</text>
<text transform="translate(16 342.5) rotate(-90)" font-size="23" text-anchor="middle" fill="#000"><tspan font-style="italic" font-size="25.5">ρ</tspan><tspan font-size="15" dy="5">I</tspan><tspan dy="-5">(</tspan><tspan font-style="italic">t</tspan>)</text>
<path d="M141.5 100.5H176.5" stroke="#0000ff" stroke-width="0.6"/>
<circle cx="159" cy="100.5" r="1.3" fill="#0000ff"/>
<text x="181" y="105.0" font-size="15.2" fill="#000">Simulation</text>
<path d="M141.5 119.5H176.5" stroke="#ff00ff" stroke-width="0.6"/>
<circle cx="159" cy="119.5" r="1.3" fill="#ff00ff"/>
<text x="181" y="124.0" font-size="15.2" fill="#000">EDT</text>
<path d="M141.5 138.5H176.5" stroke="#000000" stroke-width="0.6"/>
<circle cx="159" cy="138.5" r="1.3" fill="#000000"/>
<text x="181" y="143.0" font-size="15.2" fill="#000">MMCA</text>
<path d="M141.5 157.5H176.5" stroke="#ff0000" stroke-width="0.6"/>
<circle cx="159" cy="157.5" r="1.3" fill="#ff0000"/>
<text x="181" y="162.0" font-size="15.2" fill="#000">HMF</text>
</svg>
</body></html>
